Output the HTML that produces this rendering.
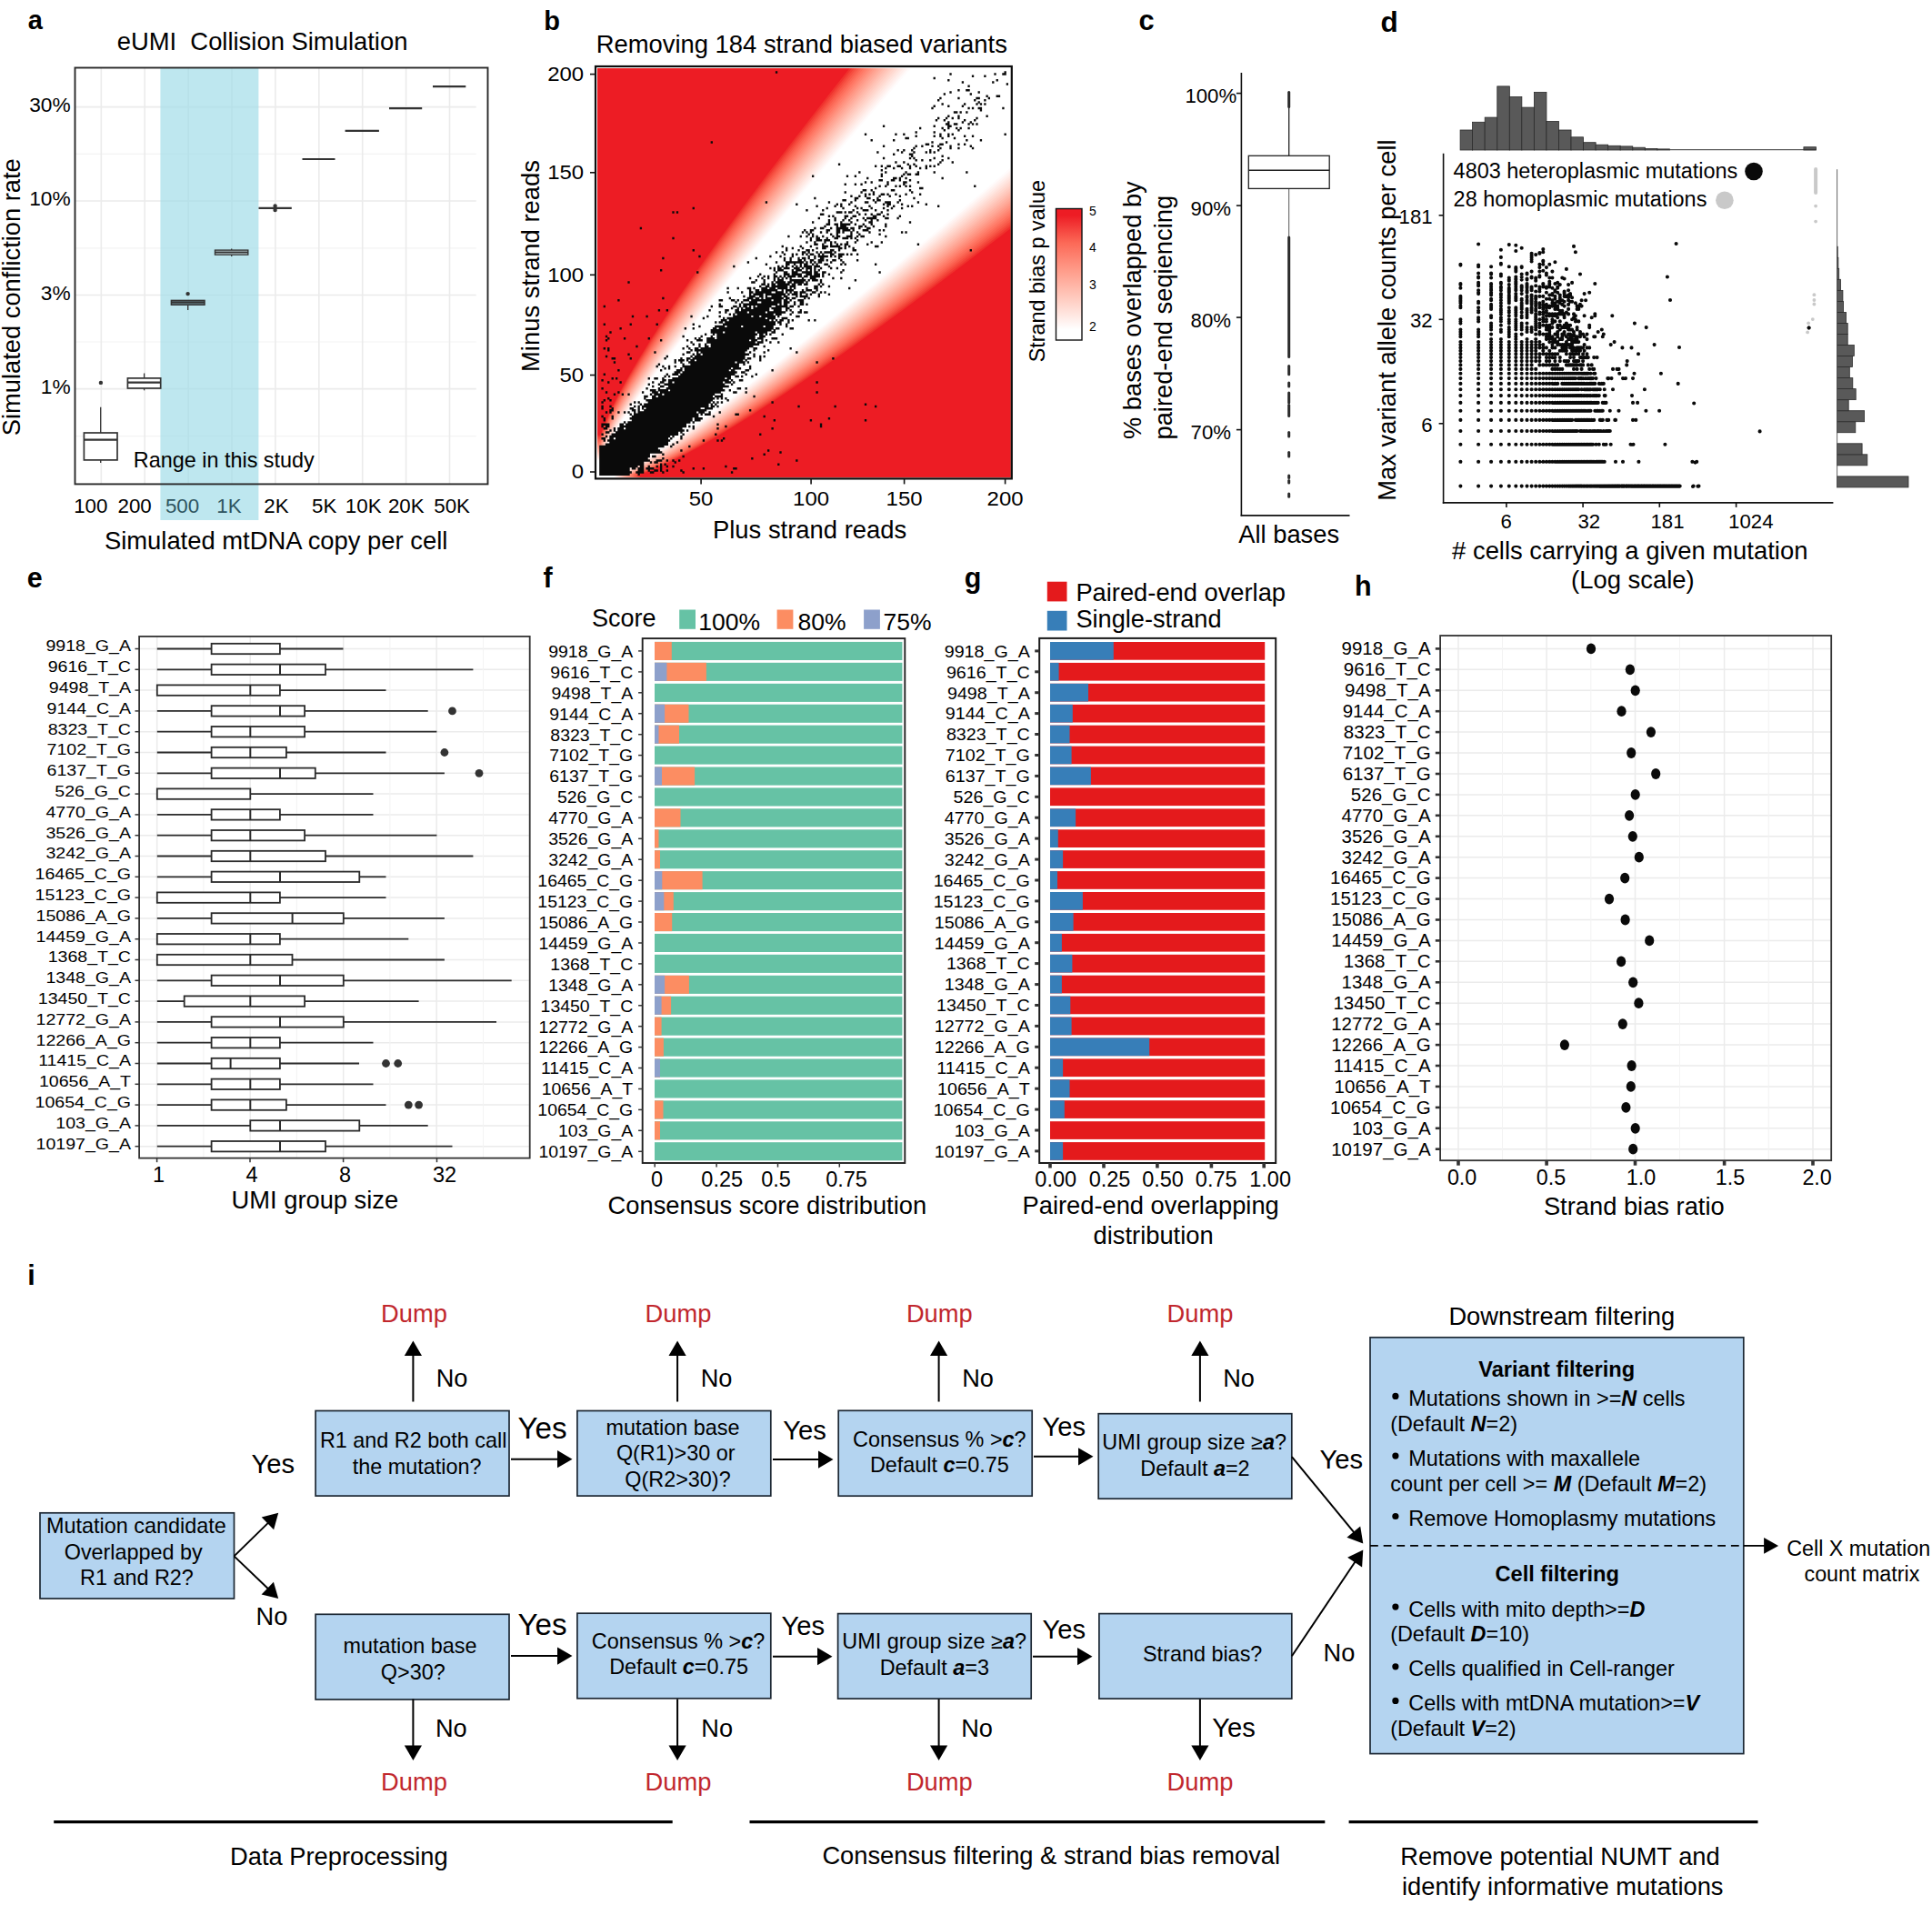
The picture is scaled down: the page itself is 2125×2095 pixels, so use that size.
<!DOCTYPE html>
<html><head><meta charset="utf-8"><title>Figure</title>
<style>html,body{margin:0;padding:0;background:#fff}svg{display:block}text{font-family:"Liberation Sans",sans-serif}</style></head><body>
<svg width="2125" height="2095" viewBox="0 0 2125 2095">
<rect width="2125" height="2095" fill="#fff"/>
<g id="pa">
<text x="30.8" y="32.3" font-size="29.00" font-weight="bold">a</text>
<text x="128.7" y="55.2" font-size="27.40">eUMI  Collision Simulation</text>
<line x1="82.5" y1="117.6" x2="523.8" y2="117.6" stroke="#ebebeb" stroke-width="1.6"/>
<line x1="82.5" y1="221.0" x2="523.8" y2="221.0" stroke="#ebebeb" stroke-width="1.6"/>
<line x1="82.5" y1="324.5" x2="523.8" y2="324.5" stroke="#ebebeb" stroke-width="1.6"/>
<line x1="82.5" y1="427.6" x2="523.8" y2="427.6" stroke="#ebebeb" stroke-width="1.6"/>
<line x1="82.5" y1="169.3" x2="523.8" y2="169.3" stroke="#f3f3f3" stroke-width="1.2"/>
<line x1="82.5" y1="272.8" x2="523.8" y2="272.8" stroke="#f3f3f3" stroke-width="1.2"/>
<line x1="82.5" y1="376.0" x2="523.8" y2="376.0" stroke="#f3f3f3" stroke-width="1.2"/>
<line x1="82.5" y1="479.6" x2="523.8" y2="479.6" stroke="#f3f3f3" stroke-width="1.2"/>
<line x1="111.3" y1="74.5" x2="111.3" y2="532.4" stroke="#ebebeb" stroke-width="1.6"/>
<line x1="159.2" y1="74.5" x2="159.2" y2="532.4" stroke="#ebebeb" stroke-width="1.6"/>
<line x1="207.1" y1="74.5" x2="207.1" y2="532.4" stroke="#ebebeb" stroke-width="1.6"/>
<line x1="255.0" y1="74.5" x2="255.0" y2="532.4" stroke="#ebebeb" stroke-width="1.6"/>
<line x1="302.9" y1="74.5" x2="302.9" y2="532.4" stroke="#ebebeb" stroke-width="1.6"/>
<line x1="350.8" y1="74.5" x2="350.8" y2="532.4" stroke="#ebebeb" stroke-width="1.6"/>
<line x1="398.7" y1="74.5" x2="398.7" y2="532.4" stroke="#ebebeb" stroke-width="1.6"/>
<line x1="446.6" y1="74.5" x2="446.6" y2="532.4" stroke="#ebebeb" stroke-width="1.6"/>
<line x1="494.5" y1="74.5" x2="494.5" y2="532.4" stroke="#ebebeb" stroke-width="1.6"/>
<rect x="176.4" y="74.5" width="108.0" height="497.5" fill="#9fdbe8" opacity="0.68"/>
<rect x="82.5" y="74.5" width="454.0" height="457.9" fill="none" stroke="#2a2a2a" stroke-width="1.9"/>
<text x="77.6" y="123.0" font-size="22.70" text-anchor="end">30%</text>
<text x="77.6" y="226.4" font-size="22.70" text-anchor="end">10%</text>
<text x="77.6" y="329.9" font-size="22.70" text-anchor="end">3%</text>
<text x="77.6" y="433.0" font-size="22.70" text-anchor="end">1%</text>
<text x="99.8" y="563.7" font-size="22.30" text-anchor="middle">100</text>
<text x="148.1" y="563.7" font-size="22.30" text-anchor="middle">200</text>
<text x="200.5" y="563.7" font-size="22.30" text-anchor="middle" fill="#2f5560">500</text>
<text x="251.9" y="563.7" font-size="22.30" text-anchor="middle" fill="#2f5560">1K</text>
<text x="304.0" y="563.7" font-size="22.30" text-anchor="middle">2K</text>
<text x="356.7" y="563.7" font-size="22.30" text-anchor="middle">5K</text>
<text x="399.7" y="563.7" font-size="22.30" text-anchor="middle">10K</text>
<text x="446.8" y="563.7" font-size="22.30" text-anchor="middle">20K</text>
<text x="497.1" y="563.7" font-size="22.30" text-anchor="middle">50K</text>
<text x="114.9" y="604.4" font-size="27.40">Simulated mtDNA copy per cell</text>
<text x="22.0" y="326.7" font-size="27.30" text-anchor="middle" transform="rotate(-90 22.0 326.7)">Simulated confliction rate</text>
<text x="146.8" y="514.4" font-size="23.40">Range in this study</text>
<line x1="110.7" y1="447.8" x2="110.7" y2="476.0" stroke="#333" stroke-width="1.3"/>
<line x1="110.7" y1="505.9" x2="110.7" y2="509.0" stroke="#333" stroke-width="1.3"/>
<rect x="92.4" y="476.0" width="36.6" height="29.9" fill="#fff" stroke="#333" stroke-width="1.7"/>
<line x1="92.4" y1="483.7" x2="129.0" y2="483.7" stroke="#333" stroke-width="2.21"/>
<circle cx="110.9" cy="420.9" r="2.2" fill="#333"/>
<line x1="158.6" y1="410.5" x2="158.6" y2="415.9" stroke="#333" stroke-width="1.3"/>
<line x1="158.6" y1="427.0" x2="158.6" y2="429.3" stroke="#333" stroke-width="1.3"/>
<rect x="140.4" y="415.9" width="36.3" height="11.1" fill="#fff" stroke="#333" stroke-width="1.7"/>
<line x1="140.4" y1="420.6" x2="176.7" y2="420.6" stroke="#333" stroke-width="2.21"/>
<line x1="206.7" y1="330.0" x2="206.7" y2="330.4" stroke="#333" stroke-width="1.3"/>
<line x1="206.7" y1="335.2" x2="206.7" y2="341.0" stroke="#333" stroke-width="1.3"/>
<rect x="188.4" y="330.4" width="36.6" height="4.8" fill="#6d8b93" stroke="#333" stroke-width="1.5"/>
<line x1="188.4" y1="332.5" x2="225.0" y2="332.5" stroke="#333" stroke-width="1.9500000000000002"/>
<circle cx="206.6" cy="323.1" r="2.2" fill="#333"/>
<line x1="254.7" y1="273.5" x2="254.7" y2="275.1" stroke="#333" stroke-width="1.3"/>
<line x1="254.7" y1="280.1" x2="254.7" y2="282.0" stroke="#333" stroke-width="1.3"/>
<rect x="236.5" y="275.1" width="36.3" height="5.0" fill="#d9f0f5" stroke="#333" stroke-width="1.4"/>
<line x1="236.5" y1="277.5" x2="272.8" y2="277.5" stroke="#333" stroke-width="1.8199999999999998"/>
<line x1="284.5" y1="228.8" x2="320.8" y2="228.8" stroke="#333" stroke-width="2.2"/>
<line x1="332.5" y1="175.0" x2="368.5" y2="175.0" stroke="#333" stroke-width="2.2"/>
<line x1="379.6" y1="143.8" x2="416.9" y2="143.8" stroke="#333" stroke-width="2.2"/>
<line x1="428.0" y1="119.2" x2="464.2" y2="119.2" stroke="#333" stroke-width="2.2"/>
<line x1="476.0" y1="95.1" x2="512.3" y2="95.1" stroke="#333" stroke-width="2.2"/>
<circle cx="302.6" cy="226.5" r="2.2" fill="#333"/>
<circle cx="302.6" cy="231.0" r="2.2" fill="#333"/>
</g>
<g id="pb">
<text x="598.3" y="32.8" font-size="29.00" font-weight="bold">b</text>
<text x="655.7" y="57.8" font-size="27.40">Removing 184 strand biased variants</text>
<clipPath id="cpb"><rect x="657.0" y="75.6" width="454.2" height="449.2"/></clipPath>
<g clip-path="url(#cpb)">
<polygon points="660.3,506.7 661.6,503.1 663.1,499.7 664.6,496.3 666.2,493.1 667.9,489.9 669.6,486.7 671.4,483.6 673.2,480.5 675.0,477.4 676.9,474.4 678.8,471.3 680.7,468.3 682.6,465.4 684.5,462.4 686.4,459.4 688.4,456.5 690.4,453.6 692.4,450.7 694.4,447.8 696.4,444.9 698.4,442.0 700.4,439.1 702.5,436.3 704.5,433.4 706.4,430.9 719.7,412.8 733.2,394.9 746.9,377.2 760.8,359.6 774.7,342.2 788.8,324.8 802.9,307.5 817.2,290.3 831.4,273.2 845.8,256.1 860.2,239.0 874.6,222.0 889.1,205.1 903.6,188.2 918.1,171.3 932.7,154.4 947.3,137.6 962.0,120.8 976.6,104.1 991.3,87.3 1006.0,70.6 1020.7,53.9 1035.5,37.2 1050.3,20.6 1065.1,3.9 1079.9,-12.7 1094.7,-29.3 1109.5,-45.9 1124.4,-62.5 1139.2,-79.1 1154.1,-95.6 1169.0,-112.1 1183.9,-128.7 1198.8,-145.2 1213.8,-161.7 1228.7,-178.2 1243.7,-194.7 1258.6,-211.1 1273.6,-227.6 1288.6,-244.0 1303.6,-260.5 1318.6,-276.9 1333.6,-293.3 1348.6,-309.8 1363.6,-326.2 1378.7,-342.6 1393.7,-359.0 1408.7,-375.3 1423.8,-391.7 1438.9,-408.1 1453.9,-424.5 1469.0,-440.8 1484.1,-457.2 1499.2,-473.5 1514.3,-489.9 1529.4,-506.2 1544.5,-522.5 1559.6,-538.8 1574.7,-555.1 638.0,-1459.1 638.0,506.7" fill="#fffbfb"/>
<polygon points="675.6,521.8 679.2,520.5 682.7,519.1 686.1,517.5 689.4,515.9 692.6,514.3 695.8,512.6 699.0,510.8 702.1,509.0 705.2,507.2 708.3,505.4 711.4,503.6 714.4,501.7 717.4,499.8 720.4,497.9 723.4,496.0 726.3,494.0 729.3,492.1 732.2,490.1 735.2,488.1 738.1,486.1 741.0,484.1 743.9,482.1 746.8,480.1 749.7,478.1 752.3,476.3 770.6,463.1 788.7,449.7 806.6,436.2 824.4,422.5 842.0,408.7 859.6,394.8 877.1,380.8 894.5,366.7 911.8,352.6 929.1,338.4 946.3,324.2 963.5,310.0 980.7,295.7 997.8,281.3 1014.9,266.9 1031.9,252.5 1048.9,238.1 1065.9,223.6 1082.9,209.1 1099.8,194.6 1116.7,180.0 1133.6,165.5 1150.5,150.9 1167.4,136.3 1184.2,121.7 1201.0,107.0 1217.8,92.4 1234.6,77.7 1251.4,63.0 1268.1,48.3 1284.9,33.6 1301.6,18.9 1318.3,4.2 1335.0,-10.6 1351.7,-25.3 1368.4,-40.1 1385.1,-54.9 1401.7,-69.7 1418.4,-84.5 1435.0,-99.3 1451.6,-114.1 1468.3,-128.9 1484.9,-143.8 1501.5,-158.6 1518.1,-173.5 1534.7,-188.3 1551.3,-203.2 1567.8,-218.1 1584.4,-233.0 1601.0,-247.9 1617.5,-262.7 1634.1,-277.7 1650.6,-292.6 1667.1,-307.5 1683.7,-322.4 1700.2,-337.3 1716.7,-352.3 1733.2,-367.2 1749.7,-382.2 2664.1,543.8 675.6,543.8" fill="#fffbfb"/>
<polygon points="660.3,505.8 661.6,502.3 663.0,498.9 664.6,495.5 666.2,492.3 667.8,489.1 669.5,485.9 671.2,482.8 673.0,479.7 674.8,476.7 676.6,473.6 678.5,470.6 680.4,467.6 682.2,464.6 684.1,461.7 686.1,458.8 688.0,455.8 689.9,452.9 691.9,450.0 693.9,447.1 695.9,444.2 697.9,441.4 699.9,438.5 701.9,435.7 703.9,432.8 705.7,430.2 719.0,412.1 732.5,394.1 746.1,376.4 759.9,358.8 773.8,341.2 787.8,323.8 801.9,306.5 816.1,289.3 830.3,272.1 844.6,254.9 859.0,237.9 873.4,220.8 887.8,203.8 902.3,186.9 916.8,170.0 931.3,153.1 945.9,136.2 960.5,119.4 975.2,102.6 989.8,85.8 1004.5,69.1 1019.2,52.4 1033.9,35.7 1048.7,19.0 1063.4,2.3 1078.2,-14.4 1093.0,-31.0 1107.8,-47.6 1122.6,-64.2 1137.5,-80.8 1152.3,-97.4 1167.2,-113.9 1182.1,-130.5 1197.0,-147.0 1211.9,-163.6 1226.8,-180.1 1241.7,-196.6 1256.7,-213.1 1271.6,-229.6 1286.6,-246.0 1301.5,-262.5 1316.5,-279.0 1331.5,-295.4 1346.5,-311.8 1361.5,-328.3 1376.5,-344.7 1391.5,-361.1 1406.6,-377.5 1421.6,-393.9 1436.6,-410.3 1451.7,-426.7 1466.7,-443.1 1481.8,-459.4 1496.9,-475.8 1512.0,-492.2 1527.0,-508.5 1542.1,-524.9 1557.2,-541.2 1572.3,-557.5 638.0,-1459.1 638.0,505.8" fill="#fff5f3"/>
<polygon points="676.4,521.8 680.0,520.5 683.5,519.1 686.9,517.6 690.2,516.0 693.4,514.4 696.6,512.7 699.8,511.0 702.9,509.2 706.0,507.5 709.0,505.7 712.1,503.8 715.1,502.0 718.1,500.1 721.1,498.2 724.1,496.3 727.0,494.4 730.0,492.5 732.9,490.6 735.8,488.6 738.8,486.6 741.7,484.7 744.5,482.7 747.4,480.7 750.3,478.7 752.9,476.9 771.3,463.8 789.4,450.5 807.4,437.0 825.2,423.3 842.9,409.6 860.6,395.7 878.1,381.8 895.5,367.8 912.9,353.7 930.2,339.6 947.5,325.4 964.8,311.2 981.9,296.9 999.1,282.6 1016.2,268.2 1033.3,253.9 1050.3,239.5 1067.3,225.0 1084.3,210.6 1101.3,196.1 1118.3,181.6 1135.2,167.0 1152.1,152.5 1169.0,137.9 1185.8,123.3 1202.7,108.7 1219.5,94.1 1236.3,79.4 1253.1,64.8 1269.9,50.1 1286.7,35.4 1303.4,20.7 1320.2,6.0 1336.9,-8.7 1353.6,-23.5 1370.3,-38.2 1387.0,-53.0 1403.7,-67.7 1420.4,-82.5 1437.0,-97.3 1453.7,-112.1 1470.3,-126.9 1487.0,-141.7 1503.6,-156.5 1520.2,-171.4 1536.8,-186.2 1553.4,-201.1 1570.0,-215.9 1586.6,-230.8 1603.2,-245.6 1619.8,-260.5 1636.3,-275.4 1652.9,-290.3 1669.5,-305.2 1686.0,-320.1 1702.5,-335.0 1719.1,-349.9 1735.6,-364.8 1752.1,-379.8 2664.1,543.8 676.4,543.8" fill="#fff5f3"/>
<polygon points="660.3,505.0 661.6,501.5 663.0,498.1 664.5,494.7 666.1,491.5 667.7,488.3 669.4,485.1 671.1,482.0 672.8,478.9 674.6,475.9 676.4,472.9 678.2,469.9 680.1,466.9 681.9,463.9 683.8,461.0 685.7,458.1 687.6,455.1 689.5,452.2 691.4,449.3 693.4,446.5 695.3,443.6 697.3,440.7 699.3,437.9 701.3,435.0 703.3,432.2 705.1,429.6 718.3,411.4 731.7,393.4 745.3,375.6 759.0,357.9 772.9,340.3 786.9,322.9 800.9,305.5 815.0,288.2 829.2,271.0 843.5,253.8 857.8,236.7 872.2,219.6 886.6,202.6 901.0,185.6 915.5,168.7 930.0,151.7 944.5,134.9 959.1,118.0 973.7,101.2 988.3,84.4 1003.0,67.6 1017.6,50.8 1032.3,34.1 1047.0,17.4 1061.8,0.7 1076.5,-16.0 1091.3,-32.7 1106.1,-49.3 1120.9,-65.9 1135.7,-82.6 1150.5,-99.2 1165.4,-115.7 1180.2,-132.3 1195.1,-148.9 1210.0,-165.4 1224.9,-182.0 1239.8,-198.5 1254.7,-215.0 1269.6,-231.5 1284.6,-248.0 1299.5,-264.5 1314.5,-281.0 1329.4,-297.5 1344.4,-313.9 1359.4,-330.4 1374.4,-346.8 1389.4,-363.2 1404.4,-379.7 1419.4,-396.1 1434.4,-412.5 1449.4,-428.9 1464.5,-445.3 1479.5,-461.7 1494.6,-478.1 1509.6,-494.5 1524.7,-510.8 1539.8,-527.2 1554.8,-543.5 1569.9,-559.9 638.0,-1459.1 638.0,505.0" fill="#ffefec"/>
<polygon points="677.3,521.8 680.9,520.5 684.3,519.1 687.7,517.6 691.0,516.1 694.2,514.5 697.4,512.8 700.5,511.1 703.6,509.4 706.7,507.7 709.8,505.9 712.8,504.1 715.8,502.3 718.8,500.4 721.8,498.6 724.8,496.7 727.7,494.8 730.7,492.9 733.6,491.0 736.5,489.1 739.4,487.2 742.3,485.2 745.2,483.3 748.1,481.3 750.9,479.3 753.6,477.5 772.0,464.5 790.2,451.2 808.2,437.8 826.1,424.2 843.9,410.5 861.5,396.7 879.1,382.8 896.6,368.8 914.0,354.8 931.4,340.7 948.7,326.6 966.0,312.4 983.2,298.1 1000.4,283.9 1017.5,269.6 1034.6,255.2 1051.7,240.8 1068.8,226.4 1085.8,212.0 1102.8,197.5 1119.8,183.1 1136.7,168.6 1153.7,154.0 1170.6,139.5 1187.5,124.9 1204.3,110.3 1221.2,95.7 1238.0,81.1 1254.9,66.5 1271.7,51.8 1288.5,37.2 1305.2,22.5 1322.0,7.8 1338.8,-6.9 1355.5,-21.6 1372.2,-36.3 1388.9,-51.0 1405.7,-65.8 1422.4,-80.5 1439.0,-95.3 1455.7,-110.1 1472.4,-124.9 1489.0,-139.7 1505.7,-154.5 1522.3,-169.3 1539.0,-184.1 1555.6,-198.9 1572.2,-213.8 1588.8,-228.6 1605.4,-243.4 1622.0,-258.3 1638.6,-273.2 1655.2,-288.0 1671.8,-302.9 1688.3,-317.8 1704.9,-332.7 1721.4,-347.6 1738.0,-362.5 1754.5,-377.4 2664.1,543.8 677.3,543.8" fill="#ffefec"/>
<polygon points="660.3,504.1 661.6,500.6 663.0,497.2 664.4,493.9 666.0,490.7 667.6,487.5 669.2,484.3 670.9,481.2 672.6,478.2 674.4,475.1 676.2,472.1 677.9,469.1 679.8,466.2 681.6,463.2 683.4,460.3 685.3,457.3 687.2,454.4 689.1,451.5 691.0,448.7 692.9,445.8 694.8,442.9 696.8,440.1 698.7,437.2 700.7,434.4 702.6,431.6 704.5,429.0 717.6,410.7 730.9,392.6 744.5,374.8 758.2,357.0 772.0,339.4 785.9,321.9 799.9,304.5 814.0,287.2 828.1,269.9 842.3,252.7 856.6,235.5 870.9,218.4 885.3,201.4 899.7,184.3 914.1,167.3 928.6,150.4 943.1,133.5 957.7,116.6 972.2,99.7 986.8,82.9 1001.4,66.1 1016.1,49.3 1030.8,32.5 1045.4,15.8 1060.1,-0.9 1074.9,-17.6 1089.6,-34.3 1104.4,-51.0 1119.1,-67.7 1133.9,-84.3 1148.7,-100.9 1163.6,-117.5 1178.4,-134.1 1193.2,-150.7 1208.1,-167.3 1223.0,-183.9 1237.8,-200.4 1252.7,-217.0 1267.6,-233.5 1282.5,-250.0 1297.5,-266.5 1312.4,-283.0 1327.3,-299.5 1342.3,-316.0 1357.3,-332.5 1372.2,-348.9 1387.2,-365.4 1402.2,-381.8 1417.2,-398.3 1432.2,-414.7 1447.2,-431.1 1462.2,-447.5 1477.2,-464.0 1492.3,-480.4 1507.3,-496.8 1522.3,-513.1 1537.4,-529.5 1552.4,-545.9 1567.5,-562.3 638.0,-1459.1 638.0,504.1" fill="#ffe9e4"/>
<polygon points="678.2,521.8 681.8,520.5 685.2,519.2 688.5,517.7 691.8,516.2 695.0,514.6 698.2,513.0 701.3,511.3 704.4,509.6 707.5,507.9 710.6,506.1 713.6,504.4 716.6,502.6 719.6,500.8 722.5,498.9 725.5,497.1 728.4,495.2 731.4,493.3 734.3,491.5 737.2,489.6 740.1,487.7 743.0,485.7 745.8,483.8 748.7,481.9 751.6,479.9 754.2,478.1 772.7,465.2 791.0,452.0 809.0,438.6 827.0,425.1 844.8,411.4 862.5,397.7 880.1,383.8 897.7,369.9 915.1,355.9 932.5,341.8 949.9,327.7 967.2,313.6 984.5,299.4 1001.7,285.1 1018.9,270.9 1036.0,256.6 1053.1,242.2 1070.2,227.8 1087.3,213.4 1104.3,199.0 1121.3,184.6 1138.3,170.1 1155.2,155.6 1172.2,141.1 1189.1,126.5 1206.0,112.0 1222.9,97.4 1239.7,82.8 1256.6,68.2 1273.4,53.6 1290.3,39.0 1307.1,24.3 1323.8,9.7 1340.6,-5.0 1357.4,-19.7 1374.1,-34.4 1390.9,-49.1 1407.6,-63.8 1424.3,-78.6 1441.1,-93.3 1457.8,-108.1 1474.4,-122.8 1491.1,-137.6 1507.8,-152.4 1524.5,-167.2 1541.1,-182.0 1557.8,-196.8 1574.4,-211.6 1591.0,-226.4 1607.6,-241.2 1624.3,-256.1 1640.9,-270.9 1657.5,-285.8 1674.1,-300.6 1690.7,-315.5 1707.2,-330.4 1723.8,-345.2 1740.4,-360.1 1756.9,-375.0 2664.1,543.8 678.2,543.8" fill="#ffe9e4"/>
<polygon points="660.3,503.2 661.6,499.7 662.9,496.3 664.4,493.1 665.9,489.8 667.5,486.7 669.1,483.5 670.8,480.4 672.4,477.4 674.2,474.4 675.9,471.3 677.7,468.4 679.5,465.4 681.3,462.5 683.1,459.5 684.9,456.6 686.8,453.7 688.7,450.9 690.5,448.0 692.4,445.1 694.3,442.3 696.2,439.4 698.2,436.6 700.1,433.8 702.0,431.0 703.8,428.4 716.9,410.0 730.2,391.9 743.6,373.9 757.3,356.2 771.0,338.5 784.9,321.0 798.9,303.5 812.9,286.1 827.0,268.8 841.2,251.5 855.4,234.4 869.7,217.2 884.0,200.1 898.4,183.1 912.8,166.0 927.3,149.0 941.7,132.1 956.2,115.2 970.8,98.3 985.3,81.4 999.9,64.6 1014.5,47.8 1029.2,31.0 1043.8,14.2 1058.5,-2.6 1073.2,-19.3 1087.9,-36.0 1102.6,-52.7 1117.4,-69.4 1132.2,-86.1 1146.9,-102.7 1161.7,-119.3 1176.5,-136.0 1191.4,-152.6 1206.2,-169.2 1221.0,-185.8 1235.9,-202.3 1250.8,-218.9 1265.6,-235.5 1280.5,-252.0 1295.4,-268.5 1310.3,-285.1 1325.3,-301.6 1340.2,-318.1 1355.1,-334.6 1370.1,-351.0 1385.0,-367.5 1400.0,-384.0 1415.0,-400.4 1430.0,-416.9 1444.9,-433.3 1459.9,-449.8 1474.9,-466.2 1490.0,-482.6 1505.0,-499.1 1520.0,-515.5 1535.0,-531.9 1550.1,-548.3 1565.1,-564.7 638.0,-1459.1 638.0,503.2" fill="#ffe3dc"/>
<polygon points="679.1,521.8 682.6,520.6 686.1,519.2 689.4,517.8 692.6,516.3 695.9,514.7 699.0,513.1 702.1,511.5 705.2,509.8 708.3,508.1 711.3,506.4 714.3,504.6 717.3,502.9 720.3,501.1 723.3,499.3 726.2,497.5 729.2,495.6 732.1,493.8 735.0,491.9 737.9,490.0 740.7,488.2 743.6,486.3 746.5,484.4 749.3,482.5 752.2,480.6 754.8,478.8 773.4,465.9 791.7,452.7 809.9,439.4 827.9,425.9 845.7,412.3 863.5,398.6 881.1,384.8 898.7,370.9 916.2,357.0 933.7,343.0 951.1,328.9 968.4,314.8 985.7,300.6 1003.0,286.4 1020.2,272.2 1037.4,257.9 1054.5,243.6 1071.6,229.3 1088.7,214.9 1105.8,200.5 1122.8,186.1 1139.8,171.6 1156.8,157.2 1173.8,142.7 1190.7,128.2 1207.7,113.6 1224.6,99.1 1241.5,84.5 1258.3,69.9 1275.2,55.3 1292.0,40.7 1308.9,26.1 1325.7,11.5 1342.5,-3.2 1359.3,-17.8 1376.1,-32.5 1392.8,-47.2 1409.6,-61.9 1426.3,-76.6 1443.1,-91.3 1459.8,-106.1 1476.5,-120.8 1493.2,-135.6 1509.9,-150.3 1526.6,-165.1 1543.3,-179.9 1559.9,-194.6 1576.6,-209.4 1593.2,-224.2 1609.9,-239.0 1626.5,-253.9 1643.1,-268.7 1659.8,-283.5 1676.4,-298.4 1693.0,-313.2 1709.6,-328.1 1726.2,-342.9 1742.8,-357.8 1759.3,-372.6 2664.1,543.8 679.1,543.8" fill="#ffe3dc"/>
<polygon points="660.3,502.3 661.5,498.8 662.9,495.5 664.3,492.2 665.8,489.0 667.4,485.8 669.0,482.7 670.6,479.6 672.3,476.6 674.0,473.6 675.7,470.6 677.4,467.6 679.2,464.7 680.9,461.7 682.7,458.8 684.6,455.9 686.4,453.0 688.2,450.2 690.1,447.3 691.9,444.5 693.8,441.6 695.7,438.8 697.6,436.0 699.5,433.2 701.4,430.4 703.2,427.7 716.2,409.3 729.4,391.1 742.8,373.1 756.4,355.3 770.1,337.6 783.9,320.0 797.9,302.5 811.9,285.1 825.9,267.7 840.1,250.4 854.2,233.2 868.5,216.0 882.8,198.9 897.1,181.8 911.5,164.7 925.9,147.7 940.3,130.7 954.8,113.8 969.3,96.8 983.8,79.9 998.4,63.1 1013.0,46.2 1027.6,29.4 1042.2,12.6 1056.9,-4.2 1071.5,-20.9 1086.2,-37.7 1100.9,-54.4 1115.6,-71.1 1130.4,-87.8 1145.1,-104.5 1159.9,-121.1 1174.7,-137.8 1189.5,-154.4 1204.3,-171.1 1219.1,-187.7 1234.0,-204.3 1248.8,-220.8 1263.7,-237.4 1278.5,-254.0 1293.4,-270.5 1308.3,-287.1 1323.2,-303.6 1338.1,-320.1 1353.0,-336.7 1367.9,-353.2 1382.9,-369.7 1397.8,-386.1 1412.8,-402.6 1427.7,-419.1 1442.7,-435.6 1457.7,-452.0 1472.7,-468.5 1487.6,-484.9 1502.6,-501.4 1517.6,-517.8 1532.7,-534.2 1547.7,-550.6 1562.7,-567.0 638.0,-1459.1 638.0,502.3" fill="#ffdcd4"/>
<polygon points="680.1,521.8 683.6,520.6 687.0,519.2 690.3,517.8 693.5,516.3 696.7,514.8 699.9,513.2 703.0,511.6 706.0,510.0 709.1,508.3 712.1,506.6 715.1,504.9 718.1,503.1 721.1,501.4 724.0,499.6 727.0,497.8 729.9,496.0 732.8,494.2 735.7,492.4 738.5,490.5 741.4,488.7 744.3,486.8 747.1,484.9 750.0,483.1 752.8,481.2 755.4,479.4 774.1,466.6 792.5,453.5 810.7,440.2 828.7,426.8 846.6,413.2 864.4,399.6 882.2,385.8 899.8,372.0 917.3,358.1 934.8,344.1 952.3,330.1 969.6,316.0 987.0,301.9 1004.3,287.7 1021.5,273.5 1038.7,259.3 1055.9,245.0 1073.1,230.7 1090.2,216.3 1107.3,202.0 1124.3,187.6 1141.4,173.2 1158.4,158.7 1175.4,144.3 1192.4,129.8 1209.3,115.3 1226.3,100.8 1243.2,86.2 1260.1,71.7 1277.0,57.1 1293.8,42.5 1310.7,27.9 1327.5,13.3 1344.4,-1.3 1361.2,-16.0 1378.0,-30.6 1394.8,-45.3 1411.6,-60.0 1428.3,-74.6 1445.1,-89.3 1461.8,-104.0 1478.6,-118.8 1495.3,-133.5 1512.0,-148.2 1528.7,-163.0 1545.4,-177.7 1562.1,-192.5 1578.8,-207.3 1595.4,-222.1 1612.1,-236.8 1628.8,-251.6 1645.4,-266.4 1662.0,-281.3 1678.7,-296.1 1695.3,-310.9 1711.9,-325.7 1728.5,-340.6 1745.1,-355.4 1761.7,-370.3 2664.1,543.8 680.1,543.8" fill="#ffdcd4"/>
<polygon points="660.3,501.3 661.5,497.9 662.9,494.5 664.3,491.3 665.8,488.1 667.3,485.0 668.8,481.9 670.4,478.8 672.1,475.8 673.7,472.8 675.4,469.8 677.1,466.8 678.9,463.9 680.6,461.0 682.4,458.1 684.2,455.2 686.0,452.3 687.8,449.5 689.6,446.6 691.4,443.8 693.3,441.0 695.2,438.1 697.0,435.3 698.9,432.5 700.8,429.8 702.6,427.1 715.5,408.6 728.6,390.4 742.0,372.3 755.5,354.4 769.2,336.7 783.0,319.0 796.8,301.5 810.8,284.0 824.8,266.6 838.9,249.3 853.1,232.0 867.3,214.8 881.5,197.6 895.8,180.5 910.2,163.4 924.5,146.4 938.9,129.3 953.4,112.4 967.9,95.4 982.4,78.5 996.9,61.6 1011.4,44.7 1026.0,27.8 1040.6,11.0 1055.2,-5.8 1069.9,-22.6 1084.5,-39.4 1099.2,-56.1 1113.9,-72.8 1128.6,-89.6 1143.3,-106.3 1158.1,-123.0 1172.8,-139.6 1187.6,-156.3 1202.4,-172.9 1217.2,-189.6 1232.0,-206.2 1246.8,-222.8 1261.7,-239.4 1276.5,-256.0 1291.4,-272.6 1306.2,-289.1 1321.1,-305.7 1336.0,-322.2 1350.9,-338.8 1365.8,-355.3 1380.7,-371.8 1395.6,-388.3 1410.6,-404.8 1425.5,-421.3 1440.5,-437.8 1455.4,-454.3 1470.4,-470.7 1485.3,-487.2 1500.3,-503.7 1515.3,-520.1 1530.3,-536.5 1545.3,-553.0 1560.3,-569.4 638.0,-1459.1 638.0,501.3" fill="#ffd6cc"/>
<polygon points="681.0,521.8 684.5,520.6 687.9,519.3 691.2,517.9 694.4,516.4 697.6,514.9 700.7,513.4 703.8,511.8 706.9,510.2 709.9,508.5 712.9,506.8 715.9,505.1 718.9,503.4 721.8,501.7 724.8,500.0 727.7,498.2 730.6,496.4 733.5,494.6 736.4,492.8 739.2,491.0 742.1,489.2 744.9,487.3 747.8,485.5 750.6,483.6 753.4,481.8 756.1,480.0 774.8,467.3 793.3,454.2 811.5,441.0 829.6,427.7 847.6,414.2 865.4,400.5 883.2,386.8 900.8,373.0 918.4,359.2 936.0,345.2 953.4,331.2 970.9,317.2 988.2,303.1 1005.6,289.0 1022.8,274.8 1040.1,260.6 1057.3,246.4 1074.5,232.1 1091.6,217.8 1108.8,203.4 1125.9,189.1 1142.9,174.7 1160.0,160.3 1177.0,145.8 1194.0,131.4 1211.0,116.9 1228.0,102.4 1244.9,87.9 1261.8,73.4 1278.7,58.8 1295.6,44.3 1312.5,29.7 1329.4,15.1 1346.2,0.5 1363.1,-14.1 1379.9,-28.7 1396.7,-43.4 1413.5,-58.0 1430.3,-72.7 1447.1,-87.4 1463.9,-102.0 1480.6,-116.7 1497.4,-131.4 1514.1,-146.2 1530.8,-160.9 1547.5,-175.6 1564.3,-190.4 1581.0,-205.1 1597.6,-219.9 1614.3,-234.6 1631.0,-249.4 1647.7,-264.2 1664.3,-279.0 1681.0,-293.8 1697.6,-308.6 1714.3,-323.4 1730.9,-338.2 1747.5,-353.1 1764.2,-367.9 2664.1,543.8 681.0,543.8" fill="#ffd6cc"/>
<polygon points="660.3,500.3 661.5,496.9 662.8,493.6 664.2,490.4 665.7,487.2 667.2,484.1 668.7,481.0 670.3,477.9 671.9,474.9 673.5,471.9 675.2,469.0 676.9,466.0 678.6,463.1 680.3,460.2 682.1,457.3 683.8,454.4 685.6,451.6 687.4,448.7 689.2,445.9 691.0,443.1 692.8,440.3 694.6,437.5 696.5,434.7 698.3,431.9 700.2,429.1 701.9,426.5 714.8,407.9 727.9,389.6 741.2,371.5 754.7,353.6 768.3,335.8 782.0,318.1 795.8,300.5 809.7,283.0 823.7,265.5 837.8,248.2 851.9,230.8 866.0,213.6 880.3,196.4 894.5,179.2 908.8,162.1 923.2,145.0 937.5,128.0 952.0,110.9 966.4,94.0 980.9,77.0 995.4,60.1 1009.9,43.2 1024.4,26.3 1039.0,9.4 1053.6,-7.4 1068.2,-24.2 1082.8,-41.0 1097.5,-57.8 1112.2,-74.6 1126.8,-91.3 1141.5,-108.0 1156.3,-124.8 1171.0,-141.4 1185.7,-158.1 1200.5,-174.8 1215.3,-191.5 1230.1,-208.1 1244.9,-224.7 1259.7,-241.4 1274.5,-258.0 1289.3,-274.6 1304.2,-291.2 1319.0,-307.7 1333.9,-324.3 1348.8,-340.9 1363.7,-357.4 1378.5,-373.9 1393.4,-390.5 1408.4,-407.0 1423.3,-423.5 1438.2,-440.0 1453.1,-456.5 1468.1,-473.0 1483.0,-489.5 1498.0,-506.0 1513.0,-522.4 1527.9,-538.9 1542.9,-555.3 1557.9,-571.8 638.0,-1459.1 638.0,500.3" fill="#ffcfc4"/>
<polygon points="682.0,521.8 685.5,520.6 688.8,519.3 692.1,517.9 695.3,516.5 698.5,515.0 701.6,513.5 704.7,511.9 707.7,510.3 710.7,508.7 713.7,507.1 716.7,505.4 719.7,503.7 722.6,502.0 725.5,500.3 728.4,498.6 731.3,496.8 734.2,495.0 737.1,493.3 739.9,491.5 742.8,489.7 745.6,487.9 748.4,486.1 751.2,484.2 754.0,482.4 756.7,480.6 775.5,467.9 794.0,455.0 812.3,441.8 830.5,428.5 848.5,415.1 866.4,401.5 884.2,387.8 901.9,374.1 919.5,360.3 937.1,346.4 954.6,332.4 972.1,318.4 989.5,304.4 1006.9,290.3 1024.2,276.1 1041.5,261.9 1058.7,247.7 1075.9,233.5 1093.1,219.2 1110.3,204.9 1127.4,190.6 1144.5,176.2 1161.6,161.8 1178.6,147.4 1195.6,133.0 1212.7,118.6 1229.6,104.1 1246.6,89.6 1263.6,75.1 1280.5,60.6 1297.4,46.1 1314.3,31.5 1331.2,17.0 1348.1,2.4 1365.0,-12.2 1381.8,-26.8 1398.7,-41.4 1415.5,-56.1 1432.3,-70.7 1449.1,-85.4 1465.9,-100.0 1482.7,-114.7 1499.4,-129.4 1516.2,-144.1 1532.9,-158.8 1549.7,-173.5 1566.4,-188.2 1583.1,-203.0 1599.9,-217.7 1616.6,-232.4 1633.3,-247.2 1649.9,-262.0 1666.6,-276.7 1683.3,-291.5 1700.0,-306.3 1716.6,-321.1 1733.3,-335.9 1749.9,-350.7 1766.6,-365.5 2664.1,543.8 682.0,543.8" fill="#ffcfc4"/>
<polygon points="660.3,499.3 661.5,495.9 662.8,492.7 664.2,489.5 665.6,486.3 667.1,483.2 668.6,480.1 670.1,477.1 671.7,474.1 673.3,471.1 675.0,468.2 676.6,465.2 678.3,462.3 680.0,459.4 681.7,456.6 683.4,453.7 685.2,450.9 686.9,448.0 688.7,445.2 690.5,442.4 692.3,439.6 694.1,436.8 695.9,434.1 697.7,431.3 699.5,428.5 701.3,425.9 714.1,407.2 727.1,388.9 740.4,370.7 753.8,352.7 767.3,334.8 781.0,317.1 794.8,299.5 808.7,281.9 822.6,264.4 836.6,247.0 850.7,229.7 864.8,212.4 879.0,195.1 893.2,177.9 907.5,160.8 921.8,143.7 936.1,126.6 950.5,109.5 964.9,92.5 979.4,75.5 993.8,58.6 1008.3,41.6 1022.9,24.7 1037.4,7.8 1052.0,-9.0 1066.5,-25.9 1081.1,-42.7 1095.8,-59.5 1110.4,-76.3 1125.1,-93.1 1139.7,-109.8 1154.4,-126.6 1169.1,-143.3 1183.9,-160.0 1198.6,-176.7 1213.4,-193.4 1228.1,-210.0 1242.9,-226.7 1257.7,-243.3 1272.5,-260.0 1287.3,-276.6 1302.1,-293.2 1317.0,-309.8 1331.8,-326.4 1346.6,-343.0 1361.5,-359.5 1376.4,-376.1 1391.3,-392.6 1406.2,-409.2 1421.0,-425.7 1436.0,-442.2 1450.9,-458.8 1465.8,-475.3 1480.7,-491.8 1495.7,-508.3 1510.6,-524.7 1525.6,-541.2 1540.5,-557.7 1555.5,-574.2 638.0,-1459.1 638.0,499.3" fill="#ffc8bc"/>
<polygon points="683.0,521.8 686.5,520.6 689.8,519.3 693.0,518.0 696.2,516.6 699.4,515.1 702.5,513.6 705.5,512.1 708.6,510.5 711.6,508.9 714.6,507.3 717.5,505.7 720.5,504.0 723.4,502.3 726.3,500.6 729.2,498.9 732.1,497.2 734.9,495.5 737.8,493.7 740.6,492.0 743.4,490.2 746.3,488.4 749.1,486.6 751.9,484.8 754.7,483.0 757.3,481.3 776.2,468.6 794.8,455.7 813.1,442.7 831.4,429.4 849.4,416.0 867.4,402.5 885.2,388.8 903.0,375.1 920.6,361.4 938.3,347.5 955.8,333.6 973.3,319.6 990.8,305.6 1008.2,291.5 1025.5,277.4 1042.8,263.3 1060.1,249.1 1077.3,234.9 1094.6,220.7 1111.7,206.4 1128.9,192.1 1146.0,177.8 1163.1,163.4 1180.2,149.0 1197.3,134.6 1214.3,120.2 1231.3,105.8 1248.3,91.3 1265.3,76.8 1282.3,62.3 1299.2,47.8 1316.2,33.3 1333.1,18.8 1350.0,4.2 1366.9,-10.3 1383.7,-24.9 1400.6,-39.5 1417.5,-54.1 1434.3,-68.7 1451.1,-83.4 1467.9,-98.0 1484.7,-112.7 1501.5,-127.3 1518.3,-142.0 1535.1,-156.7 1551.8,-171.4 1568.6,-186.1 1585.3,-200.8 1602.1,-215.5 1618.8,-230.2 1635.5,-245.0 1652.2,-259.7 1668.9,-274.5 1685.6,-289.2 1702.3,-304.0 1719.0,-318.8 1735.6,-333.6 1752.3,-348.3 1769.0,-363.1 2664.1,543.8 683.0,543.8" fill="#ffc8bc"/>
<polygon points="660.3,498.3 661.5,495.0 662.8,491.7 664.1,488.5 665.5,485.4 667.0,482.3 668.5,479.2 670.0,476.2 671.5,473.2 673.1,470.3 674.7,467.3 676.4,464.4 678.0,461.5 679.7,458.7 681.4,455.8 683.1,453.0 684.8,450.1 686.5,447.3 688.2,444.5 690.0,441.7 691.8,438.9 693.5,436.2 695.3,433.4 697.1,430.7 698.9,427.9 700.7,425.3 713.4,406.5 726.4,388.1 739.5,369.9 752.9,351.8 766.4,333.9 780.1,316.1 793.8,298.5 807.6,280.9 821.5,263.3 835.5,245.9 849.5,228.5 863.6,211.2 877.7,193.9 891.9,176.7 906.2,159.5 920.4,142.3 934.7,125.2 949.1,108.1 963.5,91.1 977.9,74.0 992.3,57.1 1006.8,40.1 1021.3,23.2 1035.8,6.2 1050.3,-10.7 1064.9,-27.5 1079.5,-44.4 1094.1,-61.2 1108.7,-78.0 1123.3,-94.8 1138.0,-111.6 1152.6,-128.4 1167.3,-145.1 1182.0,-161.8 1196.7,-178.6 1211.4,-195.3 1226.2,-211.9 1240.9,-228.6 1255.7,-245.3 1270.5,-261.9 1285.3,-278.6 1300.1,-295.2 1314.9,-311.8 1329.7,-328.4 1344.5,-345.0 1359.4,-361.6 1374.2,-378.2 1389.1,-394.8 1403.9,-411.4 1418.8,-427.9 1433.7,-444.5 1448.6,-461.0 1463.5,-477.5 1478.4,-494.0 1493.3,-510.6 1508.3,-527.1 1523.2,-543.6 1538.1,-560.1 1553.1,-576.5 638.0,-1459.1 638.0,498.3" fill="#ffc1b4"/>
<polygon points="684.1,521.8 687.5,520.6 690.8,519.4 694.0,518.0 697.2,516.6 700.3,515.2 703.4,513.7 706.4,512.2 709.4,510.7 712.4,509.1 715.4,507.5 718.3,505.9 721.3,504.3 724.2,502.6 727.1,501.0 729.9,499.3 732.8,497.6 735.7,495.9 738.5,494.2 741.3,492.4 744.1,490.7 746.9,488.9 749.7,487.2 752.5,485.4 755.3,483.6 758.0,481.9 776.9,469.3 795.5,456.5 814.0,443.5 832.2,430.2 850.3,416.9 868.3,403.4 886.2,389.8 904.0,376.2 921.8,362.4 939.4,348.6 957.0,334.8 974.5,320.8 992.0,306.8 1009.4,292.8 1026.8,278.8 1044.2,264.6 1061.5,250.5 1078.8,236.3 1096.0,222.1 1113.2,207.9 1130.4,193.6 1147.6,179.3 1164.7,165.0 1181.8,150.6 1198.9,136.2 1216.0,121.9 1233.0,107.4 1250.1,93.0 1267.1,78.6 1284.1,64.1 1301.0,49.6 1318.0,35.1 1334.9,20.6 1351.9,6.1 1368.8,-8.5 1385.7,-23.0 1402.5,-37.6 1419.4,-52.2 1436.3,-66.8 1453.1,-81.4 1470.0,-96.0 1486.8,-110.6 1503.6,-125.3 1520.4,-139.9 1537.2,-154.6 1554.0,-169.3 1570.7,-183.9 1587.5,-198.6 1604.3,-213.3 1621.0,-228.0 1637.8,-242.8 1654.5,-257.5 1671.2,-272.2 1687.9,-286.9 1704.6,-301.7 1721.3,-316.4 1738.0,-331.2 1754.7,-346.0 1771.4,-360.8 2664.1,543.8 684.1,543.8" fill="#ffc1b4"/>
<polygon points="660.3,497.2 661.5,493.9 662.7,490.7 664.1,487.5 665.4,484.4 666.9,481.3 668.3,478.3 669.8,475.3 671.4,472.4 672.9,469.4 674.5,466.5 676.1,463.6 677.7,460.7 679.4,457.9 681.0,455.0 682.7,452.2 684.4,449.4 686.1,446.6 687.8,443.8 689.5,441.0 691.3,438.3 693.0,435.5 694.8,432.8 696.5,430.0 698.3,427.3 700.0,424.6 712.7,405.9 725.6,387.4 738.7,369.1 752.0,351.0 765.5,333.0 779.1,315.2 792.8,297.5 806.5,279.8 820.4,262.2 834.3,244.8 848.3,227.3 862.4,210.0 876.5,192.6 890.6,175.4 904.8,158.1 919.1,141.0 933.4,123.8 947.7,106.7 962.0,89.6 976.4,72.6 990.8,55.6 1005.2,38.6 1019.7,21.6 1034.2,4.7 1048.7,-12.3 1063.2,-29.2 1077.8,-46.0 1092.3,-62.9 1106.9,-79.7 1121.5,-96.6 1136.2,-113.4 1150.8,-130.2 1165.5,-146.9 1180.1,-163.7 1194.8,-180.4 1209.5,-197.2 1224.2,-213.9 1239.0,-230.6 1253.7,-247.3 1268.5,-263.9 1283.2,-280.6 1298.0,-297.3 1312.8,-313.9 1327.6,-330.5 1342.4,-347.1 1357.2,-363.8 1372.1,-380.4 1386.9,-397.0 1401.7,-413.5 1416.6,-430.1 1431.5,-446.7 1446.3,-463.2 1461.2,-479.8 1476.1,-496.3 1491.0,-512.9 1505.9,-529.4 1520.8,-545.9 1535.7,-562.4 1550.7,-578.9 638.0,-1459.1 638.0,497.2" fill="#ffbaab"/>
<polygon points="685.1,521.8 688.5,520.6 691.8,519.4 695.0,518.1 698.1,516.7 701.2,515.3 704.3,513.9 707.3,512.4 710.3,510.9 713.3,509.3 716.2,507.8 719.2,506.2 722.1,504.6 725.0,502.9 727.9,501.3 730.7,499.7 733.6,498.0 736.4,496.3 739.2,494.6 742.0,492.9 744.8,491.2 747.6,489.5 750.4,487.7 753.1,486.0 755.9,484.2 758.6,482.5 777.6,470.0 796.3,457.3 814.8,444.3 833.1,431.1 851.3,417.8 869.3,404.4 887.2,390.9 905.1,377.2 922.9,363.5 940.6,349.8 958.2,335.9 975.8,322.0 993.3,308.1 1010.7,294.1 1028.2,280.1 1045.6,266.0 1062.9,251.9 1080.2,237.7 1097.5,223.5 1114.7,209.3 1131.9,195.1 1149.1,180.8 1166.3,166.5 1183.4,152.2 1200.6,137.9 1217.7,123.5 1234.7,109.1 1251.8,94.7 1268.8,80.3 1285.8,65.9 1302.8,51.4 1319.8,36.9 1336.8,22.4 1353.7,7.9 1370.7,-6.6 1387.6,-21.1 1404.5,-35.7 1421.4,-50.2 1438.3,-64.8 1455.1,-79.4 1472.0,-94.0 1488.8,-108.6 1505.7,-123.2 1522.5,-137.8 1539.3,-152.5 1556.1,-167.1 1572.9,-181.8 1589.7,-196.5 1606.5,-211.1 1623.2,-225.8 1640.0,-240.5 1656.7,-255.2 1673.5,-269.9 1690.2,-284.7 1706.9,-299.4 1723.7,-314.1 1740.4,-328.9 1757.1,-343.6 1773.8,-358.4 2664.1,543.8 685.1,543.8" fill="#ffbaab"/>
<polygon points="660.3,496.2 661.5,492.9 662.7,489.7 664.0,486.5 665.4,483.5 666.8,480.4 668.2,477.4 669.7,474.4 671.2,471.5 672.7,468.5 674.3,465.6 675.8,462.8 677.4,459.9 679.1,457.1 680.7,454.2 682.3,451.4 684.0,448.6 685.7,445.9 687.3,443.1 689.0,440.3 690.7,437.6 692.5,434.8 694.2,432.1 695.9,429.4 697.7,426.7 699.4,424.0 712.0,405.2 724.8,386.6 737.9,368.3 751.2,350.1 764.6,332.1 778.1,314.2 791.7,296.4 805.5,278.8 819.3,261.2 833.2,243.6 847.1,226.2 861.2,208.8 875.2,191.4 889.3,174.1 903.5,156.8 917.7,139.6 932.0,122.4 946.2,105.3 960.6,88.2 974.9,71.1 989.3,54.1 1003.7,37.0 1018.1,20.0 1032.6,3.1 1047.0,-13.9 1061.5,-30.8 1076.1,-47.7 1090.6,-64.6 1105.2,-81.5 1119.8,-98.3 1134.4,-115.1 1149.0,-132.0 1163.6,-148.8 1178.3,-165.5 1192.9,-182.3 1207.6,-199.0 1222.3,-215.8 1237.0,-232.5 1251.7,-249.2 1266.4,-265.9 1281.2,-282.6 1295.9,-299.3 1310.7,-315.9 1325.5,-332.6 1340.3,-349.2 1355.1,-365.9 1369.9,-382.5 1384.7,-399.1 1399.5,-415.7 1414.4,-432.3 1429.2,-448.9 1444.1,-465.5 1458.9,-482.0 1473.8,-498.6 1488.7,-515.2 1503.6,-531.7 1518.5,-548.2 1533.4,-564.8 1548.3,-581.3 638.0,-1459.1 638.0,496.2" fill="#ffb2a3"/>
<polygon points="686.2,521.8 689.5,520.6 692.8,519.4 696.0,518.1 699.1,516.8 702.2,515.4 705.2,514.0 708.2,512.5 711.2,511.0 714.2,509.5 717.1,508.0 720.0,506.4 722.9,504.9 725.8,503.3 728.6,501.6 731.5,500.0 734.3,498.4 737.1,496.7 739.9,495.1 742.7,493.4 745.5,491.7 748.3,490.0 751.0,488.3 753.8,486.6 756.5,484.9 759.2,483.1 778.3,470.7 797.1,458.0 815.6,445.1 834.0,432.0 852.2,418.7 870.3,405.3 888.3,391.9 906.2,378.3 924.0,364.6 941.7,350.9 959.4,337.1 977.0,323.2 994.5,309.3 1012.0,295.4 1029.5,281.4 1046.9,267.3 1064.3,253.3 1081.6,239.1 1098.9,225.0 1116.2,210.8 1133.5,196.6 1150.7,182.4 1167.9,168.1 1185.0,153.8 1202.2,139.5 1219.3,125.1 1236.4,110.8 1253.5,96.4 1270.6,82.0 1287.6,67.6 1304.6,53.2 1321.6,38.7 1338.6,24.3 1355.6,9.8 1372.6,-4.7 1389.5,-19.2 1406.4,-33.8 1423.4,-48.3 1440.3,-62.8 1457.1,-77.4 1474.0,-92.0 1490.9,-106.6 1507.8,-121.2 1524.6,-135.8 1541.4,-150.4 1558.3,-165.0 1575.1,-179.7 1591.9,-194.3 1608.7,-209.0 1625.5,-223.6 1642.2,-238.3 1659.0,-253.0 1675.8,-267.7 1692.5,-282.4 1709.3,-297.1 1726.0,-311.8 1742.7,-326.5 1759.5,-341.3 1776.2,-356.0 2664.1,543.8 686.2,543.8" fill="#ffb2a3"/>
<polygon points="660.3,495.1 661.5,491.8 662.7,488.7 664.0,485.5 665.3,482.5 666.7,479.4 668.1,476.4 669.5,473.5 671.0,470.6 672.5,467.7 674.0,464.8 675.6,461.9 677.2,459.1 678.7,456.3 680.3,453.4 682.0,450.7 683.6,447.9 685.2,445.1 686.9,442.4 688.6,439.6 690.2,436.9 691.9,434.2 693.6,431.5 695.3,428.8 697.1,426.1 698.8,423.4 711.3,404.5 724.1,385.9 737.1,367.5 750.3,349.3 763.6,331.2 777.1,313.3 790.7,295.4 804.4,277.7 818.2,260.1 832.0,242.5 846.0,225.0 859.9,207.5 874.0,190.2 888.0,172.8 902.2,155.5 916.3,138.3 930.6,121.1 944.8,103.9 959.1,86.7 973.4,69.6 987.8,52.5 1002.1,35.5 1016.5,18.5 1031.0,1.5 1045.4,-15.5 1059.9,-32.5 1074.4,-49.4 1088.9,-66.3 1103.4,-83.2 1118.0,-100.1 1132.6,-116.9 1147.2,-133.8 1161.8,-150.6 1176.4,-167.4 1191.0,-184.2 1205.7,-200.9 1220.4,-217.7 1235.0,-234.5 1249.7,-251.2 1264.4,-267.9 1279.2,-284.6 1293.9,-301.3 1308.6,-318.0 1323.4,-334.7 1338.2,-351.3 1352.9,-368.0 1367.7,-384.6 1382.5,-401.3 1397.3,-417.9 1412.1,-434.5 1427.0,-451.1 1441.8,-467.7 1456.6,-484.3 1471.5,-500.9 1486.4,-517.5 1501.2,-534.0 1516.1,-550.6 1531.0,-567.1 1545.9,-583.7 638.0,-1459.1 638.0,495.1" fill="#ffab9a"/>
<polygon points="687.3,521.8 690.6,520.7 693.8,519.4 697.0,518.2 700.1,516.9 703.2,515.5 706.2,514.1 709.2,512.7 712.1,511.2 715.1,509.7 718.0,508.2 720.9,506.7 723.7,505.1 726.6,503.6 729.4,502.0 732.3,500.4 735.1,498.8 737.9,497.1 740.7,495.5 743.4,493.9 746.2,492.2 748.9,490.5 751.7,488.9 754.4,487.2 757.1,485.5 759.9,483.8 779.0,471.4 797.8,458.8 816.4,445.9 834.8,432.8 853.1,419.6 871.3,406.3 889.3,392.9 907.2,379.3 925.1,365.7 942.8,352.0 960.6,338.3 978.2,324.5 995.8,310.6 1013.3,296.7 1030.8,282.7 1048.3,268.7 1065.7,254.6 1083.1,240.6 1100.4,226.4 1117.7,212.3 1135.0,198.1 1152.2,183.9 1169.5,169.6 1186.7,155.4 1203.8,141.1 1221.0,126.8 1238.1,112.5 1255.2,98.1 1272.3,83.7 1289.4,69.4 1306.4,54.9 1323.5,40.5 1340.5,26.1 1357.5,11.6 1374.5,-2.8 1391.4,-17.3 1408.4,-31.8 1425.3,-46.4 1442.2,-60.9 1459.2,-75.4 1476.1,-90.0 1493.0,-104.5 1509.8,-119.1 1526.7,-133.7 1543.6,-148.3 1560.4,-162.9 1577.2,-177.5 1594.1,-192.1 1610.9,-206.8 1627.7,-221.4 1644.5,-236.1 1661.3,-250.7 1678.1,-265.4 1694.8,-280.1 1711.6,-294.8 1728.4,-309.5 1745.1,-324.2 1761.8,-338.9 1778.6,-353.6 2664.1,543.8 687.3,543.8" fill="#ffab9a"/>
<polygon points="660.3,494.0 661.4,490.8 662.6,487.6 663.9,484.5 665.2,481.5 666.6,478.5 668.0,475.5 669.4,472.6 670.8,469.6 672.3,466.8 673.8,463.9 675.3,461.1 676.9,458.2 678.4,455.4 680.0,452.7 681.6,449.9 683.2,447.1 684.8,444.4 686.4,441.6 688.1,438.9 689.7,436.2 691.4,433.5 693.1,430.8 694.7,428.1 696.4,425.5 698.2,422.8 710.6,403.8 723.3,385.1 736.3,366.7 749.4,348.4 762.7,330.3 776.2,312.3 789.7,294.4 803.4,276.7 817.1,259.0 830.9,241.4 844.8,223.8 858.7,206.3 872.7,188.9 886.8,171.5 900.8,154.2 915.0,136.9 929.2,119.7 943.4,102.5 957.6,85.3 971.9,68.2 986.2,51.0 1000.6,34.0 1014.9,16.9 1029.3,-0.1 1043.8,-17.1 1058.2,-34.1 1072.7,-51.1 1087.2,-68.0 1101.7,-84.9 1116.2,-101.8 1130.8,-118.7 1145.3,-135.6 1159.9,-152.4 1174.5,-169.2 1189.1,-186.0 1203.8,-202.8 1218.4,-219.6 1233.1,-236.4 1247.7,-253.2 1262.4,-269.9 1277.1,-286.6 1291.8,-303.4 1306.6,-320.1 1321.3,-336.8 1336.0,-353.4 1350.8,-370.1 1365.6,-386.8 1380.3,-403.4 1395.1,-420.1 1409.9,-436.7 1424.7,-453.3 1439.5,-470.0 1454.4,-486.6 1469.2,-503.2 1484.0,-519.8 1498.9,-536.3 1513.7,-552.9 1528.6,-569.5 1543.5,-586.1 638.0,-1459.1 638.0,494.0" fill="#ffa392"/>
<polygon points="688.5,521.8 691.7,520.7 694.9,519.5 698.0,518.2 701.1,516.9 704.1,515.6 707.1,514.2 710.1,512.8 713.1,511.4 716.0,509.9 718.9,508.4 721.7,506.9 724.6,505.4 727.4,503.9 730.3,502.3 733.1,500.7 735.8,499.2 738.6,497.6 741.4,496.0 744.1,494.3 746.9,492.7 749.6,491.1 752.3,489.4 755.1,487.8 757.8,486.1 760.5,484.4 779.7,472.1 798.6,459.5 817.2,446.7 835.7,433.7 854.0,420.5 872.2,407.3 890.3,393.9 908.3,380.4 926.2,366.8 944.0,353.2 961.7,339.4 979.4,325.7 997.0,311.8 1014.6,297.9 1032.2,284.0 1049.6,270.0 1067.1,256.0 1084.5,242.0 1101.9,227.9 1119.2,213.8 1136.5,199.6 1153.8,185.4 1171.0,171.2 1188.3,157.0 1205.5,142.7 1222.6,128.4 1239.8,114.1 1256.9,99.8 1274.0,85.5 1291.1,71.1 1308.2,56.7 1325.3,42.3 1342.3,27.9 1359.3,13.5 1376.3,-1.0 1393.3,-15.4 1410.3,-29.9 1427.3,-44.4 1444.2,-58.9 1461.2,-73.4 1478.1,-88.0 1495.0,-102.5 1511.9,-117.1 1528.8,-131.6 1545.7,-146.2 1562.6,-160.8 1579.4,-175.4 1596.3,-190.0 1613.1,-204.6 1629.9,-219.2 1646.7,-233.9 1663.6,-248.5 1680.4,-263.2 1697.1,-277.8 1713.9,-292.5 1730.7,-307.2 1747.5,-321.9 1764.2,-336.5 1781.0,-351.2 2664.1,543.8 688.5,543.8" fill="#ffa392"/>
<polygon points="660.3,492.8 661.4,489.6 662.6,486.5 663.9,483.5 665.1,480.4 666.5,477.5 667.8,474.5 669.2,471.6 670.7,468.7 672.1,465.9 673.6,463.0 675.1,460.2 676.6,457.4 678.1,454.6 679.7,451.8 681.2,449.1 682.8,446.4 684.4,443.6 686.0,440.9 687.6,438.2 689.2,435.5 690.9,432.8 692.5,430.2 694.2,427.5 695.8,424.8 697.5,422.1 709.9,403.1 722.5,384.3 735.4,365.8 748.5,347.5 761.8,329.4 775.2,311.3 788.7,293.4 802.3,275.6 816.0,257.9 829.7,240.2 843.6,222.6 857.5,205.1 871.4,187.7 885.5,170.3 899.5,152.9 913.6,135.6 927.8,118.3 942.0,101.1 956.2,83.8 970.4,66.7 984.7,49.5 999.0,32.4 1013.4,15.3 1027.7,-1.7 1042.1,-18.7 1056.6,-35.7 1071.0,-52.7 1085.5,-69.7 1099.9,-86.6 1114.4,-103.6 1129.0,-120.5 1143.5,-137.4 1158.1,-154.2 1172.6,-171.1 1187.2,-187.9 1201.8,-204.7 1216.5,-221.5 1231.1,-238.3 1245.7,-255.1 1260.4,-271.9 1275.1,-288.6 1289.8,-305.4 1304.5,-322.1 1319.2,-338.8 1333.9,-355.5 1348.6,-372.2 1363.4,-388.9 1378.1,-405.6 1392.9,-422.3 1407.7,-438.9 1422.5,-455.6 1437.3,-472.2 1452.1,-488.8 1466.9,-505.5 1481.7,-522.1 1496.5,-538.7 1511.4,-555.3 1526.2,-571.8 1541.1,-588.4 638.0,-1459.1 638.0,492.8" fill="#ff9b89"/>
<polygon points="689.6,521.8 692.8,520.7 696.0,519.5 699.1,518.3 702.1,517.0 705.2,515.7 708.1,514.3 711.1,513.0 714.0,511.6 716.9,510.1 719.8,508.7 722.6,507.2 725.5,505.7 728.3,504.2 731.1,502.7 733.9,501.1 736.6,499.6 739.4,498.0 742.1,496.4 744.9,494.8 747.6,493.2 750.3,491.6 753.0,490.0 755.7,488.3 758.4,486.7 761.1,485.0 780.4,472.8 799.3,460.3 818.1,447.5 836.6,434.6 855.0,421.5 873.2,408.2 891.3,394.9 909.3,381.4 927.3,367.9 945.1,354.3 962.9,340.6 980.6,326.9 998.3,313.1 1015.9,299.2 1033.5,285.3 1051.0,271.4 1068.5,257.4 1085.9,243.4 1103.3,229.3 1120.7,215.2 1138.0,201.1 1155.3,187.0 1172.6,172.8 1189.9,158.6 1207.1,144.3 1224.3,130.1 1241.5,115.8 1258.7,101.5 1275.8,87.2 1292.9,72.9 1310.0,58.5 1327.1,44.1 1344.2,29.7 1361.2,15.3 1378.2,0.9 1395.3,-13.5 1412.3,-28.0 1429.2,-42.5 1446.2,-56.9 1463.2,-71.4 1480.1,-85.9 1497.1,-100.5 1514.0,-115.0 1530.9,-129.5 1547.8,-144.1 1564.7,-158.7 1581.6,-173.2 1598.4,-187.8 1615.3,-202.4 1632.1,-217.0 1649.0,-231.6 1665.8,-246.3 1682.6,-260.9 1699.5,-275.5 1716.3,-290.2 1733.1,-304.8 1749.8,-319.5 1766.6,-334.2 1783.4,-348.9 2664.1,543.8 689.6,543.8" fill="#ff9b89"/>
<polygon points="660.3,491.7 661.4,488.5 662.6,485.4 663.8,482.4 665.1,479.4 666.4,476.4 667.7,473.5 669.1,470.6 670.5,467.8 671.9,464.9 673.4,462.1 674.8,459.3 676.3,456.5 677.8,453.8 679.3,451.0 680.9,448.3 682.4,445.6 684.0,442.9 685.5,440.2 687.1,437.5 688.7,434.8 690.3,432.2 691.9,429.5 693.6,426.9 695.2,424.2 696.9,421.5 709.2,402.4 721.8,383.6 734.6,365.0 747.7,346.7 760.9,328.5 774.2,310.4 787.7,292.4 801.2,274.6 814.9,256.8 828.6,239.1 842.4,221.5 856.3,203.9 870.2,186.4 884.2,169.0 898.2,151.6 912.3,134.2 926.4,116.9 940.5,99.6 954.7,82.4 968.9,65.2 983.2,48.0 997.5,30.9 1011.8,13.8 1026.1,-3.3 1040.5,-20.4 1054.9,-37.4 1069.3,-54.4 1083.7,-71.4 1098.2,-88.4 1112.7,-105.3 1127.2,-122.2 1141.7,-139.2 1156.2,-156.1 1170.8,-172.9 1185.3,-189.8 1199.9,-206.6 1214.5,-223.5 1229.1,-240.3 1243.8,-257.1 1258.4,-273.9 1273.1,-290.7 1287.7,-307.4 1302.4,-324.2 1317.1,-340.9 1331.8,-357.6 1346.5,-374.4 1361.2,-391.1 1376.0,-407.8 1390.7,-424.4 1405.5,-441.1 1420.2,-457.8 1435.0,-474.4 1449.8,-491.1 1464.6,-507.7 1479.4,-524.4 1494.2,-541.0 1509.0,-557.6 1523.8,-574.2 1538.7,-590.8 638.0,-1459.1 638.0,491.7" fill="#ff9380"/>
<polygon points="690.8,521.8 694.0,520.7 697.1,519.5 700.2,518.3 703.2,517.1 706.2,515.8 709.1,514.5 712.1,513.1 715.0,511.7 717.8,510.3 720.7,508.9 723.5,507.4 726.3,506.0 729.1,504.5 731.9,503.0 734.7,501.5 737.4,499.9 740.1,498.4 742.9,496.8 745.6,495.3 748.3,493.7 751.0,492.1 753.7,490.5 756.3,488.9 759.0,487.3 761.8,485.6 781.1,473.5 800.1,461.0 818.9,448.3 837.5,435.4 855.9,422.4 874.2,409.2 892.3,395.9 910.4,382.5 928.4,369.0 946.3,355.4 964.1,341.8 981.9,328.1 999.6,314.3 1017.2,300.5 1034.8,286.6 1052.4,272.7 1069.9,258.8 1087.3,244.8 1104.8,230.8 1122.2,216.7 1139.6,202.6 1156.9,188.5 1174.2,174.3 1191.5,160.2 1208.7,146.0 1226.0,131.7 1243.2,117.5 1260.4,103.2 1277.5,88.9 1294.7,74.6 1311.8,60.3 1328.9,45.9 1346.0,31.6 1363.1,17.2 1380.1,2.8 1397.2,-11.6 1414.2,-26.1 1431.2,-40.5 1448.2,-55.0 1465.2,-69.5 1482.2,-83.9 1499.1,-98.4 1516.1,-112.9 1533.0,-127.5 1549.9,-142.0 1566.8,-156.5 1583.7,-171.1 1600.6,-185.7 1617.5,-200.2 1634.4,-214.8 1651.2,-229.4 1668.1,-244.0 1684.9,-258.6 1701.8,-273.3 1718.6,-287.9 1735.4,-302.5 1752.2,-317.2 1769.0,-331.8 1785.8,-346.5 2664.1,543.8 690.8,543.8" fill="#ff9380"/>
<polygon points="660.3,490.5 661.4,487.4 662.5,484.3 663.8,481.3 665.0,478.3 666.3,475.4 667.6,472.5 668.9,469.7 670.3,466.8 671.7,464.0 673.1,461.2 674.6,458.4 676.0,455.7 677.5,452.9 679.0,450.2 680.5,447.5 682.0,444.8 683.6,442.1 685.1,439.4 686.6,436.8 688.2,434.1 689.8,431.5 691.4,428.9 693.0,426.2 694.6,423.6 696.3,420.9 708.5,401.7 721.0,382.8 733.8,364.2 746.8,345.8 760.0,327.5 773.2,309.4 786.7,291.4 800.2,273.5 813.8,255.7 827.5,238.0 841.2,220.3 855.0,202.7 868.9,185.2 882.9,167.7 896.9,150.3 910.9,132.9 925.0,115.5 939.1,98.2 953.3,81.0 967.4,63.7 981.7,46.5 995.9,29.4 1010.2,12.2 1024.5,-4.9 1038.9,-22.0 1053.2,-39.0 1067.6,-56.1 1082.0,-73.1 1096.5,-90.1 1110.9,-107.1 1125.4,-124.0 1139.9,-141.0 1154.4,-157.9 1168.9,-174.8 1183.4,-191.7 1198.0,-208.5 1212.6,-225.4 1227.2,-242.2 1241.8,-259.1 1256.4,-275.9 1271.0,-292.7 1285.7,-309.5 1300.3,-326.2 1315.0,-343.0 1329.7,-359.7 1344.4,-376.5 1359.1,-393.2 1373.8,-409.9 1388.5,-426.6 1403.2,-443.3 1418.0,-460.0 1432.7,-476.7 1447.5,-493.4 1462.3,-510.0 1477.0,-526.7 1491.8,-543.3 1506.6,-559.9 1521.4,-576.6 1536.2,-593.2 638.0,-1459.1 638.0,490.5" fill="#ff8a77"/>
<polygon points="692.0,521.8 695.1,520.7 698.2,519.6 701.3,518.4 704.3,517.2 707.2,515.9 710.2,514.6 713.1,513.2 715.9,511.9 718.8,510.5 721.6,509.1 724.4,507.7 727.2,506.2 730.0,504.8 732.7,503.3 735.5,501.8 738.2,500.3 740.9,498.8 743.6,497.3 746.3,495.8 749.0,494.2 751.7,492.6 754.3,491.1 757.0,489.5 759.6,487.9 762.4,486.3 781.8,474.2 800.9,461.8 819.7,449.1 838.3,436.3 856.8,423.3 875.1,410.2 893.4,396.9 911.5,383.5 929.5,370.1 947.4,356.6 965.3,343.0 983.1,329.3 1000.8,315.6 1018.5,301.8 1036.1,288.0 1053.7,274.1 1071.3,260.2 1088.8,246.2 1106.2,232.2 1123.7,218.2 1141.1,204.1 1158.4,190.0 1175.8,175.9 1193.1,161.7 1210.4,147.6 1227.6,133.4 1244.9,119.2 1262.1,104.9 1279.3,90.6 1296.5,76.4 1313.6,62.0 1330.7,47.7 1347.9,33.4 1365.0,19.0 1382.0,4.6 1399.1,-9.7 1416.1,-24.2 1433.2,-38.6 1450.2,-53.0 1467.2,-67.5 1484.2,-81.9 1501.2,-96.4 1518.1,-110.9 1535.1,-125.4 1552.0,-139.9 1569.0,-154.4 1585.9,-169.0 1602.8,-183.5 1619.7,-198.1 1636.6,-212.6 1653.5,-227.2 1670.4,-241.8 1687.2,-256.4 1704.1,-271.0 1720.9,-285.6 1737.7,-300.2 1754.6,-314.8 1771.4,-329.5 1788.2,-344.1 2664.1,543.8 692.0,543.8" fill="#ff8a77"/>
<polygon points="660.3,489.3 661.4,486.2 662.5,483.2 663.7,480.2 664.9,477.3 666.2,474.4 667.5,471.5 668.8,468.7 670.2,465.8 671.5,463.0 672.9,460.3 674.3,457.5 675.8,454.8 677.2,452.1 678.7,449.4 680.1,446.7 681.6,444.0 683.1,441.3 684.6,438.7 686.2,436.1 687.7,433.4 689.3,430.8 690.8,428.2 692.4,425.6 693.9,423.0 695.6,420.3 707.8,401.0 720.3,382.1 733.0,363.4 745.9,344.9 759.0,326.6 772.3,308.5 785.6,290.4 799.1,272.5 812.7,254.6 826.3,236.8 840.0,219.1 853.8,201.5 867.7,183.9 881.6,166.4 895.5,148.9 909.5,131.5 923.6,114.2 937.7,96.8 951.8,79.5 966.0,62.3 980.1,45.0 994.4,27.8 1008.6,10.7 1022.9,-6.5 1037.2,-23.6 1051.6,-40.7 1065.9,-57.8 1080.3,-74.8 1094.7,-91.8 1109.1,-108.8 1123.6,-125.8 1138.0,-142.8 1152.5,-159.7 1167.0,-176.6 1181.6,-193.5 1196.1,-210.4 1210.6,-227.3 1225.2,-244.2 1239.8,-261.0 1254.4,-277.9 1269.0,-294.7 1283.6,-311.5 1298.2,-328.3 1312.9,-345.1 1327.5,-361.8 1342.2,-378.6 1356.9,-395.3 1371.6,-412.1 1386.3,-428.8 1401.0,-445.5 1415.7,-462.2 1430.5,-478.9 1445.2,-495.6 1460.0,-512.3 1474.7,-529.0 1489.5,-545.6 1504.3,-562.3 1519.1,-578.9 1533.8,-595.6 638.0,-1459.1 638.0,489.3" fill="#ff816e"/>
<polygon points="693.2,521.8 696.3,520.7 699.4,519.6 702.4,518.4 705.4,517.2 708.3,516.0 711.2,514.7 714.1,513.4 716.9,512.1 719.7,510.7 722.5,509.3 725.3,507.9 728.1,506.5 730.8,505.1 733.6,503.6 736.3,502.2 739.0,500.7 741.7,499.2 744.4,497.7 747.0,496.2 749.7,494.7 752.3,493.2 755.0,491.6 757.6,490.1 760.2,488.5 763.0,486.9 782.5,474.9 801.6,462.5 820.5,449.9 839.2,437.2 857.7,424.2 876.1,411.1 894.4,397.9 912.5,384.6 930.6,371.2 948.6,357.7 966.5,344.1 984.3,330.5 1002.1,316.8 1019.8,303.1 1037.5,289.3 1055.1,275.4 1072.7,261.5 1090.2,247.6 1107.7,233.6 1125.2,219.6 1142.6,205.6 1160.0,191.6 1177.4,177.5 1194.7,163.3 1212.0,149.2 1229.3,135.0 1246.6,120.8 1263.8,106.6 1281.0,92.4 1298.2,78.1 1315.4,63.8 1332.6,49.5 1349.7,35.2 1366.8,20.9 1383.9,6.5 1401.0,-7.8 1418.1,-22.2 1435.1,-36.6 1452.2,-51.0 1469.2,-65.5 1486.2,-79.9 1503.2,-94.4 1520.2,-108.8 1537.2,-123.3 1554.2,-137.8 1571.1,-152.3 1588.1,-166.8 1605.0,-181.3 1621.9,-195.9 1638.8,-210.4 1655.7,-225.0 1672.6,-239.5 1689.5,-254.1 1706.4,-268.7 1723.2,-283.3 1740.1,-297.9 1756.9,-312.5 1773.8,-327.1 1790.6,-341.7 2664.1,543.8 693.2,543.8" fill="#ff816e"/>
<polygon points="660.3,488.0 661.4,485.0 662.5,482.0 663.6,479.1 664.9,476.2 666.1,473.3 667.4,470.4 668.7,467.6 670.0,464.8 671.3,462.1 672.7,459.3 674.1,456.6 675.5,453.9 676.9,451.2 678.3,448.5 679.8,445.9 681.2,443.2 682.7,440.6 684.2,437.9 685.7,435.3 687.2,432.7 688.7,430.1 690.2,427.5 691.8,425.0 693.3,422.4 695.0,419.6 707.1,400.3 719.5,381.3 732.2,362.6 745.1,344.1 758.1,325.7 771.3,307.5 784.6,289.4 798.0,271.4 811.6,253.5 825.2,235.7 838.9,218.0 852.6,200.3 866.4,182.7 880.3,165.1 894.2,147.6 908.2,130.2 922.2,112.8 936.2,95.4 950.3,78.1 964.5,60.8 978.6,43.5 992.8,26.3 1007.0,9.1 1021.3,-8.1 1035.6,-25.2 1049.9,-42.3 1064.2,-59.4 1078.6,-76.5 1093.0,-93.5 1107.4,-110.6 1121.8,-127.6 1136.2,-144.6 1150.7,-161.5 1165.2,-178.5 1179.7,-195.4 1194.2,-212.3 1208.7,-229.2 1223.2,-246.1 1237.8,-263.0 1252.4,-279.8 1266.9,-296.7 1281.5,-313.5 1296.2,-330.3 1310.8,-347.1 1325.4,-363.9 1340.1,-380.7 1354.7,-397.5 1369.4,-414.2 1384.1,-431.0 1398.8,-447.7 1413.5,-464.5 1428.2,-481.2 1442.9,-497.9 1457.6,-514.6 1472.4,-531.3 1487.1,-547.9 1501.9,-564.6 1516.7,-581.3 1531.4,-597.9 638.0,-1459.1 638.0,488.0" fill="#ff7865"/>
<polygon points="694.4,521.8 697.5,520.7 700.5,519.6 703.5,518.5 706.5,517.3 709.4,516.1 712.2,514.8 715.1,513.5 717.9,512.2 720.7,510.9 723.5,509.6 726.2,508.2 729.0,506.8 731.7,505.4 734.4,504.0 737.1,502.5 739.8,501.1 742.5,499.6 745.1,498.2 747.8,496.7 750.4,495.2 753.0,493.7 755.7,492.2 758.3,490.7 760.9,489.2 763.6,487.5 783.2,475.6 802.4,463.3 821.3,450.8 840.1,438.0 858.7,425.1 877.1,412.1 895.4,398.9 913.6,385.6 931.7,372.3 949.7,358.8 967.7,345.3 985.5,331.7 1003.3,318.0 1021.1,304.3 1038.8,290.6 1056.5,276.8 1074.1,262.9 1091.6,249.0 1109.2,235.1 1126.7,221.1 1144.1,207.1 1161.5,193.1 1178.9,179.0 1196.3,164.9 1213.7,150.8 1231.0,136.7 1248.3,122.5 1265.5,108.3 1282.8,94.1 1300.0,79.9 1317.2,65.6 1334.4,51.3 1351.5,37.0 1368.7,22.7 1385.8,8.4 1402.9,-6.0 1420.0,-20.3 1437.1,-34.7 1454.2,-49.1 1471.2,-63.5 1488.3,-77.9 1505.3,-92.3 1522.3,-106.8 1539.3,-121.2 1556.3,-135.7 1573.3,-150.2 1590.2,-164.7 1607.2,-179.2 1624.1,-193.7 1641.1,-208.2 1658.0,-222.8 1674.9,-237.3 1691.8,-251.9 1708.7,-266.4 1725.6,-281.0 1742.4,-295.6 1759.3,-310.2 1776.2,-324.8 1793.0,-339.4 2664.1,543.8 694.4,543.8" fill="#ff7865"/>
<polygon points="660.3,486.8 661.4,483.8 662.5,480.8 663.6,477.9 664.8,475.0 666.0,472.2 667.2,469.4 668.5,466.6 669.8,463.8 671.1,461.1 672.5,458.4 673.8,455.7 675.2,453.0 676.6,450.3 678.0,447.7 679.4,445.0 680.9,442.4 682.3,439.8 683.8,437.2 685.2,434.6 686.7,432.0 688.2,429.4 689.7,426.9 691.2,424.3 692.7,421.8 694.4,419.0 706.4,399.6 718.7,380.6 731.3,361.8 744.2,343.2 757.2,324.8 770.3,306.5 783.6,288.4 797.0,270.4 810.5,252.4 824.0,234.6 837.7,216.8 851.4,199.1 865.2,181.4 879.0,163.9 892.9,146.3 906.8,128.8 920.8,111.4 934.8,94.0 948.9,76.6 963.0,59.3 977.1,42.0 991.3,24.8 1005.5,7.5 1019.7,-9.7 1034.0,-26.8 1048.2,-44.0 1062.5,-61.1 1076.9,-78.2 1091.2,-95.3 1105.6,-112.3 1120.0,-129.3 1134.4,-146.4 1148.8,-163.4 1163.3,-180.3 1177.8,-197.3 1192.2,-214.2 1206.8,-231.2 1221.3,-248.1 1235.8,-265.0 1250.4,-281.8 1264.9,-298.7 1279.5,-315.6 1294.1,-332.4 1308.7,-349.2 1323.3,-366.0 1337.9,-382.8 1352.6,-399.6 1367.2,-416.4 1381.9,-433.2 1396.5,-449.9 1411.2,-466.7 1425.9,-483.4 1440.6,-500.1 1455.3,-516.9 1470.1,-533.6 1484.8,-550.3 1499.5,-567.0 1514.3,-583.6 1529.0,-600.3 638.0,-1459.1 638.0,486.8" fill="#fd6f5c"/>
<polygon points="695.7,521.8 698.8,520.8 701.7,519.7 704.7,518.5 707.6,517.4 710.5,516.2 713.3,514.9 716.1,513.7 718.9,512.4 721.7,511.1 724.5,509.8 727.2,508.4 729.9,507.1 732.6,505.7 735.3,504.3 738.0,502.9 740.6,501.5 743.3,500.1 745.9,498.6 748.5,497.2 751.1,495.7 753.7,494.2 756.3,492.8 758.9,491.3 761.5,489.8 764.3,488.1 783.9,476.2 803.2,464.0 822.2,451.6 841.0,438.9 859.6,426.0 878.1,413.0 896.4,399.9 914.7,386.7 932.8,373.4 950.9,360.0 968.8,346.5 986.8,332.9 1004.6,319.3 1022.4,305.6 1040.1,291.9 1057.8,278.1 1075.5,264.3 1093.1,250.4 1110.6,236.5 1128.2,222.6 1145.6,208.6 1163.1,194.6 1180.5,180.6 1197.9,166.5 1215.3,152.4 1232.6,138.3 1249.9,124.2 1267.2,110.0 1284.5,95.8 1301.8,81.6 1319.0,67.4 1336.2,53.1 1353.4,38.9 1370.6,24.6 1387.7,10.3 1404.9,-4.1 1422.0,-18.4 1439.1,-32.7 1456.2,-47.1 1473.2,-61.5 1490.3,-75.9 1507.4,-90.3 1524.4,-104.7 1541.4,-119.2 1558.4,-133.6 1575.4,-148.1 1592.4,-162.5 1609.4,-177.0 1626.3,-191.5 1643.3,-206.0 1660.2,-220.5 1677.2,-235.1 1694.1,-249.6 1711.0,-264.1 1727.9,-278.7 1744.8,-293.2 1761.7,-307.8 1778.5,-322.4 1795.4,-337.0 2664.1,543.8 695.7,543.8" fill="#fd6f5c"/>
<polygon points="660.3,485.5 661.3,482.6 662.4,479.6 663.5,476.8 664.7,473.9 665.9,471.1 667.1,468.3 668.4,465.6 669.6,462.8 670.9,460.1 672.2,457.4 673.6,454.7 674.9,452.1 676.3,449.4 677.7,446.8 679.1,444.2 680.5,441.6 681.9,439.0 683.3,436.4 684.7,433.9 686.2,431.3 687.7,428.8 689.1,426.2 690.6,423.7 692.1,421.2 693.7,418.4 705.7,398.9 718.0,379.8 730.5,361.0 743.3,342.3 756.3,323.9 769.4,305.6 782.6,287.4 795.9,269.3 809.4,251.3 822.9,233.4 836.5,215.6 850.2,197.9 863.9,180.2 877.7,162.6 891.5,145.0 905.4,127.5 919.4,110.0 933.4,92.6 947.4,75.2 961.5,57.8 975.6,40.5 989.7,23.2 1003.9,6.0 1018.1,-11.3 1032.3,-28.5 1046.6,-45.6 1060.8,-62.8 1075.1,-79.9 1089.5,-97.0 1103.8,-114.1 1118.2,-131.1 1132.6,-148.2 1147.0,-165.2 1161.4,-182.2 1175.9,-199.2 1190.3,-216.1 1204.8,-233.1 1219.3,-250.0 1233.8,-266.9 1248.3,-283.8 1262.9,-300.7 1277.4,-317.6 1292.0,-334.4 1306.6,-351.3 1321.2,-368.1 1335.8,-385.0 1350.4,-401.8 1365.0,-418.6 1379.7,-435.4 1394.3,-452.1 1409.0,-468.9 1423.7,-485.7 1438.3,-502.4 1453.0,-519.1 1467.7,-535.9 1482.4,-552.6 1497.2,-569.3 1511.9,-586.0 1526.6,-602.7 638.0,-1459.1 638.0,485.5" fill="#fb6553"/>
<polygon points="697.0,521.8 700.0,520.8 703.0,519.7 705.9,518.6 708.7,517.4 711.6,516.3 714.4,515.1 717.2,513.8 720.0,512.6 722.7,511.3 725.4,510.0 728.1,508.7 730.8,507.3 733.5,506.0 736.2,504.6 738.8,503.3 741.4,501.9 744.1,500.5 746.7,499.1 749.3,497.6 751.8,496.2 754.4,494.8 757.0,493.3 759.6,491.8 762.1,490.4 764.9,488.8 784.6,476.9 803.9,464.8 823.0,452.4 841.8,439.7 860.5,426.9 879.0,414.0 897.4,400.9 915.7,387.7 933.9,374.5 952.0,361.1 970.0,347.6 988.0,334.1 1005.9,320.5 1023.7,306.9 1041.5,293.2 1059.2,279.5 1076.9,265.7 1094.5,251.8 1112.1,238.0 1129.6,224.1 1147.2,210.1 1164.6,196.2 1182.1,182.1 1199.5,168.1 1216.9,154.0 1234.3,140.0 1251.6,125.8 1269.0,111.7 1286.3,97.5 1303.5,83.4 1320.8,69.2 1338.0,54.9 1355.2,40.7 1372.4,26.4 1389.6,12.1 1406.8,-2.2 1423.9,-16.5 1441.0,-30.8 1458.2,-45.1 1475.3,-59.5 1492.3,-73.9 1509.4,-88.3 1526.5,-102.7 1543.5,-117.1 1560.5,-131.5 1577.6,-145.9 1594.6,-160.4 1611.6,-174.9 1628.5,-189.3 1645.5,-203.8 1662.5,-218.3 1679.4,-232.8 1696.4,-247.3 1713.3,-261.9 1730.2,-276.4 1747.1,-290.9 1764.0,-305.5 1780.9,-320.0 1797.8,-334.6 2664.1,543.8 697.0,543.8" fill="#fb6553"/>
<polygon points="660.3,484.2 661.3,481.3 662.4,478.4 663.5,475.6 664.6,472.8 665.8,470.0 667.0,467.2 668.2,464.5 669.5,461.8 670.7,459.1 672.0,456.4 673.3,453.8 674.6,451.2 676.0,448.5 677.3,445.9 678.7,443.4 680.1,440.8 681.5,438.2 682.9,435.7 684.3,433.1 685.7,430.6 687.1,428.1 688.6,425.5 690.0,423.0 691.5,420.5 693.1,417.8 705.0,398.2 717.2,379.1 729.7,360.2 742.4,341.5 755.3,323.0 768.4,304.6 781.6,286.4 794.9,268.3 808.3,250.2 821.7,232.3 835.3,214.5 848.9,196.7 862.6,179.0 876.4,161.3 890.2,143.7 904.1,126.1 918.0,108.6 932.0,91.2 946.0,73.7 960.0,56.4 974.1,39.0 988.2,21.7 1002.3,4.4 1016.5,-12.8 1030.7,-30.1 1044.9,-47.3 1059.2,-64.4 1073.4,-81.6 1087.7,-98.7 1102.1,-115.8 1116.4,-132.9 1130.8,-150.0 1145.1,-167.0 1159.5,-184.0 1174.0,-201.0 1188.4,-218.0 1202.9,-235.0 1217.3,-251.9 1231.8,-268.9 1246.3,-285.8 1260.8,-302.7 1275.4,-319.6 1289.9,-336.5 1304.5,-353.4 1319.1,-370.2 1333.6,-387.1 1348.2,-403.9 1362.8,-420.7 1377.5,-437.5 1392.1,-454.3 1406.7,-471.1 1421.4,-487.9 1436.1,-504.7 1450.7,-521.4 1465.4,-538.2 1480.1,-554.9 1494.8,-571.6 1509.5,-588.4 1524.2,-605.1 638.0,-1459.1 638.0,484.2" fill="#f95a4a"/>
<polygon points="698.3,521.8 701.3,520.8 704.2,519.7 707.1,518.6 709.9,517.5 712.7,516.4 715.5,515.2 718.3,514.0 721.0,512.7 723.7,511.5 726.4,510.2 729.1,508.9 731.8,507.6 734.4,506.3 737.0,505.0 739.7,503.6 742.3,502.3 744.9,500.9 747.4,499.5 750.0,498.1 752.6,496.7 755.1,495.3 757.7,493.9 760.2,492.4 762.7,491.0 765.5,489.4 785.3,477.6 804.7,465.5 823.8,453.2 842.7,440.6 861.4,427.9 880.0,415.0 898.4,401.9 916.8,388.8 935.0,375.5 953.1,362.2 971.2,348.8 989.2,335.3 1007.1,321.8 1025.0,308.2 1042.8,294.5 1060.5,280.8 1078.3,267.1 1095.9,253.3 1113.5,239.4 1131.1,225.5 1148.7,211.6 1166.2,197.7 1183.7,183.7 1201.1,169.7 1218.6,155.7 1236.0,141.6 1253.3,127.5 1270.7,113.4 1288.0,99.3 1305.3,85.1 1322.6,70.9 1339.8,56.7 1357.1,42.5 1374.3,28.3 1391.5,14.0 1408.7,-0.3 1425.9,-14.6 1443.0,-28.9 1460.1,-43.2 1477.3,-57.5 1494.4,-71.9 1511.5,-86.2 1528.5,-100.6 1545.6,-115.0 1562.7,-129.4 1579.7,-143.8 1596.7,-158.3 1613.7,-172.7 1630.7,-187.2 1647.7,-201.6 1664.7,-216.1 1681.7,-230.6 1698.7,-245.1 1715.6,-259.6 1732.5,-274.1 1749.5,-288.6 1766.4,-303.1 1783.3,-317.7 1800.2,-332.2 2664.1,543.8 698.3,543.8" fill="#f95a4a"/>
<polygon points="660.3,482.9 661.3,480.0 662.4,477.2 663.4,474.4 664.6,471.6 665.7,468.8 666.9,466.1 668.1,463.4 669.3,460.7 670.5,458.1 671.8,455.5 673.1,452.8 674.4,450.2 675.7,447.6 677.0,445.1 678.3,442.5 679.7,440.0 681.0,437.4 682.4,434.9 683.8,432.4 685.2,429.9 686.6,427.4 688.0,424.9 689.4,422.4 690.8,419.9 692.5,417.1 704.3,397.6 716.4,378.3 728.9,359.4 741.6,340.6 754.4,322.1 767.4,303.6 780.5,285.4 793.8,267.2 807.1,249.1 820.6,231.2 834.1,213.3 847.7,195.5 861.4,177.7 875.1,160.0 888.9,142.4 902.7,124.8 916.6,107.3 930.5,89.8 944.5,72.3 958.5,54.9 972.5,37.5 986.6,20.2 1000.7,2.8 1014.9,-14.4 1029.0,-31.7 1043.2,-48.9 1057.5,-66.1 1071.7,-83.3 1086.0,-100.4 1100.3,-117.6 1114.6,-134.7 1128.9,-151.8 1143.3,-168.8 1157.7,-185.9 1172.1,-202.9 1186.5,-219.9 1200.9,-236.9 1215.4,-253.9 1229.8,-270.9 1244.3,-287.8 1258.8,-304.7 1273.3,-321.7 1287.8,-338.6 1302.4,-355.4 1316.9,-372.3 1331.5,-389.2 1346.1,-406.0 1360.7,-422.9 1375.3,-439.7 1389.9,-456.5 1404.5,-473.3 1419.1,-490.1 1433.8,-506.9 1448.4,-523.7 1463.1,-540.5 1477.8,-557.2 1492.4,-574.0 1507.1,-590.7 1521.8,-607.4 638.0,-1459.1 638.0,482.9" fill="#f64e40"/>
<polygon points="699.7,521.8 702.6,520.8 705.5,519.8 708.3,518.7 711.1,517.6 713.9,516.5 716.6,515.3 719.4,514.1 722.1,512.9 724.8,511.7 727.4,510.4 730.1,509.2 732.7,507.9 735.3,506.6 737.9,505.3 740.5,504.0 743.1,502.6 745.7,501.3 748.2,499.9 750.8,498.6 753.3,497.2 755.8,495.8 758.3,494.4 760.8,493.0 763.3,491.6 766.2,490.0 786.0,478.3 805.4,466.3 824.6,454.0 843.6,441.5 862.4,428.8 881.0,415.9 899.5,402.9 917.8,389.8 936.1,376.6 954.3,363.3 972.4,350.0 990.4,336.5 1008.4,323.0 1026.3,309.5 1044.1,295.8 1061.9,282.2 1079.7,268.4 1097.3,254.7 1115.0,240.9 1132.6,227.0 1150.2,213.1 1167.8,199.2 1185.3,185.3 1202.7,171.3 1220.2,157.3 1237.6,143.2 1255.0,129.2 1272.4,115.1 1289.7,101.0 1307.1,86.9 1324.4,72.7 1341.7,58.5 1358.9,44.3 1376.2,30.1 1393.4,15.9 1410.6,1.6 1427.8,-12.6 1445.0,-26.9 1462.1,-41.2 1479.3,-55.5 1496.4,-69.9 1513.5,-84.2 1530.6,-98.6 1547.7,-112.9 1564.8,-127.3 1581.8,-141.7 1598.9,-156.1 1615.9,-170.5 1633.0,-185.0 1650.0,-199.4 1667.0,-213.9 1684.0,-228.3 1700.9,-242.8 1717.9,-257.3 1734.9,-271.8 1751.8,-286.3 1768.8,-300.8 1785.7,-315.3 1802.6,-329.9 2664.1,543.8 699.7,543.8" fill="#f64e40"/>
<polygon points="660.3,481.6 661.3,478.7 662.3,475.9 663.4,473.1 664.5,470.4 665.6,467.7 666.8,465.0 667.9,462.3 669.1,459.7 670.3,457.1 671.6,454.4 672.8,451.9 674.1,449.3 675.4,446.7 676.7,444.2 678.0,441.6 679.3,439.1 680.6,436.6 682.0,434.1 683.3,431.6 684.7,429.1 686.1,426.7 687.4,424.2 688.8,421.8 690.2,419.3 691.8,416.5 703.6,396.9 715.7,377.6 728.1,358.5 740.7,339.8 753.5,321.1 766.4,302.7 779.5,284.4 792.7,266.2 806.0,248.1 819.4,230.0 832.9,212.1 846.5,194.3 860.1,176.5 873.8,158.7 887.6,141.1 901.4,123.4 915.2,105.9 929.1,88.3 943.0,70.9 957.0,53.4 971.0,36.0 985.1,18.6 999.1,1.3 1013.3,-16.0 1027.4,-33.3 1041.6,-50.6 1055.8,-67.8 1070.0,-85.0 1084.2,-102.2 1098.5,-119.3 1112.8,-136.5 1127.1,-153.6 1141.5,-170.7 1155.8,-187.7 1170.2,-204.8 1184.6,-221.8 1199.0,-238.8 1213.4,-255.8 1227.8,-272.8 1242.3,-289.8 1256.8,-306.7 1271.3,-323.7 1285.8,-340.6 1300.3,-357.5 1314.8,-374.4 1329.4,-391.3 1343.9,-408.2 1358.5,-425.0 1373.1,-441.9 1387.6,-458.7 1402.2,-475.6 1416.9,-492.4 1431.5,-509.2 1446.1,-526.0 1460.8,-542.8 1475.4,-559.5 1490.1,-576.3 1504.7,-593.1 1519.4,-609.8 638.0,-1459.1 638.0,481.6" fill="#f34137"/>
<polygon points="701.0,521.8 703.9,520.8 706.7,519.8 709.5,518.8 712.3,517.7 715.1,516.6 717.8,515.4 720.5,514.3 723.1,513.1 725.8,511.9 728.4,510.7 731.1,509.4 733.7,508.2 736.2,506.9 738.8,505.6 741.4,504.3 743.9,503.0 746.5,501.7 749.0,500.4 751.5,499.0 754.0,497.7 756.5,496.3 759.0,495.0 761.5,493.6 764.0,492.2 766.8,490.6 786.7,479.0 806.2,467.1 825.4,454.8 844.5,442.3 863.3,429.7 882.0,416.9 900.5,403.9 918.9,390.9 937.2,377.7 955.4,364.5 973.6,351.1 991.6,337.7 1009.6,324.3 1027.6,310.7 1045.4,297.1 1063.3,283.5 1081.0,269.8 1098.8,256.1 1116.5,242.3 1134.1,228.5 1151.7,214.6 1169.3,200.8 1186.8,186.8 1204.4,172.9 1221.8,158.9 1239.3,144.9 1256.7,130.9 1274.1,116.8 1291.5,102.7 1308.8,88.6 1326.2,74.5 1343.5,60.3 1360.8,46.2 1378.0,32.0 1395.3,17.8 1412.5,3.5 1429.7,-10.7 1446.9,-25.0 1464.1,-39.2 1481.3,-53.5 1498.4,-67.8 1515.6,-82.2 1532.7,-96.5 1549.8,-110.9 1566.9,-125.2 1584.0,-139.6 1601.1,-154.0 1618.1,-168.4 1635.2,-182.8 1652.2,-197.2 1669.2,-211.6 1686.2,-226.1 1703.2,-240.5 1720.2,-255.0 1737.2,-269.5 1754.2,-284.0 1771.1,-298.5 1788.1,-313.0 1805.0,-327.5 2664.1,543.8 701.0,543.8" fill="#f34137"/>
<polygon points="660.3,480.2 661.3,477.4 662.3,474.6 663.3,471.9 664.4,469.2 665.5,466.5 666.6,463.8 667.8,461.2 669.0,458.6 670.1,456.0 671.4,453.4 672.6,450.9 673.8,448.3 675.1,445.8 676.3,443.3 677.6,440.8 678.9,438.3 680.2,435.8 681.5,433.3 682.8,430.9 684.2,428.4 685.5,426.0 686.9,423.5 688.2,421.1 689.6,418.7 691.2,415.9 702.9,396.2 714.9,376.8 727.2,357.7 739.8,338.9 752.6,320.2 765.5,301.7 778.5,283.4 791.7,265.1 804.9,247.0 818.3,228.9 831.7,210.9 845.3,193.0 858.9,175.2 872.5,157.5 886.2,139.7 900.0,122.1 913.8,104.5 927.7,86.9 941.6,69.4 955.5,51.9 969.5,34.5 983.5,17.1 997.6,-0.3 1011.7,-17.6 1025.8,-34.9 1039.9,-52.2 1054.1,-69.5 1068.3,-86.7 1082.5,-103.9 1096.7,-121.1 1111.0,-138.2 1125.3,-155.4 1139.6,-172.5 1153.9,-189.6 1168.3,-206.7 1182.7,-223.7 1197.0,-240.8 1211.4,-257.8 1225.9,-274.8 1240.3,-291.8 1254.7,-308.8 1269.2,-325.7 1283.7,-342.7 1298.2,-359.6 1312.7,-376.5 1327.2,-393.4 1341.7,-410.3 1356.3,-427.2 1370.8,-444.1 1385.4,-460.9 1400.0,-477.8 1414.6,-494.6 1429.2,-511.4 1443.8,-528.3 1458.4,-545.1 1473.1,-561.9 1487.7,-578.7 1502.4,-595.4 1517.0,-612.2 638.0,-1459.1 638.0,480.2" fill="#f0312d"/>
<polygon points="702.4,521.8 705.2,520.8 708.0,519.8 710.8,518.8 713.5,517.7 716.2,516.7 718.9,515.5 721.6,514.4 724.2,513.2 726.9,512.1 729.5,510.9 732.1,509.7 734.6,508.4 737.2,507.2 739.7,505.9 742.3,504.7 744.8,503.4 747.3,502.1 749.8,500.8 752.3,499.5 754.8,498.2 757.2,496.9 759.7,495.5 762.1,494.2 764.6,492.8 767.4,491.2 787.4,479.7 807.0,467.8 826.3,455.6 845.3,443.2 864.2,430.6 882.9,417.8 901.5,404.9 920.0,391.9 938.3,378.8 956.6,365.6 974.8,352.3 992.9,339.0 1010.9,325.5 1028.9,312.0 1046.8,298.5 1064.6,284.9 1082.4,271.2 1100.2,257.5 1117.9,243.8 1135.6,230.0 1153.2,216.1 1170.9,202.3 1188.4,188.4 1206.0,174.5 1223.5,160.5 1241.0,146.5 1258.4,132.5 1275.8,118.5 1293.2,104.4 1310.6,90.4 1328.0,76.3 1345.3,62.1 1362.6,48.0 1379.9,33.8 1397.2,19.6 1414.5,5.4 1431.7,-8.8 1448.9,-23.0 1466.1,-37.3 1483.3,-51.5 1500.5,-65.8 1517.6,-80.1 1534.8,-94.4 1551.9,-108.8 1569.0,-123.1 1586.1,-137.5 1603.2,-151.8 1620.3,-166.2 1637.4,-180.6 1654.4,-195.0 1671.5,-209.4 1688.5,-223.8 1705.5,-238.3 1722.5,-252.7 1739.5,-267.2 1756.5,-281.6 1773.5,-296.1 1790.5,-310.6 1807.4,-325.1 2664.1,543.8 702.4,543.8" fill="#f0312d"/>
<polygon points="660.3,478.8 661.3,476.0 662.3,473.3 663.3,470.6 664.3,467.9 665.4,465.3 666.5,462.7 667.6,460.1 668.8,457.5 670.0,454.9 671.1,452.4 672.3,449.9 673.5,447.4 674.8,444.9 676.0,442.4 677.3,439.9 678.5,437.4 679.8,435.0 681.1,432.5 682.4,430.1 683.7,427.7 685.0,425.3 686.3,422.9 687.6,420.5 689.0,418.1 690.6,415.3 702.2,395.5 714.2,376.1 726.4,356.9 738.9,338.0 751.6,319.3 764.5,300.8 777.5,282.4 790.6,264.1 803.8,245.9 817.2,227.8 830.6,209.8 844.0,191.8 857.6,174.0 871.2,156.2 884.9,138.4 898.6,120.7 912.4,103.1 926.2,85.5 940.1,68.0 954.0,50.5 968.0,33.0 982.0,15.6 996.0,-1.8 1010.0,-19.2 1024.1,-36.5 1038.2,-53.8 1052.4,-71.1 1066.6,-88.4 1080.8,-105.6 1095.0,-122.8 1109.2,-140.0 1123.5,-157.2 1137.8,-174.3 1152.1,-191.4 1166.4,-208.5 1180.7,-225.6 1195.1,-242.7 1209.5,-259.7 1223.9,-276.8 1238.3,-293.8 1252.7,-310.8 1267.2,-327.8 1281.6,-344.7 1296.1,-361.7 1310.6,-378.6 1325.1,-395.5 1339.6,-412.5 1354.1,-429.4 1368.6,-446.3 1383.2,-463.1 1397.7,-480.0 1412.3,-496.9 1426.9,-513.7 1441.5,-530.5 1456.1,-547.4 1470.7,-564.2 1485.3,-581.0 1500.0,-597.8 1514.6,-614.6 638.0,-1459.1 638.0,478.8" fill="#ed1c24"/>
<polygon points="703.8,521.8 706.6,520.9 709.4,519.9 712.1,518.9 714.8,517.8 717.5,516.7 720.1,515.7 722.7,514.5 725.3,513.4 727.9,512.3 730.5,511.1 733.1,509.9 735.6,508.7 738.1,507.5 740.6,506.3 743.1,505.0 745.6,503.8 748.1,502.5 750.6,501.3 753.0,500.0 755.5,498.7 757.9,497.4 760.4,496.1 762.8,494.8 765.2,493.4 768.1,491.9 788.1,480.4 807.7,468.6 827.1,456.4 846.2,444.1 865.1,431.5 883.9,418.8 902.5,406.0 921.0,393.0 939.4,379.9 957.7,366.7 975.9,353.5 994.1,340.2 1012.2,326.8 1030.2,313.3 1048.1,299.8 1066.0,286.2 1083.8,272.6 1101.6,258.9 1119.4,245.2 1137.1,231.4 1154.8,217.6 1172.4,203.8 1190.0,190.0 1207.6,176.1 1225.1,162.1 1242.6,148.2 1260.1,134.2 1277.6,120.2 1295.0,106.2 1312.4,92.1 1329.8,78.0 1347.1,63.9 1364.5,49.8 1381.8,35.7 1399.1,21.5 1416.4,7.3 1433.6,-6.9 1450.9,-21.1 1468.1,-35.3 1485.3,-49.6 1502.5,-63.8 1519.7,-78.1 1536.9,-92.4 1554.0,-106.7 1571.2,-121.0 1588.3,-135.4 1605.4,-149.7 1622.5,-164.1 1639.6,-178.4 1656.7,-192.8 1673.7,-207.2 1690.8,-221.6 1707.8,-236.0 1724.8,-250.4 1741.9,-264.9 1758.9,-279.3 1775.9,-293.8 1792.9,-308.2 1809.8,-322.7 2664.1,543.8 703.8,543.8" fill="#ed1c24"/>
<path d="M659.19 520.55h33.50v2.50h-33.50zM701.49 520.55h2.33v2.50h-2.33zM659.19 518.35h35.72v2.50h-35.72zM699.26 518.35h9.01v2.50h-9.01zM714.85 518.35h4.55v2.50h-4.55zM728.21 518.35h2.33v2.50h-2.33zM750.47 518.35h2.33v2.50h-2.33zM803.91 518.35h2.33v2.50h-2.33zM659.19 516.15h33.50v2.50h-33.50zM701.49 516.15h6.78v2.50h-6.78zM712.62 516.15h2.33v2.50h-2.33zM719.30 516.15h4.55v2.50h-4.55zM725.98 516.15h2.33v2.50h-2.33zM732.66 516.15h2.33v2.50h-2.33zM748.25 516.15h2.33v2.50h-2.33zM659.19 513.95h33.50v2.50h-33.50zM694.81 513.95h4.55v2.50h-4.55zM701.49 513.95h6.78v2.50h-6.78zM710.40 513.95h9.01v2.50h-9.01zM725.98 513.95h2.33v2.50h-2.33zM761.61 513.95h2.33v2.50h-2.33zM772.74 513.95h2.33v2.50h-2.33zM806.14 513.95h4.55v2.50h-4.55zM659.19 511.75h42.40v2.50h-42.40zM703.72 511.75h4.55v2.50h-4.55zM712.62 511.75h2.33v2.50h-2.33zM721.53 511.75h2.33v2.50h-2.33zM725.98 511.75h2.33v2.50h-2.33zM732.66 511.75h2.33v2.50h-2.33zM739.34 511.75h2.33v2.50h-2.33zM797.23 511.75h2.33v2.50h-2.33zM659.19 509.54h49.08v2.50h-49.08zM725.98 509.54h2.33v2.50h-2.33zM730.43 509.54h2.33v2.50h-2.33zM855.12 509.54h2.33v2.50h-2.33zM659.19 507.34h49.08v2.50h-49.08zM714.85 507.34h2.33v2.50h-2.33zM719.30 507.34h4.55v2.50h-4.55zM741.57 507.34h2.33v2.50h-2.33zM659.19 505.14h55.76v2.50h-55.76zM721.53 505.14h6.78v2.50h-6.78zM732.66 505.14h2.33v2.50h-2.33zM739.34 505.14h2.33v2.50h-2.33zM746.02 505.14h2.33v2.50h-2.33zM875.16 505.14h2.33v2.50h-2.33zM659.19 502.94h53.54v2.50h-53.54zM728.21 502.94h2.33v2.50h-2.33zM826.17 502.94h2.33v2.50h-2.33zM659.19 500.74h55.76v2.50h-55.76zM717.08 500.74h4.55v2.50h-4.55zM750.47 500.74h2.33v2.50h-2.33zM659.19 498.54h55.76v2.50h-55.76zM728.21 498.54h2.33v2.50h-2.33zM839.53 498.54h2.33v2.50h-2.33zM659.19 496.34h69.12v2.50h-69.12zM857.35 496.34h2.33v2.50h-2.33zM659.19 494.14h66.89v2.50h-66.89zM748.25 494.14h2.33v2.50h-2.33zM843.99 494.14h2.33v2.50h-2.33zM659.19 491.94h64.67v2.50h-64.67zM659.19 489.74h71.35v2.50h-71.35zM737.11 489.74h2.33v2.50h-2.33zM757.15 489.74h2.33v2.50h-2.33zM665.87 487.53h69.12v2.50h-69.12zM739.34 487.53h2.33v2.50h-2.33zM670.32 485.33h64.67v2.50h-64.67zM743.79 485.33h2.33v2.50h-2.33zM663.64 483.13h2.33v2.50h-2.33zM668.09 483.13h69.12v2.50h-69.12zM772.74 483.13h2.33v2.50h-2.33zM788.32 483.13h2.33v2.50h-2.33zM792.78 483.13h2.33v2.50h-2.33zM661.41 480.93h4.55v2.50h-4.55zM670.32 480.93h4.55v2.50h-4.55zM677.00 480.93h57.99v2.50h-57.99zM737.11 480.93h2.33v2.50h-2.33zM748.25 480.93h2.33v2.50h-2.33zM795.00 480.93h2.33v2.50h-2.33zM665.87 478.73h2.33v2.50h-2.33zM670.32 478.73h66.89v2.50h-66.89zM739.34 478.73h2.33v2.50h-2.33zM748.25 478.73h2.33v2.50h-2.33zM661.41 476.53h2.33v2.50h-2.33zM672.55 476.53h73.57v2.50h-73.57zM750.47 476.53h2.33v2.50h-2.33zM786.10 476.53h2.33v2.50h-2.33zM835.08 476.53h2.33v2.50h-2.33zM665.87 474.33h4.55v2.50h-4.55zM677.00 474.33h69.12v2.50h-69.12zM748.25 474.33h2.33v2.50h-2.33zM670.32 472.13h2.33v2.50h-2.33zM674.77 472.13h2.33v2.50h-2.33zM679.23 472.13h73.57v2.50h-73.57zM754.93 472.13h2.33v2.50h-2.33zM663.64 469.93h4.55v2.50h-4.55zM674.77 469.93h2.33v2.50h-2.33zM679.23 469.93h6.78v2.50h-6.78zM688.13 469.93h62.44v2.50h-62.44zM761.61 469.93h2.33v2.50h-2.33zM788.32 469.93h2.33v2.50h-2.33zM848.44 469.93h2.33v2.50h-2.33zM661.41 467.73h2.33v2.50h-2.33zM665.87 467.73h4.55v2.50h-4.55zM681.45 467.73h73.57v2.50h-73.57zM757.15 467.73h2.33v2.50h-2.33zM761.61 467.73h2.33v2.50h-2.33zM797.23 467.73h2.33v2.50h-2.33zM901.88 467.73h2.33v2.50h-2.33zM661.41 465.52h9.01v2.50h-9.01zM681.45 465.52h4.55v2.50h-4.55zM688.13 465.52h66.89v2.50h-66.89zM788.32 465.52h2.33v2.50h-2.33zM901.88 465.52h2.33v2.50h-2.33zM685.90 463.32h2.33v2.50h-2.33zM690.36 463.32h69.12v2.50h-69.12zM761.61 463.32h2.33v2.50h-2.33zM663.64 461.12h2.33v2.50h-2.33zM694.81 461.12h66.89v2.50h-66.89zM763.83 461.12h6.78v2.50h-6.78zM850.67 461.12h2.33v2.50h-2.33zM890.74 461.12h2.33v2.50h-2.33zM950.86 461.12h2.33v2.50h-2.33zM663.64 458.92h2.33v2.50h-2.33zM672.55 458.92h2.33v2.50h-2.33zM692.58 458.92h69.12v2.50h-69.12zM763.83 458.92h9.01v2.50h-9.01zM910.78 458.92h2.33v2.50h-2.33zM661.41 456.72h2.33v2.50h-2.33zM672.55 456.72h2.33v2.50h-2.33zM694.81 456.72h73.57v2.50h-73.57zM783.87 456.72h2.33v2.50h-2.33zM839.53 456.72h2.33v2.50h-2.33zM692.58 454.52h2.33v2.50h-2.33zM697.04 454.52h71.35v2.50h-71.35zM770.51 454.52h2.33v2.50h-2.33zM774.96 454.52h6.78v2.50h-6.78zM808.36 454.52h4.55v2.50h-4.55zM665.87 452.32h2.33v2.50h-2.33zM670.32 452.32h2.33v2.50h-2.33zM679.23 452.32h2.33v2.50h-2.33zM685.90 452.32h2.33v2.50h-2.33zM690.36 452.32h2.33v2.50h-2.33zM697.04 452.32h2.33v2.50h-2.33zM701.49 452.32h64.67v2.50h-64.67zM768.29 452.32h6.78v2.50h-6.78zM779.42 452.32h2.33v2.50h-2.33zM790.55 452.32h2.33v2.50h-2.33zM670.32 450.12h4.55v2.50h-4.55zM694.81 450.12h4.55v2.50h-4.55zM701.49 450.12h2.33v2.50h-2.33zM708.17 450.12h69.12v2.50h-69.12zM823.95 450.12h2.33v2.50h-2.33zM661.41 447.92h2.33v2.50h-2.33zM672.55 447.92h2.33v2.50h-2.33zM692.58 447.92h4.55v2.50h-4.55zM701.49 447.92h2.33v2.50h-2.33zM705.94 447.92h2.33v2.50h-2.33zM710.40 447.92h60.22v2.50h-60.22zM774.96 447.92h9.01v2.50h-9.01zM661.41 445.72h2.33v2.50h-2.33zM670.32 445.72h2.33v2.50h-2.33zM697.04 445.72h2.33v2.50h-2.33zM701.49 445.72h2.33v2.50h-2.33zM705.94 445.72h73.57v2.50h-73.57zM781.64 445.72h4.55v2.50h-4.55zM788.32 445.72h2.33v2.50h-2.33zM877.38 445.72h2.33v2.50h-2.33zM917.46 445.72h2.33v2.50h-2.33zM961.99 445.72h2.33v2.50h-2.33zM692.58 443.51h2.33v2.50h-2.33zM703.72 443.51h2.33v2.50h-2.33zM708.17 443.51h71.35v2.50h-71.35zM781.64 443.51h2.33v2.50h-2.33zM786.10 443.51h2.33v2.50h-2.33zM950.86 443.51h2.33v2.50h-2.33zM661.41 441.31h2.33v2.50h-2.33zM697.04 441.31h2.33v2.50h-2.33zM701.49 441.31h2.33v2.50h-2.33zM712.62 441.31h69.12v2.50h-69.12zM783.87 441.31h2.33v2.50h-2.33zM788.32 441.31h2.33v2.50h-2.33zM792.78 441.31h2.33v2.50h-2.33zM848.44 441.31h2.33v2.50h-2.33zM663.64 439.11h2.33v2.50h-2.33zM670.32 439.11h2.33v2.50h-2.33zM710.40 439.11h73.57v2.50h-73.57zM799.46 439.11h2.33v2.50h-2.33zM668.09 436.91h2.33v2.50h-2.33zM708.17 436.91h2.33v2.50h-2.33zM717.08 436.91h69.12v2.50h-69.12zM788.32 436.91h2.33v2.50h-2.33zM792.78 436.91h2.33v2.50h-2.33zM797.23 436.91h2.33v2.50h-2.33zM708.17 434.71h4.55v2.50h-4.55zM717.08 434.71h4.55v2.50h-4.55zM723.76 434.71h60.22v2.50h-60.22zM786.10 434.71h9.01v2.50h-9.01zM828.40 434.71h2.33v2.50h-2.33zM674.77 432.51h2.33v2.50h-2.33zM683.68 432.51h2.33v2.50h-2.33zM690.36 432.51h2.33v2.50h-2.33zM714.85 432.51h2.33v2.50h-2.33zM719.30 432.51h9.01v2.50h-9.01zM730.43 432.51h55.76v2.50h-55.76zM792.78 432.51h2.33v2.50h-2.33zM665.87 430.31h2.33v2.50h-2.33zM679.23 430.31h2.33v2.50h-2.33zM705.94 430.31h2.33v2.50h-2.33zM717.08 430.31h6.78v2.50h-6.78zM725.98 430.31h66.89v2.50h-66.89zM806.14 430.31h4.55v2.50h-4.55zM819.49 430.31h2.33v2.50h-2.33zM897.42 430.31h2.33v2.50h-2.33zM714.85 428.11h6.78v2.50h-6.78zM723.76 428.11h11.23v2.50h-11.23zM737.11 428.11h60.22v2.50h-60.22zM801.68 428.11h2.33v2.50h-2.33zM661.41 425.91h2.33v2.50h-2.33zM710.40 425.91h2.33v2.50h-2.33zM723.76 425.91h2.33v2.50h-2.33zM732.66 425.91h62.44v2.50h-62.44zM810.59 425.91h4.55v2.50h-4.55zM819.49 425.91h2.33v2.50h-2.33zM717.08 423.71h2.33v2.50h-2.33zM725.98 423.71h4.55v2.50h-4.55zM734.89 423.71h66.89v2.50h-66.89zM712.62 421.50h2.33v2.50h-2.33zM723.76 421.50h2.33v2.50h-2.33zM730.43 421.50h66.89v2.50h-66.89zM803.91 421.50h2.33v2.50h-2.33zM668.09 419.30h2.33v2.50h-2.33zM681.45 419.30h2.33v2.50h-2.33zM717.08 419.30h2.33v2.50h-2.33zM725.98 419.30h4.55v2.50h-4.55zM734.89 419.30h4.55v2.50h-4.55zM741.57 419.30h53.54v2.50h-53.54zM797.23 419.30h6.78v2.50h-6.78zM806.14 419.30h2.33v2.50h-2.33zM897.42 419.30h2.33v2.50h-2.33zM661.41 417.10h2.33v2.50h-2.33zM728.21 417.10h4.55v2.50h-4.55zM734.89 417.10h66.89v2.50h-66.89zM803.91 417.10h2.33v2.50h-2.33zM812.82 417.10h4.55v2.50h-4.55zM672.55 414.90h2.33v2.50h-2.33zM677.00 414.90h2.33v2.50h-2.33zM712.62 414.90h2.33v2.50h-2.33zM719.30 414.90h4.55v2.50h-4.55zM728.21 414.90h2.33v2.50h-2.33zM739.34 414.90h57.99v2.50h-57.99zM799.46 414.90h4.55v2.50h-4.55zM730.43 412.70h2.33v2.50h-2.33zM734.89 412.70h2.33v2.50h-2.33zM746.02 412.70h57.99v2.50h-57.99zM808.36 412.70h4.55v2.50h-4.55zM815.04 412.70h2.33v2.50h-2.33zM826.17 412.70h2.33v2.50h-2.33zM663.64 410.50h2.33v2.50h-2.33zM732.66 410.50h2.33v2.50h-2.33zM739.34 410.50h6.78v2.50h-6.78zM748.25 410.50h60.22v2.50h-60.22zM819.49 410.50h2.33v2.50h-2.33zM830.63 410.50h2.33v2.50h-2.33zM741.57 408.30h6.78v2.50h-6.78zM750.47 408.30h60.22v2.50h-60.22zM815.04 408.30h4.55v2.50h-4.55zM679.23 406.10h2.33v2.50h-2.33zM725.98 406.10h2.33v2.50h-2.33zM743.79 406.10h6.78v2.50h-6.78zM752.70 406.10h49.08v2.50h-49.08zM803.91 406.10h4.55v2.50h-4.55zM819.49 406.10h4.55v2.50h-4.55zM848.44 406.10h2.33v2.50h-2.33zM730.43 403.90h2.33v2.50h-2.33zM734.89 403.90h2.33v2.50h-2.33zM748.25 403.90h2.33v2.50h-2.33zM752.70 403.90h51.31v2.50h-51.31zM806.14 403.90h9.01v2.50h-9.01zM823.95 403.90h2.33v2.50h-2.33zM721.53 401.70h2.33v2.50h-2.33zM728.21 401.70h2.33v2.50h-2.33zM734.89 401.70h2.33v2.50h-2.33zM741.57 401.70h2.33v2.50h-2.33zM750.47 401.70h62.44v2.50h-62.44zM823.95 401.70h2.33v2.50h-2.33zM723.76 399.49h2.33v2.50h-2.33zM750.47 399.49h2.33v2.50h-2.33zM759.38 399.49h53.54v2.50h-53.54zM817.27 399.49h2.33v2.50h-2.33zM674.77 397.29h2.33v2.50h-2.33zM741.57 397.29h2.33v2.50h-2.33zM748.25 397.29h2.33v2.50h-2.33zM757.15 397.29h51.31v2.50h-51.31zM810.59 397.29h9.01v2.50h-9.01zM821.72 397.29h2.33v2.50h-2.33zM897.42 397.29h2.33v2.50h-2.33zM741.57 395.09h2.33v2.50h-2.33zM746.02 395.09h6.78v2.50h-6.78zM754.93 395.09h2.33v2.50h-2.33zM759.38 395.09h4.55v2.50h-4.55zM766.06 395.09h51.31v2.50h-51.31zM819.49 395.09h2.33v2.50h-2.33zM835.08 395.09h2.33v2.50h-2.33zM672.55 392.89h4.55v2.50h-4.55zM692.58 392.89h2.33v2.50h-2.33zM730.43 392.89h2.33v2.50h-2.33zM748.25 392.89h2.33v2.50h-2.33zM754.93 392.89h4.55v2.50h-4.55zM761.61 392.89h57.99v2.50h-57.99zM821.72 392.89h4.55v2.50h-4.55zM835.08 392.89h2.33v2.50h-2.33zM915.23 392.89h2.33v2.50h-2.33zM665.87 390.69h2.33v2.50h-2.33zM732.66 390.69h2.33v2.50h-2.33zM759.38 390.69h2.33v2.50h-2.33zM763.83 390.69h55.76v2.50h-55.76zM828.40 390.69h2.33v2.50h-2.33zM835.08 390.69h2.33v2.50h-2.33zM839.53 390.69h2.33v2.50h-2.33zM690.36 388.49h2.33v2.50h-2.33zM750.47 388.49h2.33v2.50h-2.33zM761.61 388.49h2.33v2.50h-2.33zM766.06 388.49h4.55v2.50h-4.55zM772.74 388.49h51.31v2.50h-51.31zM828.40 388.49h2.33v2.50h-2.33zM719.30 386.29h2.33v2.50h-2.33zM754.93 386.29h4.55v2.50h-4.55zM766.06 386.29h2.33v2.50h-2.33zM770.51 386.29h49.08v2.50h-49.08zM823.95 386.29h2.33v2.50h-2.33zM839.53 386.29h2.33v2.50h-2.33zM875.16 386.29h2.33v2.50h-2.33zM668.09 384.09h2.33v2.50h-2.33zM759.38 384.09h2.33v2.50h-2.33zM763.83 384.09h57.99v2.50h-57.99zM828.40 384.09h2.33v2.50h-2.33zM843.99 384.09h2.33v2.50h-2.33zM663.64 381.89h2.33v2.50h-2.33zM668.09 381.89h2.33v2.50h-2.33zM750.47 381.89h2.33v2.50h-2.33zM757.15 381.89h2.33v2.50h-2.33zM763.83 381.89h4.55v2.50h-4.55zM770.51 381.89h53.54v2.50h-53.54zM828.40 381.89h4.55v2.50h-4.55zM868.48 381.89h2.33v2.50h-2.33zM699.26 379.69h2.33v2.50h-2.33zM754.93 379.69h2.33v2.50h-2.33zM768.29 379.69h2.33v2.50h-2.33zM774.96 379.69h4.55v2.50h-4.55zM781.64 379.69h46.86v2.50h-46.86zM839.53 379.69h2.33v2.50h-2.33zM761.61 377.48h2.33v2.50h-2.33zM768.29 377.48h2.33v2.50h-2.33zM774.96 377.48h2.33v2.50h-2.33zM781.64 377.48h53.54v2.50h-53.54zM759.38 375.28h2.33v2.50h-2.33zM777.19 375.28h53.54v2.50h-53.54zM832.85 375.28h6.78v2.50h-6.78zM846.21 375.28h2.33v2.50h-2.33zM855.12 375.28h2.33v2.50h-2.33zM665.87 373.08h2.33v2.50h-2.33zM725.98 373.08h2.33v2.50h-2.33zM754.93 373.08h2.33v2.50h-2.33zM766.06 373.08h6.78v2.50h-6.78zM777.19 373.08h46.86v2.50h-46.86zM826.17 373.08h6.78v2.50h-6.78zM837.31 373.08h2.33v2.50h-2.33zM841.76 373.08h2.33v2.50h-2.33zM668.09 370.88h2.33v2.50h-2.33zM685.90 370.88h2.33v2.50h-2.33zM712.62 370.88h2.33v2.50h-2.33zM763.83 370.88h2.33v2.50h-2.33zM768.29 370.88h2.33v2.50h-2.33zM777.19 370.88h9.01v2.50h-9.01zM788.32 370.88h42.40v2.50h-42.40zM832.85 370.88h6.78v2.50h-6.78zM848.44 370.88h6.78v2.50h-6.78zM665.87 368.68h2.33v2.50h-2.33zM750.47 368.68h2.33v2.50h-2.33zM770.51 368.68h2.33v2.50h-2.33zM781.64 368.68h2.33v2.50h-2.33zM788.32 368.68h42.40v2.50h-42.40zM835.08 368.68h6.78v2.50h-6.78zM774.96 366.48h2.33v2.50h-2.33zM783.87 366.48h2.33v2.50h-2.33zM788.32 366.48h44.63v2.50h-44.63zM835.08 366.48h4.55v2.50h-4.55zM841.76 366.48h2.33v2.50h-2.33zM846.21 366.48h2.33v2.50h-2.33zM859.57 366.48h2.33v2.50h-2.33zM670.32 364.28h2.33v2.50h-2.33zM781.64 364.28h13.46v2.50h-13.46zM797.23 364.28h33.50v2.50h-33.50zM832.85 364.28h11.23v2.50h-11.23zM848.44 364.28h4.55v2.50h-4.55zM781.64 362.08h66.89v2.50h-66.89zM850.67 362.08h2.33v2.50h-2.33zM681.45 359.88h2.33v2.50h-2.33zM752.70 359.88h2.33v2.50h-2.33zM761.61 359.88h2.33v2.50h-2.33zM783.87 359.88h4.55v2.50h-4.55zM790.55 359.88h60.22v2.50h-60.22zM852.89 359.88h4.55v2.50h-4.55zM868.48 359.88h4.55v2.50h-4.55zM768.29 357.68h2.33v2.50h-2.33zM786.10 357.68h11.23v2.50h-11.23zM799.46 357.68h15.69v2.50h-15.69zM817.27 357.68h22.36v2.50h-22.36zM841.76 357.68h9.01v2.50h-9.01zM864.02 357.68h2.33v2.50h-2.33zM663.64 355.47h2.33v2.50h-2.33zM692.58 355.47h2.33v2.50h-2.33zM721.53 355.47h2.33v2.50h-2.33zM761.61 355.47h2.33v2.50h-2.33zM795.00 355.47h57.99v2.50h-57.99zM857.35 355.47h2.33v2.50h-2.33zM864.02 355.47h2.33v2.50h-2.33zM786.10 353.27h2.33v2.50h-2.33zM790.55 353.27h4.55v2.50h-4.55zM797.23 353.27h55.76v2.50h-55.76zM855.12 353.27h4.55v2.50h-4.55zM866.25 353.27h2.33v2.50h-2.33zM792.78 351.07h6.78v2.50h-6.78zM801.68 351.07h44.63v2.50h-44.63zM848.44 351.07h2.33v2.50h-2.33zM852.89 351.07h2.33v2.50h-2.33zM857.35 351.07h4.55v2.50h-4.55zM866.25 351.07h2.33v2.50h-2.33zM870.70 351.07h2.33v2.50h-2.33zM888.52 351.07h2.33v2.50h-2.33zM895.20 351.07h2.33v2.50h-2.33zM772.74 348.87h2.33v2.50h-2.33zM795.00 348.87h2.33v2.50h-2.33zM799.46 348.87h42.40v2.50h-42.40zM843.99 348.87h9.01v2.50h-9.01zM859.57 348.87h6.78v2.50h-6.78zM694.81 346.67h2.33v2.50h-2.33zM710.40 346.67h2.33v2.50h-2.33zM759.38 346.67h2.33v2.50h-2.33zM777.19 346.67h2.33v2.50h-2.33zM790.55 346.67h2.33v2.50h-2.33zM806.14 346.67h20.14v2.50h-20.14zM828.40 346.67h6.78v2.50h-6.78zM837.31 346.67h15.69v2.50h-15.69zM855.12 346.67h2.33v2.50h-2.33zM875.16 346.67h4.55v2.50h-4.55zM801.68 344.47h2.33v2.50h-2.33zM806.14 344.47h2.33v2.50h-2.33zM810.59 344.47h40.18v2.50h-40.18zM852.89 344.47h6.78v2.50h-6.78zM868.48 344.47h2.33v2.50h-2.33zM790.55 342.27h2.33v2.50h-2.33zM797.23 342.27h2.33v2.50h-2.33zM808.36 342.27h13.46v2.50h-13.46zM823.95 342.27h17.91v2.50h-17.91zM843.99 342.27h20.14v2.50h-20.14zM870.70 342.27h2.33v2.50h-2.33zM877.38 342.27h4.55v2.50h-4.55zM884.06 342.27h4.55v2.50h-4.55zM723.76 340.07h2.33v2.50h-2.33zM732.66 340.07h2.33v2.50h-2.33zM779.42 340.07h2.33v2.50h-2.33zM797.23 340.07h4.55v2.50h-4.55zM808.36 340.07h4.55v2.50h-4.55zM815.04 340.07h31.27v2.50h-31.27zM850.67 340.07h9.01v2.50h-9.01zM864.02 340.07h2.33v2.50h-2.33zM868.48 340.07h2.33v2.50h-2.33zM879.61 340.07h2.33v2.50h-2.33zM803.91 337.87h2.33v2.50h-2.33zM810.59 337.87h2.33v2.50h-2.33zM815.04 337.87h2.33v2.50h-2.33zM819.49 337.87h6.78v2.50h-6.78zM828.40 337.87h17.91v2.50h-17.91zM848.44 337.87h11.23v2.50h-11.23zM864.02 337.87h4.55v2.50h-4.55zM663.64 335.67h2.33v2.50h-2.33zM781.64 335.67h2.33v2.50h-2.33zM790.55 335.67h4.55v2.50h-4.55zM806.14 335.67h4.55v2.50h-4.55zM812.82 335.67h2.33v2.50h-2.33zM817.27 335.67h4.55v2.50h-4.55zM823.95 335.67h2.33v2.50h-2.33zM828.40 335.67h2.33v2.50h-2.33zM832.85 335.67h15.69v2.50h-15.69zM852.89 335.67h13.46v2.50h-13.46zM868.48 335.67h4.55v2.50h-4.55zM877.38 335.67h2.33v2.50h-2.33zM790.55 333.46h2.33v2.50h-2.33zM812.82 333.46h2.33v2.50h-2.33zM817.27 333.46h37.95v2.50h-37.95zM857.35 333.46h2.33v2.50h-2.33zM861.80 333.46h4.55v2.50h-4.55zM872.93 333.46h2.33v2.50h-2.33zM879.61 333.46h4.55v2.50h-4.55zM886.29 333.46h2.33v2.50h-2.33zM808.36 331.26h2.33v2.50h-2.33zM815.04 331.26h2.33v2.50h-2.33zM823.95 331.26h9.01v2.50h-9.01zM837.31 331.26h22.36v2.50h-22.36zM861.80 331.26h6.78v2.50h-6.78zM872.93 331.26h2.33v2.50h-2.33zM879.61 331.26h4.55v2.50h-4.55zM679.23 329.06h2.33v2.50h-2.33zM790.55 329.06h4.55v2.50h-4.55zM803.91 329.06h4.55v2.50h-4.55zM810.59 329.06h2.33v2.50h-2.33zM817.27 329.06h6.78v2.50h-6.78zM826.17 329.06h22.36v2.50h-22.36zM850.67 329.06h9.01v2.50h-9.01zM861.80 329.06h4.55v2.50h-4.55zM868.48 329.06h2.33v2.50h-2.33zM877.38 329.06h6.78v2.50h-6.78zM728.21 326.86h2.33v2.50h-2.33zM801.68 326.86h2.33v2.50h-2.33zM821.72 326.86h6.78v2.50h-6.78zM830.63 326.86h4.55v2.50h-4.55zM837.31 326.86h2.33v2.50h-2.33zM841.76 326.86h20.14v2.50h-20.14zM864.02 326.86h4.55v2.50h-4.55zM870.70 326.86h4.55v2.50h-4.55zM884.06 326.86h2.33v2.50h-2.33zM888.52 326.86h2.33v2.50h-2.33zM817.27 324.66h2.33v2.50h-2.33zM823.95 324.66h6.78v2.50h-6.78zM835.08 324.66h4.55v2.50h-4.55zM841.76 324.66h2.33v2.50h-2.33zM848.44 324.66h11.23v2.50h-11.23zM861.80 324.66h4.55v2.50h-4.55zM875.16 324.66h2.33v2.50h-2.33zM879.61 324.66h9.01v2.50h-9.01zM899.65 324.66h2.33v2.50h-2.33zM823.95 322.46h2.33v2.50h-2.33zM828.40 322.46h11.23v2.50h-11.23zM841.76 322.46h22.36v2.50h-22.36zM866.25 322.46h2.33v2.50h-2.33zM870.70 322.46h6.78v2.50h-6.78zM879.61 322.46h2.33v2.50h-2.33zM886.29 322.46h2.33v2.50h-2.33zM890.74 322.46h2.33v2.50h-2.33zM899.65 322.46h2.33v2.50h-2.33zM910.78 322.46h2.33v2.50h-2.33zM799.46 320.26h2.33v2.50h-2.33zM815.04 320.26h2.33v2.50h-2.33zM823.95 320.26h4.55v2.50h-4.55zM830.63 320.26h17.91v2.50h-17.91zM852.89 320.26h9.01v2.50h-9.01zM864.02 320.26h2.33v2.50h-2.33zM868.48 320.26h2.33v2.50h-2.33zM872.93 320.26h4.55v2.50h-4.55zM879.61 320.26h6.78v2.50h-6.78zM892.97 320.26h4.55v2.50h-4.55zM901.88 320.26h2.33v2.50h-2.33zM906.33 320.26h2.33v2.50h-2.33zM823.95 318.06h2.33v2.50h-2.33zM830.63 318.06h4.55v2.50h-4.55zM837.31 318.06h17.91v2.50h-17.91zM859.57 318.06h2.33v2.50h-2.33zM864.02 318.06h9.01v2.50h-9.01zM881.84 318.06h2.33v2.50h-2.33zM886.29 318.06h6.78v2.50h-6.78zM897.42 318.06h2.33v2.50h-2.33zM799.46 315.86h2.33v2.50h-2.33zM810.59 315.86h2.33v2.50h-2.33zM821.72 315.86h4.55v2.50h-4.55zM828.40 315.86h2.33v2.50h-2.33zM837.31 315.86h6.78v2.50h-6.78zM846.21 315.86h6.78v2.50h-6.78zM855.12 315.86h11.23v2.50h-11.23zM868.48 315.86h2.33v2.50h-2.33zM872.93 315.86h2.33v2.50h-2.33zM886.29 315.86h2.33v2.50h-2.33zM895.20 315.86h4.55v2.50h-4.55zM933.05 315.86h2.33v2.50h-2.33zM835.08 313.66h2.33v2.50h-2.33zM841.76 313.66h4.55v2.50h-4.55zM848.44 313.66h17.91v2.50h-17.91zM868.48 313.66h6.78v2.50h-6.78zM895.20 313.66h4.55v2.50h-4.55zM901.88 313.66h2.33v2.50h-2.33zM910.78 313.66h2.33v2.50h-2.33zM837.31 311.45h4.55v2.50h-4.55zM843.99 311.45h2.33v2.50h-2.33zM848.44 311.45h4.55v2.50h-4.55zM855.12 311.45h13.46v2.50h-13.46zM870.70 311.45h4.55v2.50h-4.55zM877.38 311.45h4.55v2.50h-4.55zM884.06 311.45h4.55v2.50h-4.55zM899.65 311.45h2.33v2.50h-2.33zM904.10 311.45h2.33v2.50h-2.33zM690.36 309.25h2.33v2.50h-2.33zM826.17 309.25h4.55v2.50h-4.55zM839.53 309.25h2.33v2.50h-2.33zM848.44 309.25h2.33v2.50h-2.33zM852.89 309.25h11.23v2.50h-11.23zM866.25 309.25h4.55v2.50h-4.55zM872.93 309.25h11.23v2.50h-11.23zM886.29 309.25h2.33v2.50h-2.33zM901.88 309.25h2.33v2.50h-2.33zM830.63 307.05h2.33v2.50h-2.33zM839.53 307.05h2.33v2.50h-2.33zM850.67 307.05h2.33v2.50h-2.33zM855.12 307.05h6.78v2.50h-6.78zM868.48 307.05h17.91v2.50h-17.91zM888.52 307.05h2.33v2.50h-2.33zM892.97 307.05h6.78v2.50h-6.78zM901.88 307.05h2.33v2.50h-2.33zM939.73 307.05h2.33v2.50h-2.33zM823.95 304.85h2.33v2.50h-2.33zM837.31 304.85h2.33v2.50h-2.33zM843.99 304.85h2.33v2.50h-2.33zM850.67 304.85h2.33v2.50h-2.33zM855.12 304.85h2.33v2.50h-2.33zM859.57 304.85h2.33v2.50h-2.33zM864.02 304.85h2.33v2.50h-2.33zM868.48 304.85h2.33v2.50h-2.33zM881.84 304.85h2.33v2.50h-2.33zM890.74 304.85h6.78v2.50h-6.78zM915.23 304.85h2.33v2.50h-2.33zM924.14 304.85h2.33v2.50h-2.33zM832.85 302.65h2.33v2.50h-2.33zM839.53 302.65h2.33v2.50h-2.33zM843.99 302.65h2.33v2.50h-2.33zM850.67 302.65h4.55v2.50h-4.55zM857.35 302.65h2.33v2.50h-2.33zM861.80 302.65h2.33v2.50h-2.33zM866.25 302.65h9.01v2.50h-9.01zM877.38 302.65h4.55v2.50h-4.55zM884.06 302.65h4.55v2.50h-4.55zM890.74 302.65h11.23v2.50h-11.23zM904.10 302.65h2.33v2.50h-2.33zM835.08 300.45h2.33v2.50h-2.33zM850.67 300.45h2.33v2.50h-2.33zM861.80 300.45h6.78v2.50h-6.78zM870.70 300.45h11.23v2.50h-11.23zM886.29 300.45h6.78v2.50h-6.78zM895.20 300.45h6.78v2.50h-6.78zM904.10 300.45h2.33v2.50h-2.33zM910.78 300.45h2.33v2.50h-2.33zM766.06 298.25h2.33v2.50h-2.33zM852.89 298.25h2.33v2.50h-2.33zM861.80 298.25h4.55v2.50h-4.55zM870.70 298.25h6.78v2.50h-6.78zM881.84 298.25h11.23v2.50h-11.23zM895.20 298.25h4.55v2.50h-4.55zM904.10 298.25h4.55v2.50h-4.55zM924.14 298.25h2.33v2.50h-2.33zM966.44 298.25h2.33v2.50h-2.33zM725.98 296.05h2.33v2.50h-2.33zM850.67 296.05h2.33v2.50h-2.33zM855.12 296.05h6.78v2.50h-6.78zM870.70 296.05h2.33v2.50h-2.33zM875.16 296.05h6.78v2.50h-6.78zM886.29 296.05h2.33v2.50h-2.33zM890.74 296.05h2.33v2.50h-2.33zM895.20 296.05h2.33v2.50h-2.33zM899.65 296.05h2.33v2.50h-2.33zM926.37 296.05h2.33v2.50h-2.33zM846.21 293.85h2.33v2.50h-2.33zM850.67 293.85h2.33v2.50h-2.33zM855.12 293.85h4.55v2.50h-4.55zM861.80 293.85h6.78v2.50h-6.78zM872.93 293.85h6.78v2.50h-6.78zM881.84 293.85h2.33v2.50h-2.33zM886.29 293.85h6.78v2.50h-6.78zM895.20 293.85h2.33v2.50h-2.33zM901.88 293.85h2.33v2.50h-2.33zM913.01 293.85h2.33v2.50h-2.33zM919.69 293.85h2.33v2.50h-2.33zM806.14 291.65h2.33v2.50h-2.33zM855.12 291.65h2.33v2.50h-2.33zM859.57 291.65h2.33v2.50h-2.33zM864.02 291.65h2.33v2.50h-2.33zM870.70 291.65h2.33v2.50h-2.33zM875.16 291.65h2.33v2.50h-2.33zM879.61 291.65h2.33v2.50h-2.33zM884.06 291.65h9.01v2.50h-9.01zM895.20 291.65h6.78v2.50h-6.78zM910.78 291.65h2.33v2.50h-2.33zM841.76 289.44h2.33v2.50h-2.33zM864.02 289.44h4.55v2.50h-4.55zM872.93 289.44h2.33v2.50h-2.33zM879.61 289.44h2.33v2.50h-2.33zM884.06 289.44h4.55v2.50h-4.55zM892.97 289.44h2.33v2.50h-2.33zM897.42 289.44h2.33v2.50h-2.33zM906.33 289.44h4.55v2.50h-4.55zM924.14 289.44h2.33v2.50h-2.33zM928.59 289.44h2.33v2.50h-2.33zM961.99 289.44h2.33v2.50h-2.33zM821.72 287.24h2.33v2.50h-2.33zM852.89 287.24h2.33v2.50h-2.33zM864.02 287.24h20.14v2.50h-20.14zM886.29 287.24h2.33v2.50h-2.33zM890.74 287.24h2.33v2.50h-2.33zM895.20 287.24h2.33v2.50h-2.33zM899.65 287.24h4.55v2.50h-4.55zM913.01 287.24h2.33v2.50h-2.33zM926.37 287.24h2.33v2.50h-2.33zM861.80 285.04h2.33v2.50h-2.33zM868.48 285.04h2.33v2.50h-2.33zM877.38 285.04h4.55v2.50h-4.55zM884.06 285.04h2.33v2.50h-2.33zM890.74 285.04h4.55v2.50h-4.55zM899.65 285.04h6.78v2.50h-6.78zM908.55 285.04h2.33v2.50h-2.33zM915.23 285.04h4.55v2.50h-4.55zM924.14 285.04h2.33v2.50h-2.33zM941.95 285.04h2.33v2.50h-2.33zM728.21 282.84h2.33v2.50h-2.33zM830.63 282.84h2.33v2.50h-2.33zM861.80 282.84h2.33v2.50h-2.33zM868.48 282.84h2.33v2.50h-2.33zM877.38 282.84h2.33v2.50h-2.33zM881.84 282.84h4.55v2.50h-4.55zM888.52 282.84h2.33v2.50h-2.33zM895.20 282.84h2.33v2.50h-2.33zM901.88 282.84h4.55v2.50h-4.55zM921.91 282.84h2.33v2.50h-2.33zM768.29 280.64h2.33v2.50h-2.33zM846.21 280.64h2.33v2.50h-2.33zM857.35 280.64h2.33v2.50h-2.33zM870.70 280.64h2.33v2.50h-2.33zM888.52 280.64h2.33v2.50h-2.33zM895.20 280.64h2.33v2.50h-2.33zM899.65 280.64h11.23v2.50h-11.23zM913.01 280.64h2.33v2.50h-2.33zM917.46 280.64h2.33v2.50h-2.33zM921.91 280.64h4.55v2.50h-4.55zM861.80 278.44h2.33v2.50h-2.33zM870.70 278.44h2.33v2.50h-2.33zM875.16 278.44h2.33v2.50h-2.33zM881.84 278.44h2.33v2.50h-2.33zM886.29 278.44h2.33v2.50h-2.33zM890.74 278.44h4.55v2.50h-4.55zM899.65 278.44h2.33v2.50h-2.33zM904.10 278.44h2.33v2.50h-2.33zM913.01 278.44h4.55v2.50h-4.55zM921.91 278.44h6.78v2.50h-6.78zM930.82 278.44h2.33v2.50h-2.33zM935.27 278.44h2.33v2.50h-2.33zM941.95 278.44h2.33v2.50h-2.33zM852.89 276.24h2.33v2.50h-2.33zM859.57 276.24h2.33v2.50h-2.33zM881.84 276.24h4.55v2.50h-4.55zM888.52 276.24h2.33v2.50h-2.33zM897.42 276.24h2.33v2.50h-2.33zM901.88 276.24h2.33v2.50h-2.33zM906.33 276.24h9.01v2.50h-9.01zM917.46 276.24h2.33v2.50h-2.33zM761.61 274.04h2.33v2.50h-2.33zM864.02 274.04h2.33v2.50h-2.33zM877.38 274.04h2.33v2.50h-2.33zM886.29 274.04h4.55v2.50h-4.55zM892.97 274.04h2.33v2.50h-2.33zM913.01 274.04h4.55v2.50h-4.55zM921.91 274.04h2.33v2.50h-2.33zM937.50 274.04h4.55v2.50h-4.55zM1066.64 274.04h2.33v2.50h-2.33zM864.02 271.84h2.33v2.50h-2.33zM870.70 271.84h2.33v2.50h-2.33zM881.84 271.84h2.33v2.50h-2.33zM897.42 271.84h2.33v2.50h-2.33zM904.10 271.84h4.55v2.50h-4.55zM921.91 271.84h4.55v2.50h-4.55zM928.59 271.84h2.33v2.50h-2.33zM937.50 271.84h2.33v2.50h-2.33zM859.57 269.64h2.33v2.50h-2.33zM879.61 269.64h2.33v2.50h-2.33zM890.74 269.64h2.33v2.50h-2.33zM904.10 269.64h6.78v2.50h-6.78zM913.01 269.64h11.23v2.50h-11.23zM928.59 269.64h2.33v2.50h-2.33zM933.05 269.64h2.33v2.50h-2.33zM961.99 269.64h4.55v2.50h-4.55zM895.20 267.43h4.55v2.50h-4.55zM904.10 267.43h2.33v2.50h-2.33zM913.01 267.43h2.33v2.50h-2.33zM919.69 267.43h2.33v2.50h-2.33zM924.14 267.43h2.33v2.50h-2.33zM928.59 267.43h4.55v2.50h-4.55zM953.08 267.43h2.33v2.50h-2.33zM1008.75 267.43h2.33v2.50h-2.33zM886.29 265.23h2.33v2.50h-2.33zM895.20 265.23h2.33v2.50h-2.33zM906.33 265.23h2.33v2.50h-2.33zM913.01 265.23h2.33v2.50h-2.33zM917.46 265.23h2.33v2.50h-2.33zM930.82 265.23h2.33v2.50h-2.33zM939.73 265.23h2.33v2.50h-2.33zM957.54 265.23h2.33v2.50h-2.33zM968.67 265.23h2.33v2.50h-2.33zM890.74 263.03h2.33v2.50h-2.33zM897.42 263.03h6.78v2.50h-6.78zM906.33 263.03h6.78v2.50h-6.78zM941.95 263.03h2.33v2.50h-2.33zM739.34 260.83h2.33v2.50h-2.33zM890.74 260.83h2.33v2.50h-2.33zM897.42 260.83h4.55v2.50h-4.55zM908.55 260.83h2.33v2.50h-2.33zM917.46 260.83h4.55v2.50h-4.55zM926.37 260.83h6.78v2.50h-6.78zM935.27 260.83h2.33v2.50h-2.33zM939.73 260.83h2.33v2.50h-2.33zM866.25 258.63h2.33v2.50h-2.33zM879.61 258.63h2.33v2.50h-2.33zM886.29 258.63h2.33v2.50h-2.33zM892.97 258.63h2.33v2.50h-2.33zM897.42 258.63h2.33v2.50h-2.33zM904.10 258.63h2.33v2.50h-2.33zM915.23 258.63h2.33v2.50h-2.33zM919.69 258.63h4.55v2.50h-4.55zM930.82 258.63h6.78v2.50h-6.78zM941.95 258.63h2.33v2.50h-2.33zM946.41 258.63h4.55v2.50h-4.55zM973.12 258.63h2.33v2.50h-2.33zM888.52 256.43h2.33v2.50h-2.33zM892.97 256.43h2.33v2.50h-2.33zM913.01 256.43h2.33v2.50h-2.33zM919.69 256.43h2.33v2.50h-2.33zM935.27 256.43h2.33v2.50h-2.33zM944.18 256.43h2.33v2.50h-2.33zM966.44 256.43h2.33v2.50h-2.33zM881.84 254.23h2.33v2.50h-2.33zM886.29 254.23h2.33v2.50h-2.33zM890.74 254.23h2.33v2.50h-2.33zM901.88 254.23h2.33v2.50h-2.33zM908.55 254.23h2.33v2.50h-2.33zM919.69 254.23h4.55v2.50h-4.55zM926.37 254.23h2.33v2.50h-2.33zM935.27 254.23h2.33v2.50h-2.33zM941.95 254.23h2.33v2.50h-2.33zM955.31 254.23h2.33v2.50h-2.33zM990.94 254.23h2.33v2.50h-2.33zM995.39 254.23h2.33v2.50h-2.33zM884.06 252.03h2.33v2.50h-2.33zM890.74 252.03h4.55v2.50h-4.55zM908.55 252.03h4.55v2.50h-4.55zM919.69 252.03h4.55v2.50h-4.55zM926.37 252.03h9.01v2.50h-9.01zM937.50 252.03h2.33v2.50h-2.33zM948.63 252.03h6.78v2.50h-6.78zM966.44 252.03h2.33v2.50h-2.33zM970.90 252.03h2.33v2.50h-2.33zM703.72 249.83h2.33v2.50h-2.33zM895.20 249.83h2.33v2.50h-2.33zM901.88 249.83h4.55v2.50h-4.55zM913.01 249.83h2.33v2.50h-2.33zM919.69 249.83h13.46v2.50h-13.46zM935.27 249.83h4.55v2.50h-4.55zM944.18 249.83h2.33v2.50h-2.33zM953.08 249.83h4.55v2.50h-4.55zM906.33 247.63h2.33v2.50h-2.33zM919.69 247.63h2.33v2.50h-2.33zM924.14 247.63h6.78v2.50h-6.78zM944.18 247.63h4.55v2.50h-4.55zM950.86 247.63h2.33v2.50h-2.33zM959.76 247.63h2.33v2.50h-2.33zM973.12 247.63h2.33v2.50h-2.33zM908.55 245.42h4.55v2.50h-4.55zM917.46 245.42h4.55v2.50h-4.55zM924.14 245.42h11.23v2.50h-11.23zM939.73 245.42h2.33v2.50h-2.33zM948.63 245.42h2.33v2.50h-2.33zM957.54 245.42h2.33v2.50h-2.33zM973.12 245.42h2.33v2.50h-2.33zM892.97 243.22h2.33v2.50h-2.33zM910.78 243.22h2.33v2.50h-2.33zM924.14 243.22h2.33v2.50h-2.33zM935.27 243.22h2.33v2.50h-2.33zM955.31 243.22h4.55v2.50h-4.55zM999.84 243.22h2.33v2.50h-2.33zM910.78 241.02h2.33v2.50h-2.33zM917.46 241.02h2.33v2.50h-2.33zM926.37 241.02h2.33v2.50h-2.33zM933.05 241.02h2.33v2.50h-2.33zM941.95 241.02h2.33v2.50h-2.33zM950.86 241.02h2.33v2.50h-2.33zM957.54 241.02h2.33v2.50h-2.33zM964.22 241.02h2.33v2.50h-2.33zM899.65 238.82h2.33v2.50h-2.33zM917.46 238.82h2.33v2.50h-2.33zM928.59 238.82h2.33v2.50h-2.33zM935.27 238.82h2.33v2.50h-2.33zM948.63 238.82h2.33v2.50h-2.33zM953.08 238.82h11.23v2.50h-11.23zM973.12 238.82h4.55v2.50h-4.55zM986.48 238.82h2.33v2.50h-2.33zM910.78 236.62h2.33v2.50h-2.33zM915.23 236.62h2.33v2.50h-2.33zM928.59 236.62h4.55v2.50h-4.55zM937.50 236.62h4.55v2.50h-4.55zM959.76 236.62h4.55v2.50h-4.55zM970.90 236.62h2.33v2.50h-2.33zM988.71 236.62h2.33v2.50h-2.33zM901.88 234.42h4.55v2.50h-4.55zM944.18 234.42h2.33v2.50h-2.33zM950.86 234.42h2.33v2.50h-2.33zM957.54 234.42h2.33v2.50h-2.33zM964.22 234.42h4.55v2.50h-4.55zM975.35 234.42h2.33v2.50h-2.33zM739.34 232.22h2.33v2.50h-2.33zM743.79 232.22h2.33v2.50h-2.33zM919.69 232.22h6.78v2.50h-6.78zM928.59 232.22h2.33v2.50h-2.33zM933.05 232.22h4.55v2.50h-4.55zM941.95 232.22h2.33v2.50h-2.33zM968.67 232.22h2.33v2.50h-2.33zM886.29 230.02h2.33v2.50h-2.33zM904.10 230.02h2.33v2.50h-2.33zM937.50 230.02h2.33v2.50h-2.33zM948.63 230.02h6.78v2.50h-6.78zM961.99 230.02h2.33v2.50h-2.33zM975.35 230.02h2.33v2.50h-2.33zM761.61 227.82h2.33v2.50h-2.33zM908.55 227.82h2.33v2.50h-2.33zM926.37 227.82h2.33v2.50h-2.33zM941.95 227.82h2.33v2.50h-2.33zM946.41 227.82h2.33v2.50h-2.33zM957.54 227.82h2.33v2.50h-2.33zM970.90 227.82h2.33v2.50h-2.33zM979.80 227.82h2.33v2.50h-2.33zM990.94 227.82h2.33v2.50h-2.33zM897.42 225.62h2.33v2.50h-2.33zM917.46 225.62h2.33v2.50h-2.33zM924.14 225.62h2.33v2.50h-2.33zM939.73 225.62h2.33v2.50h-2.33zM955.31 225.62h2.33v2.50h-2.33zM975.35 225.62h2.33v2.50h-2.33zM982.03 225.62h2.33v2.50h-2.33zM997.61 225.62h2.33v2.50h-2.33zM1002.07 225.62h2.33v2.50h-2.33zM1031.01 225.62h2.33v2.50h-2.33zM875.16 223.41h2.33v2.50h-2.33zM919.69 223.41h2.33v2.50h-2.33zM924.14 223.41h2.33v2.50h-2.33zM933.05 223.41h2.33v2.50h-2.33zM970.90 223.41h2.33v2.50h-2.33zM975.35 223.41h4.55v2.50h-4.55zM990.94 223.41h2.33v2.50h-2.33zM1017.65 223.41h2.33v2.50h-2.33zM841.76 221.21h2.33v2.50h-2.33zM910.78 221.21h2.33v2.50h-2.33zM935.27 221.21h2.33v2.50h-2.33zM950.86 221.21h4.55v2.50h-4.55zM961.99 221.21h2.33v2.50h-2.33zM973.12 221.21h6.78v2.50h-6.78zM986.48 221.21h2.33v2.50h-2.33zM1008.75 221.21h2.33v2.50h-2.33zM926.37 219.01h4.55v2.50h-4.55zM939.73 219.01h2.33v2.50h-2.33zM959.76 219.01h2.33v2.50h-2.33zM964.22 219.01h4.55v2.50h-4.55zM988.71 219.01h2.33v2.50h-2.33zM895.20 216.81h2.33v2.50h-2.33zM939.73 216.81h4.55v2.50h-4.55zM953.08 216.81h4.55v2.50h-4.55zM964.22 216.81h2.33v2.50h-2.33zM1004.29 216.81h2.33v2.50h-2.33zM935.27 214.61h2.33v2.50h-2.33zM944.18 214.61h2.33v2.50h-2.33zM950.86 214.61h2.33v2.50h-2.33zM966.44 214.61h2.33v2.50h-2.33zM977.58 214.61h2.33v2.50h-2.33zM988.71 214.61h2.33v2.50h-2.33zM950.86 212.41h2.33v2.50h-2.33zM955.31 212.41h2.33v2.50h-2.33zM959.76 212.41h2.33v2.50h-2.33zM968.67 212.41h4.55v2.50h-4.55zM975.35 212.41h2.33v2.50h-2.33zM984.26 212.41h2.33v2.50h-2.33zM995.39 212.41h2.33v2.50h-2.33zM1010.97 212.41h2.33v2.50h-2.33zM928.59 210.21h2.33v2.50h-2.33zM946.41 210.21h2.33v2.50h-2.33zM959.76 210.21h2.33v2.50h-2.33zM1002.07 210.21h2.33v2.50h-2.33zM948.63 208.01h4.55v2.50h-4.55zM957.54 208.01h2.33v2.50h-2.33zM979.80 208.01h4.55v2.50h-4.55zM999.84 208.01h2.33v2.50h-2.33zM961.99 205.81h2.33v2.50h-2.33zM1010.97 205.81h4.55v2.50h-4.55zM966.44 203.61h2.33v2.50h-2.33zM973.12 203.61h2.33v2.50h-2.33zM984.26 203.61h2.33v2.50h-2.33zM988.71 203.61h2.33v2.50h-2.33zM995.39 203.61h2.33v2.50h-2.33zM999.84 203.61h2.33v2.50h-2.33zM1071.09 203.61h2.33v2.50h-2.33zM928.59 201.40h2.33v2.50h-2.33zM939.73 201.40h2.33v2.50h-2.33zM946.41 201.40h2.33v2.50h-2.33zM975.35 201.40h2.33v2.50h-2.33zM993.16 201.40h2.33v2.50h-2.33zM950.86 199.20h2.33v2.50h-2.33zM957.54 199.20h2.33v2.50h-2.33zM975.35 199.20h2.33v2.50h-2.33zM993.16 199.20h4.55v2.50h-4.55zM1008.75 199.20h2.33v2.50h-2.33zM966.44 197.00h4.55v2.50h-4.55zM979.80 197.00h4.55v2.50h-4.55zM988.71 197.00h2.33v2.50h-2.33zM999.84 197.00h2.33v2.50h-2.33zM953.08 194.80h2.33v2.50h-2.33zM982.03 194.80h4.55v2.50h-4.55zM988.71 194.80h2.33v2.50h-2.33zM995.39 194.80h2.33v2.50h-2.33zM1035.47 194.80h2.33v2.50h-2.33zM892.97 192.60h2.33v2.50h-2.33zM930.82 192.60h2.33v2.50h-2.33zM939.73 192.60h2.33v2.50h-2.33zM968.67 192.60h2.33v2.50h-2.33zM990.94 192.60h2.33v2.50h-2.33zM968.67 190.40h2.33v2.50h-2.33zM993.16 190.40h2.33v2.50h-2.33zM997.61 190.40h4.55v2.50h-4.55zM1006.52 190.40h4.55v2.50h-4.55zM944.18 188.20h2.33v2.50h-2.33zM973.12 188.20h2.33v2.50h-2.33zM995.39 188.20h2.33v2.50h-2.33zM1008.75 188.20h2.33v2.50h-2.33zM1026.56 188.20h2.33v2.50h-2.33zM1062.18 188.20h2.33v2.50h-2.33zM968.67 186.00h2.33v2.50h-2.33zM973.12 183.80h2.33v2.50h-2.33zM982.03 183.80h2.33v2.50h-2.33zM990.94 183.80h2.33v2.50h-2.33zM999.84 183.80h2.33v2.50h-2.33zM1010.97 183.80h2.33v2.50h-2.33zM1017.65 183.80h2.33v2.50h-2.33zM961.99 181.60h2.33v2.50h-2.33zM968.67 181.60h2.33v2.50h-2.33zM975.35 181.60h4.55v2.50h-4.55zM986.48 181.60h4.55v2.50h-4.55zM999.84 181.60h2.33v2.50h-2.33zM1006.52 181.60h2.33v2.50h-2.33zM1017.65 181.60h2.33v2.50h-2.33zM1022.11 181.60h2.33v2.50h-2.33zM1026.56 181.60h2.33v2.50h-2.33zM921.91 179.39h2.33v2.50h-2.33zM997.61 179.39h2.33v2.50h-2.33zM1004.29 179.39h2.33v2.50h-2.33zM1031.01 179.39h2.33v2.50h-2.33zM984.26 177.19h2.33v2.50h-2.33zM993.16 177.19h2.33v2.50h-2.33zM1033.24 177.19h2.33v2.50h-2.33zM1046.60 177.19h2.33v2.50h-2.33zM1006.52 174.99h2.33v2.50h-2.33zM1013.20 174.99h2.33v2.50h-2.33zM1022.11 174.99h2.33v2.50h-2.33zM1035.47 174.99h2.33v2.50h-2.33zM970.90 172.79h2.33v2.50h-2.33zM999.84 172.79h2.33v2.50h-2.33zM1004.29 172.79h2.33v2.50h-2.33zM1026.56 172.79h2.33v2.50h-2.33zM1042.14 172.79h2.33v2.50h-2.33zM1002.07 170.59h2.33v2.50h-2.33zM1035.47 170.59h2.33v2.50h-2.33zM982.03 168.39h2.33v2.50h-2.33zM999.84 168.39h4.55v2.50h-4.55zM964.22 166.19h2.33v2.50h-2.33zM990.94 166.19h2.33v2.50h-2.33zM1004.29 166.19h2.33v2.50h-2.33zM1017.65 166.19h2.33v2.50h-2.33zM1022.11 166.19h2.33v2.50h-2.33zM1026.56 166.19h2.33v2.50h-2.33zM986.48 163.99h2.33v2.50h-2.33zM993.16 163.99h2.33v2.50h-2.33zM1002.07 163.99h2.33v2.50h-2.33zM1022.11 163.99h2.33v2.50h-2.33zM1031.01 163.99h2.33v2.50h-2.33zM1004.29 161.79h2.33v2.50h-2.33zM1033.24 161.79h2.33v2.50h-2.33zM1044.37 161.79h2.33v2.50h-2.33zM1053.28 161.79h2.33v2.50h-2.33zM1068.86 161.79h2.33v2.50h-2.33zM970.90 159.59h2.33v2.50h-2.33zM1006.52 159.59h2.33v2.50h-2.33zM1013.20 159.59h2.33v2.50h-2.33zM1024.33 159.59h2.33v2.50h-2.33zM1031.01 159.59h2.33v2.50h-2.33zM1044.37 159.59h2.33v2.50h-2.33zM1066.64 159.59h2.33v2.50h-2.33zM1017.65 157.38h4.55v2.50h-4.55zM1033.24 157.38h4.55v2.50h-4.55zM1053.28 157.38h2.33v2.50h-2.33zM1059.96 157.38h2.33v2.50h-2.33zM781.64 155.18h2.33v2.50h-2.33zM1024.33 155.18h2.33v2.50h-2.33zM1039.92 155.18h2.33v2.50h-2.33zM957.54 152.98h2.33v2.50h-2.33zM982.03 152.98h2.33v2.50h-2.33zM1062.18 152.98h2.33v2.50h-2.33zM1077.77 152.98h2.33v2.50h-2.33zM995.39 150.78h4.55v2.50h-4.55zM1035.47 150.78h2.33v2.50h-2.33zM1048.82 150.78h2.33v2.50h-2.33zM1006.52 148.58h2.33v2.50h-2.33zM1026.56 148.58h2.33v2.50h-2.33zM1033.24 148.58h2.33v2.50h-2.33zM1042.14 148.58h2.33v2.50h-2.33zM1059.96 148.58h2.33v2.50h-2.33zM1068.86 148.58h2.33v2.50h-2.33zM950.86 146.38h2.33v2.50h-2.33zM984.26 146.38h2.33v2.50h-2.33zM993.16 146.38h2.33v2.50h-2.33zM1033.24 146.38h2.33v2.50h-2.33zM1042.14 146.38h2.33v2.50h-2.33zM1046.60 146.38h2.33v2.50h-2.33zM1104.49 146.38h2.33v2.50h-2.33zM1006.52 144.18h2.33v2.50h-2.33zM1026.56 144.18h2.33v2.50h-2.33zM1037.69 141.98h2.33v2.50h-2.33zM1053.28 141.98h2.33v2.50h-2.33zM1010.97 139.78h2.33v2.50h-2.33zM1035.47 139.78h2.33v2.50h-2.33zM1042.14 139.78h2.33v2.50h-2.33zM1051.05 139.78h2.33v2.50h-2.33zM1055.50 139.78h2.33v2.50h-2.33zM1064.41 139.78h2.33v2.50h-2.33zM970.90 137.58h2.33v2.50h-2.33zM1026.56 137.58h2.33v2.50h-2.33zM1042.14 137.58h4.55v2.50h-4.55zM1039.92 135.37h4.55v2.50h-4.55zM1048.82 135.37h4.55v2.50h-4.55zM1064.41 135.37h2.33v2.50h-2.33zM1068.86 135.37h2.33v2.50h-2.33zM1073.32 135.37h2.33v2.50h-2.33zM1042.14 133.17h2.33v2.50h-2.33zM1057.73 133.17h2.33v2.50h-2.33zM1066.64 133.17h2.33v2.50h-2.33zM1028.79 130.97h2.33v2.50h-2.33zM1037.69 130.97h2.33v2.50h-2.33zM1059.96 130.97h2.33v2.50h-2.33zM1071.09 130.97h2.33v2.50h-2.33zM1031.01 128.77h2.33v2.50h-2.33zM1039.92 128.77h2.33v2.50h-2.33zM1046.60 128.77h2.33v2.50h-2.33zM1053.28 128.77h2.33v2.50h-2.33zM1073.32 128.77h2.33v2.50h-2.33zM1042.14 126.57h2.33v2.50h-2.33zM1053.28 126.57h2.33v2.50h-2.33zM1084.45 126.57h2.33v2.50h-2.33zM1048.82 122.17h4.55v2.50h-4.55zM1055.50 122.17h2.33v2.50h-2.33zM1062.18 122.17h2.33v2.50h-2.33zM1077.77 119.97h2.33v2.50h-2.33zM1024.33 117.77h2.33v2.50h-2.33zM1064.41 117.77h2.33v2.50h-2.33zM1068.86 117.77h2.33v2.50h-2.33zM1075.54 117.77h4.55v2.50h-4.55zM1102.26 117.77h2.33v2.50h-2.33zM1026.56 115.57h2.33v2.50h-2.33zM1042.14 115.57h2.33v2.50h-2.33zM1057.73 115.57h2.33v2.50h-2.33zM1035.47 113.36h2.33v2.50h-2.33zM1059.96 113.36h2.33v2.50h-2.33zM1073.32 113.36h2.33v2.50h-2.33zM1077.77 113.36h2.33v2.50h-2.33zM1082.22 113.36h2.33v2.50h-2.33zM1075.54 111.16h2.33v2.50h-2.33zM1031.01 108.96h2.33v2.50h-2.33zM1071.09 108.96h2.33v2.50h-2.33zM1082.22 108.96h2.33v2.50h-2.33zM1033.24 106.76h2.33v2.50h-2.33zM1053.28 106.76h2.33v2.50h-2.33zM1073.32 106.76h4.55v2.50h-4.55zM1086.67 106.76h2.33v2.50h-2.33zM1084.45 104.56h2.33v2.50h-2.33zM1095.58 104.56h4.55v2.50h-4.55zM1037.69 102.36h2.33v2.50h-2.33zM1066.64 102.36h2.33v2.50h-2.33zM1044.37 100.16h2.33v2.50h-2.33zM1075.54 100.16h2.33v2.50h-2.33zM1053.28 97.96h2.33v2.50h-2.33zM1062.18 97.96h4.55v2.50h-4.55zM1064.41 93.56h2.33v2.50h-2.33zM1106.71 91.35h2.33v2.50h-2.33zM1057.73 89.15h2.33v2.50h-2.33zM1091.13 89.15h2.33v2.50h-2.33zM1042.14 86.95h2.33v2.50h-2.33zM1095.58 86.95h2.33v2.50h-2.33zM1026.56 84.75h2.33v2.50h-2.33zM1068.86 82.55h2.33v2.50h-2.33zM1082.22 82.55h2.33v2.50h-2.33zM1044.37 80.35h2.33v2.50h-2.33zM1093.35 80.35h2.33v2.50h-2.33zM1102.26 80.35h4.55v2.50h-4.55zM852.89 78.15h2.33v2.50h-2.33zM1104.49 78.15h2.33v2.50h-2.33z" fill="#0a0a0a"/>
</g>
<rect x="655.0" y="73.0" width="457.8" height="453.4" fill="none" stroke="#0d0d0d" stroke-width="2.2"/>
<line x1="771.1" y1="526.4" x2="771.1" y2="532.4" stroke="#111" stroke-width="1.6"/>
<text transform="translate(771.1 556.2) scale(1.12 1)" font-size="21.40" text-anchor="middle">50</text>
<line x1="892.1" y1="526.4" x2="892.1" y2="532.4" stroke="#111" stroke-width="1.6"/>
<text transform="translate(892.1 556.2) scale(1.12 1)" font-size="21.40" text-anchor="middle">100</text>
<line x1="994.6" y1="526.4" x2="994.6" y2="532.4" stroke="#111" stroke-width="1.6"/>
<text transform="translate(994.6 556.2) scale(1.12 1)" font-size="21.40" text-anchor="middle">150</text>
<line x1="1105.6" y1="526.4" x2="1105.6" y2="532.4" stroke="#111" stroke-width="1.6"/>
<text transform="translate(1105.6 556.2) scale(1.12 1)" font-size="21.40" text-anchor="middle">200</text>
<line x1="649.0" y1="81.6" x2="655.0" y2="81.6" stroke="#111" stroke-width="1.6"/>
<text transform="translate(642.2 88.8) scale(1.12 1)" font-size="21.40" text-anchor="end">200</text>
<line x1="649.0" y1="189.8" x2="655.0" y2="189.8" stroke="#111" stroke-width="1.6"/>
<text transform="translate(642.2 197.0) scale(1.12 1)" font-size="21.40" text-anchor="end">150</text>
<line x1="649.0" y1="302.3" x2="655.0" y2="302.3" stroke="#111" stroke-width="1.6"/>
<text transform="translate(642.2 309.5) scale(1.12 1)" font-size="21.40" text-anchor="end">100</text>
<line x1="649.0" y1="412.5" x2="655.0" y2="412.5" stroke="#111" stroke-width="1.6"/>
<text transform="translate(642.2 419.7) scale(1.12 1)" font-size="21.40" text-anchor="end">50</text>
<line x1="649.0" y1="519.0" x2="655.0" y2="519.0" stroke="#111" stroke-width="1.6"/>
<text transform="translate(642.2 526.2) scale(1.12 1)" font-size="21.40" text-anchor="end">0</text>
<text x="784.0" y="592.3" font-size="27.40">Plus strand reads</text>
<text x="593.0" y="292.5" font-size="27.40" text-anchor="middle" transform="rotate(-90 593.0 292.5)">Minus strand reads</text>
<text x="1148.6" y="298.2" font-size="23.40" text-anchor="middle" transform="rotate(-90 1148.6 298.2)">Strand bias p value</text>
<linearGradient id="cbg" x1="0" y1="1" x2="0" y2="0"><stop offset="0" stop-color="#fff"/><stop offset="0.08" stop-color="#fff"/><stop offset="0.30" stop-color="#ffcfc4"/><stop offset="0.52" stop-color="#ff9e8c"/><stop offset="0.74" stop-color="#fc6957"/><stop offset="0.95" stop-color="#ed1c24"/><stop offset="1" stop-color="#ed1c24"/></linearGradient>
<rect x="1161.5" y="229.5" width="28.5" height="144.5" fill="url(#cbg)" stroke="#111" stroke-width="1.4"/>
<text x="1198.0" y="236.9" font-size="14.00">5</text>
<text x="1198.0" y="277.2" font-size="14.00">4</text>
<text x="1198.0" y="317.5" font-size="14.00">3</text>
<text x="1198.0" y="363.9" font-size="14.00">2</text>
</g>
<g id="pc">
<text x="1252.4" y="32.8" font-size="30.80" font-weight="bold">c</text>
<line x1="1365.4" y1="80.0" x2="1365.4" y2="567.6" stroke="#111" stroke-width="1.6"/>
<line x1="1364.6" y1="566.9" x2="1484.5" y2="566.9" stroke="#111" stroke-width="1.6"/>
<line x1="1359.9" y1="102.6" x2="1365.4" y2="102.6" stroke="#111" stroke-width="1.6"/>
<text x="1331.8" y="113.2" font-size="22.20" text-anchor="middle">100%</text>
<line x1="1359.9" y1="226.1" x2="1365.4" y2="226.1" stroke="#111" stroke-width="1.6"/>
<text x="1331.8" y="236.7" font-size="22.20" text-anchor="middle">90%</text>
<line x1="1359.9" y1="349.1" x2="1365.4" y2="349.1" stroke="#111" stroke-width="1.6"/>
<text x="1331.8" y="359.7" font-size="22.20" text-anchor="middle">80%</text>
<line x1="1359.9" y1="472.6" x2="1365.4" y2="472.6" stroke="#111" stroke-width="1.6"/>
<text x="1331.8" y="483.2" font-size="22.20" text-anchor="middle">70%</text>
<text x="1362.3" y="596.8" font-size="27.30">All bases</text>
<text x="1255.3" y="483.0" font-size="27.30" transform="rotate(-90 1255.3 483.0)">% bases overlapped by</text>
<text x="1289.1" y="483.5" font-size="27.30" transform="rotate(-90 1289.1 483.5)">paired-end seqiencing</text>
<line x1="1417.7" y1="100.4" x2="1417.7" y2="171.3" stroke="#222" stroke-width="1.3"/>
<line x1="1417.7" y1="207.4" x2="1417.7" y2="262.0" stroke="#444" stroke-width="0.9"/>
<rect x="1373.3" y="171.3" width="88.9" height="36.1" fill="#fff" stroke="#222" stroke-width="1.3"/>
<line x1="1373.3" y1="187.3" x2="1462.2" y2="187.3" stroke="#222" stroke-width="1.5"/>
<g stroke="#2a2a2a" stroke-width="3" stroke-linecap="round">
<line x1="1417.7" y1="101.5" x2="1417.7" y2="117.5"/>
<line x1="1417.7" y1="261" x2="1417.7" y2="392.5"/>
<line x1="1417.7" y1="402.5" x2="1417.7" y2="411.8"/>
<line x1="1417.7" y1="421" x2="1417.7" y2="425"/>
<line x1="1417.7" y1="432" x2="1417.7" y2="443"/>
<line x1="1417.7" y1="445.5" x2="1417.7" y2="457.4"/>
<line x1="1417.7" y1="475.5" x2="1417.7" y2="480"/>
<line x1="1417.7" y1="497.5" x2="1417.7" y2="502"/>
<line x1="1417.7" y1="523" x2="1417.7" y2="525.5"/>
<line x1="1417.7" y1="528.5" x2="1417.7" y2="531"/>
<line x1="1417.7" y1="543" x2="1417.7" y2="546.2"/>
</g>
</g>
<g id="pd">
<text x="1518.4" y="35.4" font-size="31.50" font-weight="bold">d</text>
<g fill="#595959" stroke="#2b2b2b" stroke-width="0.8">
<rect x="1606.1" y="143.0" width="13.55" height="22.0"/>
<rect x="1619.6" y="134.3" width="13.55" height="30.7"/>
<rect x="1633.2" y="129.1" width="13.55" height="35.9"/>
<rect x="1646.8" y="94.9" width="13.55" height="70.1"/>
<rect x="1660.3" y="106.4" width="13.55" height="58.6"/>
<rect x="1673.8" y="118.1" width="13.55" height="46.9"/>
<rect x="1687.4" y="101.5" width="13.55" height="63.5"/>
<rect x="1700.9" y="133.5" width="13.55" height="31.5"/>
<rect x="1714.5" y="143.0" width="13.55" height="22.0"/>
<rect x="1728.0" y="150.8" width="13.55" height="14.2"/>
<rect x="1741.6" y="156.7" width="13.55" height="8.3"/>
<rect x="1755.1" y="159.2" width="13.55" height="5.8"/>
<rect x="1768.7" y="160.3" width="13.55" height="4.7"/>
<rect x="1782.2" y="160.9" width="13.55" height="4.1"/>
<rect x="1795.8" y="162.2" width="13.55" height="2.8"/>
<rect x="1809.3" y="163.4" width="13.55" height="1.6"/>
<rect x="1822.9" y="163.9" width="13.55" height="1.1"/>
<rect x="1983.9" y="161.7" width="13.7" height="3.3"/>
</g>
<line x1="1836.4" y1="164.7" x2="1997.6" y2="164.7" stroke="#333" stroke-width="1.0"/>
<g fill="#595959" stroke="#2b2b2b" stroke-width="0.8">
<rect x="2020.6" y="523.9" width="78.4" height="12.03"/>
<rect x="2020.6" y="499.8" width="33.2" height="12.03"/>
<rect x="2020.6" y="487.8" width="27.5" height="12.03"/>
<rect x="2020.6" y="463.7" width="20.2" height="12.03"/>
<rect x="2020.6" y="451.7" width="30.0" height="12.03"/>
<rect x="2020.6" y="439.7" width="12.6" height="12.03"/>
<rect x="2020.6" y="427.6" width="20.6" height="12.03"/>
<rect x="2020.6" y="415.6" width="17.2" height="12.03"/>
<rect x="2020.6" y="403.6" width="13.7" height="12.03"/>
<rect x="2020.6" y="391.5" width="16.8" height="12.03"/>
<rect x="2020.6" y="379.5" width="18.7" height="12.03"/>
<rect x="2020.6" y="367.5" width="11.6" height="12.03"/>
<rect x="2020.6" y="355.4" width="11.6" height="12.03"/>
<rect x="2020.6" y="343.4" width="9.9" height="12.03"/>
<rect x="2020.6" y="331.4" width="7.0" height="12.03"/>
<rect x="2020.6" y="319.4" width="6.3" height="12.03"/>
<rect x="2020.6" y="307.3" width="3.8" height="12.03"/>
<rect x="2020.6" y="295.3" width="2.1" height="12.03"/>
<rect x="2020.6" y="283.3" width="1.3" height="12.03"/>
<rect x="2020.6" y="271.2" width="0.6" height="12.03"/>
</g>
<line x1="2020.6" y1="186.2" x2="2020.6" y2="535.9" stroke="#555" stroke-width="0.9"/>
<line x1="1587.6" y1="168.7" x2="1587.6" y2="553.7" stroke="#111" stroke-width="1.6"/>
<line x1="1586.8" y1="552.9" x2="2016.4" y2="552.9" stroke="#111" stroke-width="1.6"/>
<line x1="1582.6" y1="236.8" x2="1587.6" y2="236.8" stroke="#111" stroke-width="1.6"/>
<text x="1575.6" y="245.8" font-size="22.20" text-anchor="end">181</text>
<line x1="1582.6" y1="351.3" x2="1587.6" y2="351.3" stroke="#111" stroke-width="1.6"/>
<text x="1575.6" y="360.3" font-size="22.20" text-anchor="end">32</text>
<line x1="1582.6" y1="465.8" x2="1587.6" y2="465.8" stroke="#111" stroke-width="1.6"/>
<text x="1575.6" y="474.8" font-size="22.20" text-anchor="end">6</text>
<line x1="1656.9" y1="552.9" x2="1656.9" y2="557.9" stroke="#111" stroke-width="1.6"/>
<text x="1656.7" y="581.4" font-size="22.20" text-anchor="middle">6</text>
<line x1="1741.1" y1="552.9" x2="1741.1" y2="557.9" stroke="#111" stroke-width="1.6"/>
<text x="1747.8" y="581.4" font-size="22.20" text-anchor="middle">32</text>
<line x1="1825.3" y1="552.9" x2="1825.3" y2="557.9" stroke="#111" stroke-width="1.6"/>
<text x="1834.0" y="581.4" font-size="22.20" text-anchor="middle">181</text>
<line x1="1909.6" y1="552.9" x2="1909.6" y2="557.9" stroke="#111" stroke-width="1.6"/>
<text x="1925.8" y="581.4" font-size="22.20" text-anchor="middle">1024</text>
<text x="1535.3" y="352.1" font-size="27.40" text-anchor="middle" transform="rotate(-90 1535.3 352.1)">Max variant allele counts per cell</text>
<text x="1597.1" y="614.8" font-size="27.40"># cells carrying a given mutation</text>
<text x="1728.1" y="647.2" font-size="27.40">(Log scale)</text>
<text x="1598.6" y="196.2" font-size="23.45">4803 heteroplasmic mutations</text>
<text x="1598.6" y="227.2" font-size="23.45">28 homoplasmic mutations</text>
<circle cx="1929.0" cy="188.5" r="9.8" fill="#0a0a0a"/>
<circle cx="1896.9" cy="220.2" r="9.8" fill="#c9c9c9"/>
<path d="M1606.4 534.6h0M1606.4 507.8h0M1606.4 488.8h0M1606.4 474.0h0M1606.4 461.9h0M1606.4 451.8h0M1606.4 442.9h0M1606.4 435.1h0M1606.4 428.2h0M1606.4 421.9h0M1606.4 416.1h0M1606.4 410.8h0M1606.4 405.9h0M1606.4 401.4h0M1606.4 397.1h0M1606.4 393.1h0M1606.4 389.3h0M1606.4 385.8h0M1606.4 382.4h0M1606.4 379.1h0M1606.4 376.1h0M1606.4 370.3h0M1606.4 367.6h0M1606.4 365.0h0M1606.4 362.5h0M1606.4 355.6h0M1606.4 353.4h0M1606.4 351.3h0M1606.4 338.2h0M1606.4 336.6h0M1606.4 333.3h0M1606.4 331.8h0M1606.4 330.3h0M1606.4 328.8h0M1606.4 327.3h0M1606.4 325.9h0M1606.4 316.7h0M1606.4 313.1h0M1606.4 312.0h0M1606.4 291.6h0M1606.4 290.7h0M1626.1 534.6h0M1626.1 507.8h0M1626.1 488.8h0M1626.1 474.0h0M1626.1 461.9h0M1626.1 451.8h0M1626.1 442.9h0M1626.1 435.1h0M1626.1 428.2h0M1626.1 421.9h0M1626.1 416.1h0M1626.1 410.8h0M1626.1 405.9h0M1626.1 401.4h0M1626.1 397.1h0M1626.1 393.1h0M1626.1 389.3h0M1626.1 385.8h0M1626.1 382.4h0M1626.1 379.1h0M1626.1 376.1h0M1626.1 370.3h0M1626.1 367.6h0M1626.1 365.0h0M1626.1 362.5h0M1626.1 353.4h0M1626.1 351.3h0M1626.1 349.3h0M1626.1 343.5h0M1626.1 341.7h0M1626.1 338.2h0M1626.1 333.3h0M1626.1 331.8h0M1626.1 323.1h0M1626.1 321.8h0M1626.1 319.2h0M1626.1 314.3h0M1626.1 313.1h0M1626.1 310.9h0M1626.1 305.5h0M1626.1 304.5h0M1626.1 300.5h0M1626.1 293.3h0M1626.1 291.6h0M1626.1 268.5h0M1640.1 534.6h0M1640.1 507.8h0M1640.1 488.8h0M1640.1 474.0h0M1640.1 461.9h0M1640.1 451.8h0M1640.1 442.9h0M1640.1 435.1h0M1640.1 428.2h0M1640.1 421.9h0M1640.1 416.1h0M1640.1 410.8h0M1640.1 405.9h0M1640.1 401.4h0M1640.1 397.1h0M1640.1 393.1h0M1640.1 389.3h0M1640.1 385.8h0M1640.1 382.4h0M1640.1 379.1h0M1640.1 376.1h0M1640.1 373.1h0M1640.1 367.6h0M1640.1 362.5h0M1640.1 360.1h0M1640.1 357.8h0M1640.1 355.6h0M1640.1 349.3h0M1640.1 347.3h0M1640.1 339.9h0M1640.1 338.2h0M1640.1 336.6h0M1640.1 334.9h0M1640.1 330.3h0M1640.1 328.8h0M1640.1 324.5h0M1640.1 323.1h0M1640.1 321.8h0M1640.1 319.2h0M1640.1 317.9h0M1640.1 315.5h0M1640.1 313.1h0M1640.1 312.0h0M1640.1 305.5h0M1640.1 301.5h0M1640.1 300.5h0M1640.1 293.3h0M1650.9 534.6h0M1650.9 507.8h0M1650.9 488.8h0M1650.9 474.0h0M1650.9 461.9h0M1650.9 451.8h0M1650.9 442.9h0M1650.9 435.1h0M1650.9 428.2h0M1650.9 421.9h0M1650.9 416.1h0M1650.9 410.8h0M1650.9 405.9h0M1650.9 401.4h0M1650.9 397.1h0M1650.9 393.1h0M1650.9 389.3h0M1650.9 385.8h0M1650.9 382.4h0M1650.9 379.1h0M1650.9 376.1h0M1650.9 373.1h0M1650.9 365.0h0M1650.9 362.5h0M1650.9 357.8h0M1650.9 353.4h0M1650.9 351.3h0M1650.9 349.3h0M1650.9 345.4h0M1650.9 343.5h0M1650.9 341.7h0M1650.9 339.9h0M1650.9 336.6h0M1650.9 333.3h0M1650.9 330.3h0M1650.9 327.3h0M1650.9 324.5h0M1650.9 323.1h0M1650.9 319.2h0M1650.9 316.7h0M1650.9 315.5h0M1650.9 312.0h0M1650.9 310.9h0M1650.9 303.4h0M1650.9 301.5h0M1650.9 290.7h0M1650.9 289.9h0M1650.9 282.9h0M1650.9 274.7h0M1659.8 534.6h0M1659.8 507.8h0M1659.8 488.8h0M1659.8 474.0h0M1659.8 461.9h0M1659.8 451.8h0M1659.8 442.9h0M1659.8 435.1h0M1659.8 428.2h0M1659.8 421.9h0M1659.8 416.1h0M1659.8 410.8h0M1659.8 405.9h0M1659.8 401.4h0M1659.8 397.1h0M1659.8 393.1h0M1659.8 389.3h0M1659.8 385.8h0M1659.8 382.4h0M1659.8 379.1h0M1659.8 376.1h0M1659.8 370.3h0M1659.8 367.6h0M1659.8 365.0h0M1659.8 362.5h0M1659.8 360.1h0M1659.8 355.6h0M1659.8 353.4h0M1659.8 351.3h0M1659.8 347.3h0M1659.8 343.5h0M1659.8 341.7h0M1659.8 338.2h0M1659.8 333.3h0M1659.8 331.8h0M1659.8 330.3h0M1659.8 328.8h0M1659.8 327.3h0M1659.8 325.9h0M1659.8 324.5h0M1659.8 321.8h0M1659.8 320.5h0M1659.8 319.2h0M1659.8 317.9h0M1659.8 316.7h0M1659.8 313.1h0M1659.8 308.7h0M1659.8 307.6h0M1659.8 305.5h0M1659.8 293.3h0M1659.8 269.1h0M1667.3 534.6h0M1667.3 507.8h0M1667.3 488.8h0M1667.3 474.0h0M1667.3 461.9h0M1667.3 451.8h0M1667.3 442.9h0M1667.3 435.1h0M1667.3 428.2h0M1667.3 421.9h0M1667.3 416.1h0M1667.3 410.8h0M1667.3 405.9h0M1667.3 401.4h0M1667.3 397.1h0M1667.3 393.1h0M1667.3 389.3h0M1667.3 385.8h0M1667.3 382.4h0M1667.3 379.1h0M1667.3 376.1h0M1667.3 373.1h0M1667.3 370.3h0M1667.3 367.6h0M1667.3 362.5h0M1667.3 360.1h0M1667.3 357.8h0M1667.3 355.6h0M1667.3 353.4h0M1667.3 351.3h0M1667.3 347.3h0M1667.3 345.4h0M1667.3 343.5h0M1667.3 341.7h0M1667.3 339.9h0M1667.3 338.2h0M1667.3 330.3h0M1667.3 328.8h0M1667.3 327.3h0M1667.3 325.9h0M1667.3 323.1h0M1667.3 319.2h0M1667.3 317.9h0M1667.3 315.5h0M1667.3 313.1h0M1667.3 312.0h0M1667.3 310.9h0M1667.3 309.7h0M1667.3 307.6h0M1667.3 306.5h0M1667.3 304.5h0M1667.3 298.6h0M1667.3 297.7h0M1667.3 295.9h0M1667.3 295.0h0M1667.3 294.1h0M1667.3 276.0h0M1667.3 269.7h0M1673.7 534.6h0M1673.7 507.8h0M1673.7 488.8h0M1673.7 474.0h0M1673.7 461.9h0M1673.7 451.8h0M1673.7 442.9h0M1673.7 435.1h0M1673.7 428.2h0M1673.7 421.9h0M1673.7 416.1h0M1673.7 410.8h0M1673.7 405.9h0M1673.7 401.4h0M1673.7 397.1h0M1673.7 393.1h0M1673.7 389.3h0M1673.7 385.8h0M1673.7 382.4h0M1673.7 379.1h0M1673.7 376.1h0M1673.7 367.6h0M1673.7 362.5h0M1673.7 360.1h0M1673.7 357.8h0M1673.7 355.6h0M1673.7 349.3h0M1673.7 347.3h0M1673.7 343.5h0M1673.7 339.9h0M1673.7 338.2h0M1673.7 336.6h0M1673.7 334.9h0M1673.7 333.3h0M1673.7 330.3h0M1673.7 328.8h0M1673.7 323.1h0M1673.7 319.2h0M1673.7 316.7h0M1673.7 315.5h0M1673.7 314.3h0M1673.7 307.6h0M1673.7 304.5h0M1673.7 301.5h0M1673.7 294.1h0M1673.7 293.3h0M1673.7 272.8h0M1679.5 534.6h0M1679.5 507.8h0M1679.5 488.8h0M1679.5 474.0h0M1679.5 461.9h0M1679.5 451.8h0M1679.5 442.9h0M1679.5 435.1h0M1679.5 428.2h0M1679.5 421.9h0M1679.5 416.1h0M1679.5 410.8h0M1679.5 405.9h0M1679.5 401.4h0M1679.5 397.1h0M1679.5 393.1h0M1679.5 389.3h0M1679.5 385.8h0M1679.5 382.4h0M1679.5 379.1h0M1679.5 376.1h0M1679.5 373.1h0M1679.5 365.0h0M1679.5 362.5h0M1679.5 360.1h0M1679.5 355.6h0M1679.5 349.3h0M1679.5 347.3h0M1679.5 345.4h0M1679.5 343.5h0M1679.5 341.7h0M1679.5 339.9h0M1679.5 333.3h0M1679.5 331.8h0M1679.5 330.3h0M1679.5 327.3h0M1679.5 325.9h0M1679.5 321.8h0M1679.5 320.5h0M1679.5 319.2h0M1679.5 316.7h0M1679.5 315.5h0M1679.5 314.3h0M1679.5 313.1h0M1679.5 312.0h0M1679.5 307.6h0M1679.5 306.5h0M1679.5 301.5h0M1679.5 300.5h0M1684.6 534.6h0M1684.6 507.8h0M1684.6 488.8h0M1684.6 474.0h0M1684.6 461.9h0M1684.6 451.8h0M1684.6 442.9h0M1684.6 435.1h0M1684.6 428.2h0M1684.6 421.9h0M1684.6 416.1h0M1684.6 410.8h0M1684.6 405.9h0M1684.6 401.4h0M1684.6 397.1h0M1684.6 393.1h0M1684.6 389.3h0M1684.6 385.8h0M1684.6 382.4h0M1684.6 379.1h0M1684.6 376.1h0M1684.6 365.0h0M1684.6 362.5h0M1684.6 360.1h0M1684.6 343.5h0M1684.6 341.7h0M1684.6 339.9h0M1684.6 338.2h0M1684.6 334.9h0M1684.6 333.3h0M1684.6 331.8h0M1684.6 330.3h0M1684.6 328.8h0M1684.6 325.9h0M1684.6 324.5h0M1684.6 319.2h0M1684.6 317.9h0M1684.6 316.7h0M1684.6 315.5h0M1684.6 305.5h0M1684.6 304.5h0M1684.6 298.6h0M1684.6 287.5h0M1684.6 285.2h0M1684.6 282.9h0M1684.6 280.8h0M1684.6 278.7h0M1689.2 534.6h0M1689.2 507.8h0M1689.2 488.8h0M1689.2 474.0h0M1689.2 461.9h0M1689.2 451.8h0M1689.2 442.9h0M1689.2 435.1h0M1689.2 428.2h0M1689.2 421.9h0M1689.2 416.1h0M1689.2 410.8h0M1689.2 405.9h0M1689.2 397.1h0M1689.2 393.1h0M1689.2 389.3h0M1689.2 385.8h0M1689.2 382.4h0M1689.2 379.1h0M1689.2 376.1h0M1689.2 373.1h0M1689.2 367.6h0M1689.2 362.5h0M1689.2 360.1h0M1689.2 357.8h0M1689.2 355.6h0M1689.2 353.4h0M1689.2 351.3h0M1689.2 349.3h0M1689.2 347.3h0M1689.2 345.4h0M1689.2 341.7h0M1689.2 339.9h0M1689.2 336.6h0M1689.2 334.9h0M1689.2 333.3h0M1689.2 331.8h0M1689.2 328.8h0M1689.2 327.3h0M1689.2 325.9h0M1689.2 320.5h0M1689.2 314.3h0M1689.2 308.7h0M1689.2 306.5h0M1689.2 305.5h0M1689.2 280.1h0M1693.4 534.6h0M1693.4 507.8h0M1693.4 488.8h0M1693.4 474.0h0M1693.4 461.9h0M1693.4 451.8h0M1693.4 442.9h0M1693.4 435.1h0M1693.4 428.2h0M1693.4 421.9h0M1693.4 416.1h0M1693.4 410.8h0M1693.4 401.4h0M1693.4 397.1h0M1693.4 393.1h0M1693.4 389.3h0M1693.4 382.4h0M1693.4 379.1h0M1693.4 376.1h0M1693.4 367.6h0M1693.4 365.0h0M1693.4 360.1h0M1693.4 357.8h0M1693.4 355.6h0M1693.4 351.3h0M1693.4 345.4h0M1693.4 343.5h0M1693.4 338.2h0M1693.4 334.9h0M1693.4 333.3h0M1693.4 325.9h0M1693.4 320.5h0M1693.4 317.9h0M1693.4 315.5h0M1693.4 304.5h0M1693.4 303.4h0M1693.4 298.6h0M1693.4 294.1h0M1693.4 290.7h0M1693.4 278.7h0M1693.4 278.0h0M1697.3 534.6h0M1697.3 507.8h0M1697.3 488.8h0M1697.3 474.0h0M1697.3 461.9h0M1697.3 451.8h0M1697.3 442.9h0M1697.3 435.1h0M1697.3 428.2h0M1697.3 421.9h0M1697.3 416.1h0M1697.3 410.8h0M1697.3 401.4h0M1697.3 389.3h0M1697.3 385.8h0M1697.3 382.4h0M1697.3 379.1h0M1697.3 367.6h0M1697.3 357.8h0M1697.3 353.4h0M1697.3 351.3h0M1697.3 349.3h0M1697.3 345.4h0M1697.3 343.5h0M1697.3 339.9h0M1697.3 338.2h0M1697.3 336.6h0M1697.3 334.9h0M1697.3 331.8h0M1697.3 325.9h0M1697.3 315.5h0M1697.3 313.1h0M1697.3 312.0h0M1697.3 297.7h0M1697.3 290.7h0M1697.3 287.5h0M1697.3 286.7h0M1697.3 277.3h0M1697.3 274.0h0M1700.9 534.6h0M1700.9 507.8h0M1700.9 488.8h0M1700.9 474.0h0M1700.9 461.9h0M1700.9 451.8h0M1700.9 442.9h0M1700.9 435.1h0M1700.9 428.2h0M1700.9 421.9h0M1700.9 416.1h0M1700.9 410.8h0M1700.9 401.4h0M1700.9 397.1h0M1700.9 393.1h0M1700.9 389.3h0M1700.9 382.4h0M1700.9 373.1h0M1700.9 370.3h0M1700.9 367.6h0M1700.9 362.5h0M1700.9 360.1h0M1700.9 357.8h0M1700.9 353.4h0M1700.9 351.3h0M1700.9 347.3h0M1700.9 343.5h0M1700.9 341.7h0M1700.9 338.2h0M1700.9 336.6h0M1700.9 334.9h0M1700.9 328.8h0M1700.9 321.8h0M1700.9 316.7h0M1700.9 315.5h0M1700.9 302.5h0M1700.9 300.5h0M1700.9 294.1h0M1704.3 534.6h0M1704.3 507.8h0M1704.3 488.8h0M1704.3 474.0h0M1704.3 461.9h0M1704.3 451.8h0M1704.3 442.9h0M1704.3 435.1h0M1704.3 428.2h0M1704.3 421.9h0M1704.3 416.1h0M1704.3 410.8h0M1704.3 401.4h0M1704.3 397.1h0M1704.3 393.1h0M1704.3 389.3h0M1704.3 385.8h0M1704.3 376.1h0M1704.3 373.1h0M1704.3 370.3h0M1704.3 367.6h0M1704.3 365.0h0M1704.3 362.5h0M1704.3 360.1h0M1704.3 357.8h0M1704.3 347.3h0M1704.3 345.4h0M1704.3 338.2h0M1704.3 336.6h0M1704.3 328.8h0M1704.3 324.5h0M1704.3 315.5h0M1704.3 313.1h0M1704.3 312.0h0M1704.3 309.7h0M1704.3 305.5h0M1704.3 290.7h0M1707.4 534.6h0M1707.4 507.8h0M1707.4 488.8h0M1707.4 474.0h0M1707.4 461.9h0M1707.4 451.8h0M1707.4 442.9h0M1707.4 435.1h0M1707.4 428.2h0M1707.4 421.9h0M1707.4 416.1h0M1707.4 410.8h0M1707.4 405.9h0M1707.4 401.4h0M1707.4 393.1h0M1707.4 389.3h0M1707.4 382.4h0M1707.4 379.1h0M1707.4 376.1h0M1707.4 373.1h0M1707.4 370.3h0M1707.4 360.1h0M1707.4 355.6h0M1707.4 353.4h0M1707.4 351.3h0M1707.4 347.3h0M1707.4 345.4h0M1707.4 336.6h0M1707.4 333.3h0M1707.4 330.3h0M1707.4 324.5h0M1707.4 323.1h0M1707.4 316.7h0M1707.4 305.5h0M1707.4 298.6h0M1710.4 534.6h0M1710.4 507.8h0M1710.4 488.8h0M1710.4 474.0h0M1710.4 461.9h0M1710.4 451.8h0M1710.4 442.9h0M1710.4 435.1h0M1710.4 428.2h0M1710.4 421.9h0M1710.4 416.1h0M1710.4 410.8h0M1710.4 405.9h0M1710.4 401.4h0M1710.4 397.1h0M1710.4 393.1h0M1710.4 389.3h0M1710.4 382.4h0M1710.4 376.1h0M1710.4 373.1h0M1710.4 367.6h0M1710.4 353.4h0M1710.4 347.3h0M1710.4 345.4h0M1710.4 339.9h0M1710.4 336.6h0M1710.4 334.9h0M1710.4 333.3h0M1710.4 328.8h0M1710.4 325.9h0M1710.4 320.5h0M1710.4 319.2h0M1710.4 312.0h0M1710.4 288.3h0M1713.2 534.6h0M1713.2 507.8h0M1713.2 488.8h0M1713.2 474.0h0M1713.2 461.9h0M1713.2 451.8h0M1713.2 442.9h0M1713.2 435.1h0M1713.2 428.2h0M1713.2 421.9h0M1713.2 416.1h0M1713.2 410.8h0M1713.2 405.9h0M1713.2 401.4h0M1713.2 389.3h0M1713.2 379.1h0M1713.2 376.1h0M1713.2 370.3h0M1713.2 367.6h0M1713.2 365.0h0M1713.2 360.1h0M1713.2 357.8h0M1713.2 349.3h0M1713.2 345.4h0M1713.2 339.9h0M1713.2 338.2h0M1713.2 336.6h0M1713.2 331.8h0M1713.2 321.8h0M1713.2 316.7h0M1713.2 315.5h0M1713.2 310.9h0M1715.8 534.6h0M1715.8 507.8h0M1715.8 488.8h0M1715.8 474.0h0M1715.8 461.9h0M1715.8 451.8h0M1715.8 442.9h0M1715.8 435.1h0M1715.8 428.2h0M1715.8 416.1h0M1715.8 410.8h0M1715.8 405.9h0M1715.8 397.1h0M1715.8 393.1h0M1715.8 385.8h0M1715.8 379.1h0M1715.8 373.1h0M1715.8 362.5h0M1715.8 357.8h0M1715.8 353.4h0M1715.8 345.4h0M1715.8 343.5h0M1715.8 341.7h0M1715.8 333.3h0M1715.8 330.3h0M1715.8 328.8h0M1715.8 327.3h0M1715.8 324.5h0M1715.8 313.1h0M1718.3 534.6h0M1718.3 507.8h0M1718.3 488.8h0M1718.3 474.0h0M1718.3 461.9h0M1718.3 451.8h0M1718.3 442.9h0M1718.3 435.1h0M1718.3 428.2h0M1718.3 421.9h0M1718.3 416.1h0M1718.3 410.8h0M1718.3 405.9h0M1718.3 385.8h0M1718.3 382.4h0M1718.3 379.1h0M1718.3 373.1h0M1718.3 370.3h0M1718.3 367.6h0M1718.3 360.1h0M1718.3 345.4h0M1718.3 343.5h0M1718.3 341.7h0M1718.3 334.9h0M1718.3 330.3h0M1718.3 305.5h0M1720.6 534.6h0M1720.6 507.8h0M1720.6 488.8h0M1720.6 474.0h0M1720.6 461.9h0M1720.6 451.8h0M1720.6 442.9h0M1720.6 435.1h0M1720.6 428.2h0M1720.6 421.9h0M1720.6 416.1h0M1720.6 410.8h0M1720.6 397.1h0M1720.6 385.8h0M1720.6 382.4h0M1720.6 379.1h0M1720.6 367.6h0M1720.6 365.0h0M1720.6 360.1h0M1720.6 357.8h0M1720.6 349.3h0M1720.6 347.3h0M1720.6 345.4h0M1720.6 336.6h0M1720.6 331.8h0M1720.6 325.9h0M1720.6 323.1h0M1720.6 321.8h0M1720.6 320.5h0M1720.6 306.5h0M1722.9 534.6h0M1722.9 507.8h0M1722.9 488.8h0M1722.9 474.0h0M1722.9 461.9h0M1722.9 451.8h0M1722.9 442.9h0M1722.9 435.1h0M1722.9 428.2h0M1722.9 421.9h0M1722.9 416.1h0M1722.9 410.8h0M1722.9 401.4h0M1722.9 397.1h0M1722.9 389.3h0M1722.9 385.8h0M1722.9 382.4h0M1722.9 379.1h0M1722.9 376.1h0M1722.9 370.3h0M1722.9 360.1h0M1722.9 357.8h0M1722.9 355.6h0M1722.9 343.5h0M1722.9 325.9h0M1722.9 295.9h0M1725.1 534.6h0M1725.1 507.8h0M1725.1 488.8h0M1725.1 474.0h0M1725.1 461.9h0M1725.1 451.8h0M1725.1 442.9h0M1725.1 435.1h0M1725.1 428.2h0M1725.1 421.9h0M1725.1 416.1h0M1725.1 410.8h0M1725.1 401.4h0M1725.1 397.1h0M1725.1 379.1h0M1725.1 373.1h0M1725.1 367.6h0M1725.1 362.5h0M1725.1 360.1h0M1725.1 357.8h0M1725.1 345.4h0M1725.1 339.9h0M1725.1 334.9h0M1725.1 330.3h0M1725.1 327.3h0M1725.1 324.5h0M1725.1 319.2h0M1725.1 313.1h0M1727.1 534.6h0M1727.1 507.8h0M1727.1 488.8h0M1727.1 474.0h0M1727.1 461.9h0M1727.1 451.8h0M1727.1 442.9h0M1727.1 435.1h0M1727.1 428.2h0M1727.1 421.9h0M1727.1 416.1h0M1727.1 410.8h0M1727.1 401.4h0M1727.1 393.1h0M1727.1 389.3h0M1727.1 382.4h0M1727.1 379.1h0M1727.1 373.1h0M1727.1 370.3h0M1727.1 367.6h0M1727.1 362.5h0M1727.1 357.8h0M1727.1 331.8h0M1727.1 324.5h0M1727.1 323.1h0M1729.1 534.6h0M1729.1 507.8h0M1729.1 488.8h0M1729.1 474.0h0M1729.1 461.9h0M1729.1 451.8h0M1729.1 442.9h0M1729.1 435.1h0M1729.1 428.2h0M1729.1 421.9h0M1729.1 416.1h0M1729.1 410.8h0M1729.1 401.4h0M1729.1 389.3h0M1729.1 385.8h0M1729.1 382.4h0M1729.1 379.1h0M1729.1 376.1h0M1729.1 373.1h0M1729.1 370.3h0M1729.1 362.5h0M1729.1 351.3h0M1729.1 331.8h0M1729.1 327.3h0M1729.1 310.9h0M1731.0 534.6h0M1731.0 507.8h0M1731.0 488.8h0M1731.0 474.0h0M1731.0 451.8h0M1731.0 442.9h0M1731.0 435.1h0M1731.0 428.2h0M1731.0 421.9h0M1731.0 416.1h0M1731.0 410.8h0M1731.0 405.9h0M1731.0 401.4h0M1731.0 397.1h0M1731.0 393.1h0M1731.0 389.3h0M1731.0 385.8h0M1731.0 382.4h0M1731.0 376.1h0M1731.0 367.6h0M1731.0 365.0h0M1731.0 349.3h0M1731.0 345.4h0M1731.0 270.9h0M1732.9 534.6h0M1732.9 507.8h0M1732.9 488.8h0M1732.9 474.0h0M1732.9 461.9h0M1732.9 451.8h0M1732.9 442.9h0M1732.9 435.1h0M1732.9 428.2h0M1732.9 421.9h0M1732.9 416.1h0M1732.9 410.8h0M1732.9 401.4h0M1732.9 397.1h0M1732.9 389.3h0M1732.9 385.8h0M1732.9 376.1h0M1732.9 373.1h0M1732.9 370.3h0M1732.9 353.4h0M1732.9 351.3h0M1732.9 347.3h0M1732.9 333.3h0M1732.9 277.3h0M1734.6 534.6h0M1734.6 507.8h0M1734.6 488.8h0M1734.6 474.0h0M1734.6 461.9h0M1734.6 451.8h0M1734.6 442.9h0M1734.6 435.1h0M1734.6 428.2h0M1734.6 421.9h0M1734.6 410.8h0M1734.6 405.9h0M1734.6 401.4h0M1734.6 397.1h0M1734.6 385.8h0M1734.6 382.4h0M1734.6 376.1h0M1734.6 373.1h0M1734.6 370.3h0M1734.6 362.5h0M1734.6 360.1h0M1734.6 339.9h0M1734.6 336.6h0M1736.3 534.6h0M1736.3 507.8h0M1736.3 488.8h0M1736.3 461.9h0M1736.3 451.8h0M1736.3 442.9h0M1736.3 435.1h0M1736.3 428.2h0M1736.3 421.9h0M1736.3 416.1h0M1736.3 410.8h0M1736.3 397.1h0M1736.3 389.3h0M1736.3 385.8h0M1736.3 382.4h0M1736.3 376.1h0M1736.3 353.4h0M1736.3 339.9h0M1736.3 338.2h0M1738.0 534.6h0M1738.0 507.8h0M1738.0 488.8h0M1738.0 474.0h0M1738.0 461.9h0M1738.0 451.8h0M1738.0 442.9h0M1738.0 435.1h0M1738.0 421.9h0M1738.0 416.1h0M1738.0 410.8h0M1738.0 401.4h0M1738.0 393.1h0M1738.0 385.8h0M1738.0 382.4h0M1738.0 370.3h0M1738.0 367.6h0M1738.0 365.0h0M1738.0 334.9h0M1738.0 301.5h0M1739.6 534.6h0M1739.6 507.8h0M1739.6 488.8h0M1739.6 474.0h0M1739.6 461.9h0M1739.6 451.8h0M1739.6 442.9h0M1739.6 435.1h0M1739.6 428.2h0M1739.6 421.9h0M1739.6 416.1h0M1739.6 410.8h0M1739.6 405.9h0M1739.6 401.4h0M1739.6 393.1h0M1739.6 382.4h0M1739.6 336.6h0M1739.6 330.3h0M1741.1 534.6h0M1741.1 507.8h0M1741.1 488.8h0M1741.1 474.0h0M1741.1 461.9h0M1741.1 451.8h0M1741.1 442.9h0M1741.1 435.1h0M1741.1 421.9h0M1741.1 416.1h0M1741.1 410.8h0M1741.1 401.4h0M1741.1 397.1h0M1741.1 393.1h0M1741.1 389.3h0M1741.1 382.4h0M1741.1 367.6h0M1742.6 534.6h0M1742.6 507.8h0M1742.6 488.8h0M1742.6 474.0h0M1742.6 461.9h0M1742.6 451.8h0M1742.6 442.9h0M1742.6 435.1h0M1742.6 428.2h0M1742.6 421.9h0M1742.6 410.8h0M1742.6 393.1h0M1742.6 385.8h0M1742.6 379.1h0M1742.6 370.3h0M1742.6 347.3h0M1742.6 323.1h0M1744.1 534.6h0M1744.1 507.8h0M1744.1 488.8h0M1744.1 474.0h0M1744.1 461.9h0M1744.1 451.8h0M1744.1 442.9h0M1744.1 435.1h0M1744.1 428.2h0M1744.1 416.1h0M1744.1 410.8h0M1744.1 393.1h0M1744.1 330.3h0M1745.5 534.6h0M1745.5 507.8h0M1745.5 488.8h0M1745.5 474.0h0M1745.5 461.9h0M1745.5 442.9h0M1745.5 435.1h0M1745.5 428.2h0M1745.5 421.9h0M1745.5 410.8h0M1745.5 393.1h0M1745.5 389.3h0M1745.5 382.4h0M1745.5 373.1h0M1745.5 367.6h0M1746.8 534.6h0M1746.8 507.8h0M1746.8 488.8h0M1746.8 461.9h0M1746.8 451.8h0M1746.8 442.9h0M1746.8 435.1h0M1746.8 428.2h0M1746.8 416.1h0M1746.8 410.8h0M1746.8 401.4h0M1746.8 393.1h0M1748.2 534.6h0M1748.2 507.8h0M1748.2 488.8h0M1748.2 474.0h0M1748.2 461.9h0M1748.2 451.8h0M1748.2 442.9h0M1748.2 435.1h0M1748.2 428.2h0M1748.2 421.9h0M1748.2 416.1h0M1748.2 405.9h0M1748.2 382.4h0M1748.2 360.1h0M1748.2 357.8h0M1748.2 321.8h0M1749.5 534.6h0M1749.5 507.8h0M1749.5 488.8h0M1749.5 474.0h0M1749.5 451.8h0M1749.5 442.9h0M1749.5 435.1h0M1749.5 428.2h0M1749.5 421.9h0M1749.5 416.1h0M1749.5 410.8h0M1750.7 534.6h0M1750.7 507.8h0M1750.7 488.8h0M1750.7 461.9h0M1750.7 442.9h0M1750.7 421.9h0M1750.7 416.1h0M1750.7 401.4h0M1750.7 349.3h0M1752.0 534.6h0M1752.0 507.8h0M1752.0 488.8h0M1752.0 474.0h0M1752.0 435.1h0M1752.0 428.2h0M1752.0 421.9h0M1752.0 416.1h0M1752.0 405.9h0M1753.2 534.6h0M1753.2 507.8h0M1753.2 474.0h0M1753.2 461.9h0M1753.2 442.9h0M1753.2 435.1h0M1753.2 428.2h0M1753.2 421.9h0M1753.2 410.8h0M1753.2 405.9h0M1753.2 393.1h0M1753.2 370.3h0M1754.3 534.6h0M1754.3 474.0h0M1754.3 451.8h0M1754.3 435.1h0M1754.3 428.2h0M1754.3 421.9h0M1754.3 410.8h0M1754.3 370.3h0M1754.3 347.3h0M1754.3 345.4h0M1754.3 312.0h0M1755.5 534.6h0M1755.5 507.8h0M1755.5 488.8h0M1755.5 442.9h0M1755.5 435.1h0M1755.5 428.2h0M1755.5 416.1h0M1756.6 534.6h0M1756.6 507.8h0M1756.6 474.0h0M1756.6 451.8h0M1756.6 435.1h0M1756.6 428.2h0M1756.6 393.1h0M1757.7 534.6h0M1757.7 507.8h0M1757.7 474.0h0M1757.7 451.8h0M1757.7 442.9h0M1757.7 428.2h0M1757.7 365.0h0M1758.8 534.6h0M1758.8 507.8h0M1758.8 488.8h0M1758.8 474.0h0M1758.8 435.1h0M1758.8 421.9h0M1759.8 534.6h0M1759.8 507.8h0M1759.8 461.9h0M1759.8 451.8h0M1759.8 428.2h0M1760.8 534.6h0M1760.8 507.8h0M1760.8 474.0h0M1760.8 461.9h0M1761.8 534.6h0M1761.8 507.8h0M1761.8 451.8h0M1761.8 421.9h0M1761.8 362.5h0M1762.8 534.6h0M1762.8 507.8h0M1762.8 461.9h0M1762.8 451.8h0M1762.8 442.9h0M1762.8 370.3h0M1763.8 534.6h0M1763.8 488.8h0M1763.8 474.0h0M1763.8 421.9h0M1763.8 367.6h0M1764.7 534.6h0M1764.7 507.8h0M1764.7 442.9h0M1764.7 435.1h0M1764.7 428.2h0M1765.6 534.6h0M1765.6 435.1h0M1766.5 534.6h0M1766.5 488.8h0M1766.5 474.0h0M1766.5 442.9h0M1767.4 534.6h0M1767.4 461.9h0M1768.3 534.6h0M1768.3 474.0h0M1768.3 416.1h0M1769.2 534.6h0M1769.2 474.0h0M1769.2 461.9h0M1769.2 416.1h0M1770.0 534.6h0M1770.8 534.6h0M1770.8 474.0h0M1770.8 451.8h0M1771.7 534.6h0M1771.7 488.8h0M1771.7 379.1h0M1772.5 534.6h0M1772.5 416.1h0M1773.3 534.6h0M1773.3 347.3h0M1774.0 534.6h0M1774.0 428.2h0M1774.0 405.9h0M1774.8 534.6h0M1775.6 534.6h0M1775.6 376.1h0M1776.3 534.6h0M1776.3 461.9h0M1777.0 534.6h0M1777.0 507.8h0M1777.0 461.9h0M1777.7 534.6h0M1778.5 534.6h0M1778.5 405.9h0M1779.2 534.6h0M1779.8 534.6h0M1780.5 534.6h0M1780.5 451.8h0M1780.5 405.9h0M1781.2 534.6h0M1781.2 410.8h0M1781.9 534.6h0M1783.2 534.6h0M1783.8 534.6h0M1784.4 534.6h0M1784.4 382.4h0M1785.0 534.6h0M1785.0 507.8h0M1785.0 416.1h0M1785.6 534.6h0M1786.3 534.6h0M1786.8 534.6h0M1788.0 534.6h0M1788.0 416.1h0M1788.6 534.6h0M1789.2 534.6h0M1789.2 401.4h0M1789.7 534.6h0M1789.7 397.1h0M1790.3 534.6h0M1791.4 534.6h0M1791.9 534.6h0M1792.4 534.6h0M1793.5 534.6h0M1793.5 488.8h0M1794.0 534.6h0M1794.5 534.6h0M1794.5 382.4h0M1795.0 435.1h0M1795.5 534.6h0M1796.0 534.6h0M1796.0 461.9h0M1796.0 442.9h0M1796.0 416.1h0M1796.5 488.8h0M1797.0 534.6h0M1797.5 534.6h0M1797.5 410.8h0M1797.9 355.6h0M1798.4 534.6h0M1798.9 534.6h0M1799.3 461.9h0M1799.8 534.6h0M1800.2 534.6h0M1801.1 534.6h0M1801.1 442.9h0M1801.6 534.6h0M1802.0 389.3h0M1802.4 534.6h0M1802.4 507.8h0M1802.9 534.6h0M1803.7 534.6h0M1804.5 534.6h0M1805.4 534.6h0M1805.8 534.6h0M1806.6 534.6h0M1807.3 534.6h0M1808.1 534.6h0M1808.5 534.6h0M1808.9 428.2h0M1809.2 534.6h0M1810.0 534.6h0M1810.4 451.8h0M1810.7 534.6h0M1810.7 360.1h0M1811.4 534.6h0M1812.1 534.6h0M1812.8 534.6h0M1813.5 534.6h0M1814.2 534.6h0M1814.9 534.6h0M1815.5 534.6h0M1816.2 534.6h0M1817.2 534.6h0M1817.8 534.6h0M1818.4 534.6h0M1819.0 534.6h0M1819.6 379.1h0M1819.9 534.6h0M1820.5 534.6h0M1821.1 534.6h0M1822.0 534.6h0M1822.6 534.6h0M1823.4 534.6h0M1824.0 534.6h0M1824.8 534.6h0M1825.1 451.8h0M1825.3 534.6h0M1826.1 534.6h0M1826.7 534.6h0M1826.9 410.8h0M1827.4 534.6h0M1828.2 534.6h0M1828.9 534.6h0M1829.7 534.6h0M1830.2 534.6h0M1830.9 534.6h0M1831.4 488.8h0M1831.6 534.6h0M1832.3 534.6h0M1833.0 534.6h0M1833.7 534.6h0M1833.9 304.5h0M1834.4 534.6h0M1835.3 534.6h0M1835.9 534.6h0M1836.5 534.6h0M1837.2 534.6h0M1838.0 534.6h0M1838.6 534.6h0M1839.4 534.6h0M1840.0 534.6h0M1840.8 534.6h0M1841.4 534.6h0M1842.2 534.6h0M1842.9 534.6h0M1843.5 534.6h0M1844.2 534.6h0M1844.9 534.6h0M1845.7 534.6h0M1845.7 421.9h0M1846.4 534.6h0M1847.1 534.6h0M1847.7 534.6h0M1861.4 507.8h0M1862.6 534.6h0M1866.2 507.8h0M1868.5 534.6h0M1863.2 443.5h0M1935.6 474.4h0M1864.6 508.6h0M1867.4 534.8h0M1989.6 360.5h0M1862.0 535.0h0M1847.0 382.0h0M1837.0 330.0h0M1843.6 268.0h0" stroke="#0a0a0a" stroke-width="4.1" stroke-linecap="round" fill="none"/>
<line x1="1997.1" y1="186" x2="1997.1" y2="212" stroke="#c9c9c9" stroke-width="4" stroke-linecap="round"/>
<circle cx="1997.1" cy="226.6" r="1.9" fill="#c9c9c9"/>
<circle cx="1997.1" cy="243.6" r="1.9" fill="#c9c9c9"/>
<circle cx="1995.4" cy="324.2" r="1.9" fill="#c9c9c9"/>
<circle cx="1995.4" cy="330.0" r="1.9" fill="#c9c9c9"/>
<circle cx="1995.4" cy="334.5" r="1.9" fill="#c9c9c9"/>
<circle cx="1993.8" cy="351.1" r="1.9" fill="#c9c9c9"/>
<circle cx="1989.1" cy="355.3" r="1.9" fill="#c9c9c9"/>
<circle cx="1988.1" cy="365.4" r="1.9" fill="#c9c9c9"/>
<circle cx="1989.6" cy="360.5" r="1.9" fill="#0a0a0a"/>
</g>
<g id="pe">
<text x="29.8" y="645.5" font-size="30.50" font-weight="bold">e</text>
<line x1="153.1" y1="713.5" x2="582.7" y2="713.5" stroke="#ebebeb" stroke-width="1.5"/>
<line x1="153.1" y1="736.3" x2="582.7" y2="736.3" stroke="#ebebeb" stroke-width="1.5"/>
<line x1="153.1" y1="759.1" x2="582.7" y2="759.1" stroke="#ebebeb" stroke-width="1.5"/>
<line x1="153.1" y1="781.9" x2="582.7" y2="781.9" stroke="#ebebeb" stroke-width="1.5"/>
<line x1="153.1" y1="804.7" x2="582.7" y2="804.7" stroke="#ebebeb" stroke-width="1.5"/>
<line x1="153.1" y1="827.5" x2="582.7" y2="827.5" stroke="#ebebeb" stroke-width="1.5"/>
<line x1="153.1" y1="850.3" x2="582.7" y2="850.3" stroke="#ebebeb" stroke-width="1.5"/>
<line x1="153.1" y1="873.1" x2="582.7" y2="873.1" stroke="#ebebeb" stroke-width="1.5"/>
<line x1="153.1" y1="895.9" x2="582.7" y2="895.9" stroke="#ebebeb" stroke-width="1.5"/>
<line x1="153.1" y1="918.7" x2="582.7" y2="918.7" stroke="#ebebeb" stroke-width="1.5"/>
<line x1="153.1" y1="941.5" x2="582.7" y2="941.5" stroke="#ebebeb" stroke-width="1.5"/>
<line x1="153.1" y1="964.3" x2="582.7" y2="964.3" stroke="#ebebeb" stroke-width="1.5"/>
<line x1="153.1" y1="987.1" x2="582.7" y2="987.1" stroke="#ebebeb" stroke-width="1.5"/>
<line x1="153.1" y1="1009.9" x2="582.7" y2="1009.9" stroke="#ebebeb" stroke-width="1.5"/>
<line x1="153.1" y1="1032.7" x2="582.7" y2="1032.7" stroke="#ebebeb" stroke-width="1.5"/>
<line x1="153.1" y1="1055.5" x2="582.7" y2="1055.5" stroke="#ebebeb" stroke-width="1.5"/>
<line x1="153.1" y1="1078.3" x2="582.7" y2="1078.3" stroke="#ebebeb" stroke-width="1.5"/>
<line x1="153.1" y1="1101.1" x2="582.7" y2="1101.1" stroke="#ebebeb" stroke-width="1.5"/>
<line x1="153.1" y1="1123.9" x2="582.7" y2="1123.9" stroke="#ebebeb" stroke-width="1.5"/>
<line x1="153.1" y1="1146.7" x2="582.7" y2="1146.7" stroke="#ebebeb" stroke-width="1.5"/>
<line x1="153.1" y1="1169.5" x2="582.7" y2="1169.5" stroke="#ebebeb" stroke-width="1.5"/>
<line x1="153.1" y1="1192.3" x2="582.7" y2="1192.3" stroke="#ebebeb" stroke-width="1.5"/>
<line x1="153.1" y1="1215.1" x2="582.7" y2="1215.1" stroke="#ebebeb" stroke-width="1.5"/>
<line x1="153.1" y1="1237.9" x2="582.7" y2="1237.9" stroke="#ebebeb" stroke-width="1.5"/>
<line x1="153.1" y1="1260.7" x2="582.7" y2="1260.7" stroke="#ebebeb" stroke-width="1.5"/>
<line x1="172.7" y1="699.9" x2="172.7" y2="1273.6" stroke="#ebebeb" stroke-width="1.5"/>
<line x1="275.2" y1="699.9" x2="275.2" y2="1273.6" stroke="#ebebeb" stroke-width="1.5"/>
<line x1="377.7" y1="699.9" x2="377.7" y2="1273.6" stroke="#ebebeb" stroke-width="1.5"/>
<line x1="480.2" y1="699.9" x2="480.2" y2="1273.6" stroke="#ebebeb" stroke-width="1.5"/>
<line x1="223.9" y1="699.9" x2="223.9" y2="1273.6" stroke="#f3f3f3" stroke-width="1.1"/>
<line x1="326.4" y1="699.9" x2="326.4" y2="1273.6" stroke="#f3f3f3" stroke-width="1.1"/>
<line x1="428.9" y1="699.9" x2="428.9" y2="1273.6" stroke="#f3f3f3" stroke-width="1.1"/>
<line x1="531.5" y1="699.9" x2="531.5" y2="1273.6" stroke="#f3f3f3" stroke-width="1.1"/>
<line x1="531.5" y1="699.9" x2="531.5" y2="1273.6" stroke="#f3f3f3" stroke-width="1.1"/>
<line x1="172.8" y1="713.5" x2="232.6" y2="713.5" stroke="#2b2b2b" stroke-width="1.8"/>
<line x1="308.0" y1="713.5" x2="377.5" y2="713.5" stroke="#2b2b2b" stroke-width="1.8"/>
<rect x="232.6" y="707.8" width="75.3" height="11.4" fill="#fff" stroke="#2b2b2b" stroke-width="1.8"/>
<line x1="172.8" y1="736.3" x2="232.6" y2="736.3" stroke="#2b2b2b" stroke-width="1.8"/>
<line x1="358.1" y1="736.3" x2="520.4" y2="736.3" stroke="#2b2b2b" stroke-width="1.8"/>
<rect x="232.6" y="730.6" width="125.4" height="11.4" fill="#fff" stroke="#2b2b2b" stroke-width="1.8"/>
<line x1="308.0" y1="730.6" x2="308.0" y2="742.0" stroke="#2b2b2b" stroke-width="2.0"/>
<line x1="172.8" y1="759.1" x2="172.8" y2="759.1" stroke="#2b2b2b" stroke-width="1.8"/>
<line x1="308.0" y1="759.1" x2="424.5" y2="759.1" stroke="#2b2b2b" stroke-width="1.8"/>
<rect x="172.8" y="753.4" width="135.1" height="11.4" fill="#fff" stroke="#2b2b2b" stroke-width="1.8"/>
<line x1="275.3" y1="753.4" x2="275.3" y2="764.8" stroke="#2b2b2b" stroke-width="2.0"/>
<line x1="172.8" y1="781.9" x2="232.6" y2="781.9" stroke="#2b2b2b" stroke-width="1.8"/>
<line x1="335.1" y1="781.9" x2="470.7" y2="781.9" stroke="#2b2b2b" stroke-width="1.8"/>
<rect x="232.6" y="776.2" width="102.5" height="11.4" fill="#fff" stroke="#2b2b2b" stroke-width="1.8"/>
<line x1="308.0" y1="776.2" x2="308.0" y2="787.6" stroke="#2b2b2b" stroke-width="2.0"/>
<circle cx="497.5" cy="781.9" r="4.4" fill="#333"/>
<line x1="172.8" y1="804.7" x2="232.6" y2="804.7" stroke="#2b2b2b" stroke-width="1.8"/>
<line x1="335.1" y1="804.7" x2="480.4" y2="804.7" stroke="#2b2b2b" stroke-width="1.8"/>
<rect x="232.6" y="799.0" width="102.5" height="11.4" fill="#fff" stroke="#2b2b2b" stroke-width="1.8"/>
<line x1="275.3" y1="799.0" x2="275.3" y2="810.4" stroke="#2b2b2b" stroke-width="2.0"/>
<line x1="172.8" y1="827.5" x2="232.6" y2="827.5" stroke="#2b2b2b" stroke-width="1.8"/>
<line x1="315.0" y1="827.5" x2="424.5" y2="827.5" stroke="#2b2b2b" stroke-width="1.8"/>
<rect x="232.6" y="821.8" width="82.3" height="11.4" fill="#fff" stroke="#2b2b2b" stroke-width="1.8"/>
<line x1="275.3" y1="821.8" x2="275.3" y2="833.2" stroke="#2b2b2b" stroke-width="2.0"/>
<circle cx="488.9" cy="827.5" r="4.4" fill="#333"/>
<line x1="172.8" y1="850.3" x2="232.6" y2="850.3" stroke="#2b2b2b" stroke-width="1.8"/>
<line x1="346.8" y1="850.3" x2="488.9" y2="850.3" stroke="#2b2b2b" stroke-width="1.8"/>
<rect x="232.6" y="844.6" width="114.2" height="11.4" fill="#fff" stroke="#2b2b2b" stroke-width="1.8"/>
<line x1="308.0" y1="844.6" x2="308.0" y2="856.0" stroke="#2b2b2b" stroke-width="2.0"/>
<circle cx="527.0" cy="850.3" r="4.4" fill="#333"/>
<line x1="172.8" y1="873.1" x2="172.8" y2="873.1" stroke="#2b2b2b" stroke-width="1.8"/>
<line x1="275.3" y1="873.1" x2="410.5" y2="873.1" stroke="#2b2b2b" stroke-width="1.8"/>
<rect x="172.8" y="867.4" width="102.5" height="11.4" fill="#fff" stroke="#2b2b2b" stroke-width="1.8"/>
<line x1="172.8" y1="895.9" x2="232.6" y2="895.9" stroke="#2b2b2b" stroke-width="1.8"/>
<line x1="308.0" y1="895.9" x2="410.5" y2="895.9" stroke="#2b2b2b" stroke-width="1.8"/>
<rect x="232.6" y="890.2" width="75.3" height="11.4" fill="#fff" stroke="#2b2b2b" stroke-width="1.8"/>
<line x1="275.3" y1="890.2" x2="275.3" y2="901.6" stroke="#2b2b2b" stroke-width="2.0"/>
<line x1="172.8" y1="918.7" x2="232.6" y2="918.7" stroke="#2b2b2b" stroke-width="1.8"/>
<line x1="335.1" y1="918.7" x2="480.4" y2="918.7" stroke="#2b2b2b" stroke-width="1.8"/>
<rect x="232.6" y="913.0" width="102.5" height="11.4" fill="#fff" stroke="#2b2b2b" stroke-width="1.8"/>
<line x1="275.3" y1="913.0" x2="275.3" y2="924.4" stroke="#2b2b2b" stroke-width="2.0"/>
<line x1="172.8" y1="941.5" x2="232.6" y2="941.5" stroke="#2b2b2b" stroke-width="1.8"/>
<line x1="358.1" y1="941.5" x2="520.4" y2="941.5" stroke="#2b2b2b" stroke-width="1.8"/>
<rect x="232.6" y="935.8" width="125.4" height="11.4" fill="#fff" stroke="#2b2b2b" stroke-width="1.8"/>
<line x1="275.3" y1="935.8" x2="275.3" y2="947.2" stroke="#2b2b2b" stroke-width="2.0"/>
<line x1="172.8" y1="964.3" x2="232.6" y2="964.3" stroke="#2b2b2b" stroke-width="1.8"/>
<line x1="395.3" y1="964.3" x2="424.5" y2="964.3" stroke="#2b2b2b" stroke-width="1.8"/>
<rect x="232.6" y="958.6" width="162.7" height="11.4" fill="#fff" stroke="#2b2b2b" stroke-width="1.8"/>
<line x1="308.0" y1="958.6" x2="308.0" y2="970.0" stroke="#2b2b2b" stroke-width="2.0"/>
<line x1="172.8" y1="987.1" x2="172.8" y2="987.1" stroke="#2b2b2b" stroke-width="1.8"/>
<line x1="308.0" y1="987.1" x2="424.5" y2="987.1" stroke="#2b2b2b" stroke-width="1.8"/>
<rect x="172.8" y="981.4" width="135.1" height="11.4" fill="#fff" stroke="#2b2b2b" stroke-width="1.8"/>
<line x1="275.3" y1="981.4" x2="275.3" y2="992.8" stroke="#2b2b2b" stroke-width="2.0"/>
<line x1="172.8" y1="1009.9" x2="232.6" y2="1009.9" stroke="#2b2b2b" stroke-width="1.8"/>
<line x1="377.9" y1="1009.9" x2="488.9" y2="1009.9" stroke="#2b2b2b" stroke-width="1.8"/>
<rect x="232.6" y="1004.2" width="145.2" height="11.4" fill="#fff" stroke="#2b2b2b" stroke-width="1.8"/>
<line x1="321.6" y1="1004.2" x2="321.6" y2="1015.6" stroke="#2b2b2b" stroke-width="2.0"/>
<line x1="172.8" y1="1032.7" x2="172.8" y2="1032.7" stroke="#2b2b2b" stroke-width="1.8"/>
<line x1="308.0" y1="1032.7" x2="449.3" y2="1032.7" stroke="#2b2b2b" stroke-width="1.8"/>
<rect x="172.8" y="1027.0" width="135.1" height="11.4" fill="#fff" stroke="#2b2b2b" stroke-width="1.8"/>
<line x1="275.3" y1="1027.0" x2="275.3" y2="1038.4" stroke="#2b2b2b" stroke-width="2.0"/>
<line x1="172.8" y1="1055.5" x2="172.8" y2="1055.5" stroke="#2b2b2b" stroke-width="1.8"/>
<line x1="321.6" y1="1055.5" x2="488.9" y2="1055.5" stroke="#2b2b2b" stroke-width="1.8"/>
<rect x="172.8" y="1049.8" width="148.7" height="11.4" fill="#fff" stroke="#2b2b2b" stroke-width="1.8"/>
<line x1="275.3" y1="1049.8" x2="275.3" y2="1061.2" stroke="#2b2b2b" stroke-width="2.0"/>
<line x1="172.8" y1="1078.3" x2="232.6" y2="1078.3" stroke="#2b2b2b" stroke-width="1.8"/>
<line x1="377.9" y1="1078.3" x2="562.7" y2="1078.3" stroke="#2b2b2b" stroke-width="1.8"/>
<rect x="232.6" y="1072.6" width="145.2" height="11.4" fill="#fff" stroke="#2b2b2b" stroke-width="1.8"/>
<line x1="308.0" y1="1072.6" x2="308.0" y2="1084.0" stroke="#2b2b2b" stroke-width="2.0"/>
<line x1="172.8" y1="1101.1" x2="202.7" y2="1101.1" stroke="#2b2b2b" stroke-width="1.8"/>
<line x1="335.1" y1="1101.1" x2="460.6" y2="1101.1" stroke="#2b2b2b" stroke-width="1.8"/>
<rect x="202.7" y="1095.4" width="132.4" height="11.4" fill="#fff" stroke="#2b2b2b" stroke-width="1.8"/>
<line x1="275.3" y1="1095.4" x2="275.3" y2="1106.8" stroke="#2b2b2b" stroke-width="2.0"/>
<line x1="172.8" y1="1123.9" x2="232.6" y2="1123.9" stroke="#2b2b2b" stroke-width="1.8"/>
<line x1="377.9" y1="1123.9" x2="546.0" y2="1123.9" stroke="#2b2b2b" stroke-width="1.8"/>
<rect x="232.6" y="1118.2" width="145.2" height="11.4" fill="#fff" stroke="#2b2b2b" stroke-width="1.8"/>
<line x1="308.0" y1="1118.2" x2="308.0" y2="1129.6" stroke="#2b2b2b" stroke-width="2.0"/>
<line x1="172.8" y1="1146.7" x2="232.6" y2="1146.7" stroke="#2b2b2b" stroke-width="1.8"/>
<line x1="308.0" y1="1146.7" x2="410.5" y2="1146.7" stroke="#2b2b2b" stroke-width="1.8"/>
<rect x="232.6" y="1141.0" width="75.3" height="11.4" fill="#fff" stroke="#2b2b2b" stroke-width="1.8"/>
<line x1="275.3" y1="1141.0" x2="275.3" y2="1152.4" stroke="#2b2b2b" stroke-width="2.0"/>
<line x1="172.8" y1="1169.5" x2="232.6" y2="1169.5" stroke="#2b2b2b" stroke-width="1.8"/>
<line x1="308.0" y1="1169.5" x2="395.0" y2="1169.5" stroke="#2b2b2b" stroke-width="1.8"/>
<rect x="232.6" y="1163.8" width="75.3" height="11.4" fill="#fff" stroke="#2b2b2b" stroke-width="1.8"/>
<line x1="253.6" y1="1163.8" x2="253.6" y2="1175.2" stroke="#2b2b2b" stroke-width="2.0"/>
<circle cx="424.5" cy="1169.5" r="4.4" fill="#333"/>
<circle cx="437.7" cy="1169.5" r="4.4" fill="#333"/>
<line x1="172.8" y1="1192.3" x2="232.6" y2="1192.3" stroke="#2b2b2b" stroke-width="1.8"/>
<line x1="308.0" y1="1192.3" x2="410.5" y2="1192.3" stroke="#2b2b2b" stroke-width="1.8"/>
<rect x="232.6" y="1186.6" width="75.3" height="11.4" fill="#fff" stroke="#2b2b2b" stroke-width="1.8"/>
<line x1="275.3" y1="1186.6" x2="275.3" y2="1198.0" stroke="#2b2b2b" stroke-width="2.0"/>
<line x1="172.8" y1="1215.1" x2="232.6" y2="1215.1" stroke="#2b2b2b" stroke-width="1.8"/>
<line x1="315.0" y1="1215.1" x2="424.5" y2="1215.1" stroke="#2b2b2b" stroke-width="1.8"/>
<rect x="232.6" y="1209.4" width="82.3" height="11.4" fill="#fff" stroke="#2b2b2b" stroke-width="1.8"/>
<line x1="275.3" y1="1209.4" x2="275.3" y2="1220.8" stroke="#2b2b2b" stroke-width="2.0"/>
<circle cx="449.3" cy="1215.1" r="4.4" fill="#333"/>
<circle cx="460.6" cy="1215.1" r="4.4" fill="#333"/>
<line x1="172.8" y1="1237.9" x2="275.3" y2="1237.9" stroke="#2b2b2b" stroke-width="1.8"/>
<line x1="395.3" y1="1237.9" x2="470.7" y2="1237.9" stroke="#2b2b2b" stroke-width="1.8"/>
<rect x="275.3" y="1232.2" width="120.0" height="11.4" fill="#fff" stroke="#2b2b2b" stroke-width="1.8"/>
<line x1="308.0" y1="1232.2" x2="308.0" y2="1243.6" stroke="#2b2b2b" stroke-width="2.0"/>
<line x1="172.8" y1="1260.7" x2="232.6" y2="1260.7" stroke="#2b2b2b" stroke-width="1.8"/>
<line x1="358.1" y1="1260.7" x2="497.5" y2="1260.7" stroke="#2b2b2b" stroke-width="1.8"/>
<rect x="232.6" y="1255.0" width="125.4" height="11.4" fill="#fff" stroke="#2b2b2b" stroke-width="1.8"/>
<line x1="308.0" y1="1255.0" x2="308.0" y2="1266.4" stroke="#2b2b2b" stroke-width="2.0"/>
<rect x="153.1" y="699.9" width="429.6" height="573.7" fill="none" stroke="#333" stroke-width="1.8"/>
<line x1="148.5" y1="713.5" x2="153.1" y2="713.5" stroke="#333" stroke-width="1.5"/>
<text transform="translate(144.0 716.3) scale(1.125 1)" font-size="17.40" text-anchor="end">9918_G_A</text>
<line x1="148.5" y1="736.3" x2="153.1" y2="736.3" stroke="#333" stroke-width="1.5"/>
<text transform="translate(144.0 739.1) scale(1.125 1)" font-size="17.40" text-anchor="end">9616_T_C</text>
<line x1="148.5" y1="759.1" x2="153.1" y2="759.1" stroke="#333" stroke-width="1.5"/>
<text transform="translate(144.0 761.9) scale(1.125 1)" font-size="17.40" text-anchor="end">9498_T_A</text>
<line x1="148.5" y1="781.9" x2="153.1" y2="781.9" stroke="#333" stroke-width="1.5"/>
<text transform="translate(144.0 784.7) scale(1.125 1)" font-size="17.40" text-anchor="end">9144_C_A</text>
<line x1="148.5" y1="804.7" x2="153.1" y2="804.7" stroke="#333" stroke-width="1.5"/>
<text transform="translate(144.0 807.5) scale(1.125 1)" font-size="17.40" text-anchor="end">8323_T_C</text>
<line x1="148.5" y1="827.5" x2="153.1" y2="827.5" stroke="#333" stroke-width="1.5"/>
<text transform="translate(144.0 830.3) scale(1.125 1)" font-size="17.40" text-anchor="end">7102_T_G</text>
<line x1="148.5" y1="850.3" x2="153.1" y2="850.3" stroke="#333" stroke-width="1.5"/>
<text transform="translate(144.0 853.1) scale(1.125 1)" font-size="17.40" text-anchor="end">6137_T_G</text>
<line x1="148.5" y1="873.1" x2="153.1" y2="873.1" stroke="#333" stroke-width="1.5"/>
<text transform="translate(144.0 875.9) scale(1.125 1)" font-size="17.40" text-anchor="end">526_G_C</text>
<line x1="148.5" y1="895.9" x2="153.1" y2="895.9" stroke="#333" stroke-width="1.5"/>
<text transform="translate(144.0 898.7) scale(1.125 1)" font-size="17.40" text-anchor="end">4770_G_A</text>
<line x1="148.5" y1="918.7" x2="153.1" y2="918.7" stroke="#333" stroke-width="1.5"/>
<text transform="translate(144.0 921.5) scale(1.125 1)" font-size="17.40" text-anchor="end">3526_G_A</text>
<line x1="148.5" y1="941.5" x2="153.1" y2="941.5" stroke="#333" stroke-width="1.5"/>
<text transform="translate(144.0 944.3) scale(1.125 1)" font-size="17.40" text-anchor="end">3242_G_A</text>
<line x1="148.5" y1="964.3" x2="153.1" y2="964.3" stroke="#333" stroke-width="1.5"/>
<text transform="translate(144.0 967.1) scale(1.125 1)" font-size="17.40" text-anchor="end">16465_C_G</text>
<line x1="148.5" y1="987.1" x2="153.1" y2="987.1" stroke="#333" stroke-width="1.5"/>
<text transform="translate(144.0 989.9) scale(1.125 1)" font-size="17.40" text-anchor="end">15123_C_G</text>
<line x1="148.5" y1="1009.9" x2="153.1" y2="1009.9" stroke="#333" stroke-width="1.5"/>
<text transform="translate(144.0 1012.7) scale(1.125 1)" font-size="17.40" text-anchor="end">15086_A_G</text>
<line x1="148.5" y1="1032.7" x2="153.1" y2="1032.7" stroke="#333" stroke-width="1.5"/>
<text transform="translate(144.0 1035.5) scale(1.125 1)" font-size="17.40" text-anchor="end">14459_G_A</text>
<line x1="148.5" y1="1055.5" x2="153.1" y2="1055.5" stroke="#333" stroke-width="1.5"/>
<text transform="translate(144.0 1058.3) scale(1.125 1)" font-size="17.40" text-anchor="end">1368_T_C</text>
<line x1="148.5" y1="1078.3" x2="153.1" y2="1078.3" stroke="#333" stroke-width="1.5"/>
<text transform="translate(144.0 1081.1) scale(1.125 1)" font-size="17.40" text-anchor="end">1348_G_A</text>
<line x1="148.5" y1="1101.1" x2="153.1" y2="1101.1" stroke="#333" stroke-width="1.5"/>
<text transform="translate(144.0 1103.9) scale(1.125 1)" font-size="17.40" text-anchor="end">13450_T_C</text>
<line x1="148.5" y1="1123.9" x2="153.1" y2="1123.9" stroke="#333" stroke-width="1.5"/>
<text transform="translate(144.0 1126.7) scale(1.125 1)" font-size="17.40" text-anchor="end">12772_G_A</text>
<line x1="148.5" y1="1146.7" x2="153.1" y2="1146.7" stroke="#333" stroke-width="1.5"/>
<text transform="translate(144.0 1149.5) scale(1.125 1)" font-size="17.40" text-anchor="end">12266_A_G</text>
<line x1="148.5" y1="1169.5" x2="153.1" y2="1169.5" stroke="#333" stroke-width="1.5"/>
<text transform="translate(144.0 1172.3) scale(1.125 1)" font-size="17.40" text-anchor="end">11415_C_A</text>
<line x1="148.5" y1="1192.3" x2="153.1" y2="1192.3" stroke="#333" stroke-width="1.5"/>
<text transform="translate(144.0 1195.1) scale(1.125 1)" font-size="17.40" text-anchor="end">10656_A_T</text>
<line x1="148.5" y1="1215.1" x2="153.1" y2="1215.1" stroke="#333" stroke-width="1.5"/>
<text transform="translate(144.0 1217.9) scale(1.125 1)" font-size="17.40" text-anchor="end">10654_C_G</text>
<line x1="148.5" y1="1237.9" x2="153.1" y2="1237.9" stroke="#333" stroke-width="1.5"/>
<text transform="translate(144.0 1240.7) scale(1.125 1)" font-size="17.40" text-anchor="end">103_G_A</text>
<line x1="148.5" y1="1260.7" x2="153.1" y2="1260.7" stroke="#333" stroke-width="1.5"/>
<text transform="translate(144.0 1263.5) scale(1.125 1)" font-size="17.40" text-anchor="end">10197_G_A</text>
<line x1="172.6" y1="1273.6" x2="172.6" y2="1278.2" stroke="#333" stroke-width="1.5"/>
<text x="168.0" y="1299.5" font-size="23.50">1</text>
<line x1="275.0" y1="1273.6" x2="275.0" y2="1278.2" stroke="#333" stroke-width="1.5"/>
<text x="270.4" y="1299.5" font-size="23.50">4</text>
<line x1="377.6" y1="1273.6" x2="377.6" y2="1278.2" stroke="#333" stroke-width="1.5"/>
<text x="373.0" y="1299.5" font-size="23.50">8</text>
<line x1="480.5" y1="1273.6" x2="480.5" y2="1278.2" stroke="#333" stroke-width="1.5"/>
<text x="475.9" y="1299.5" font-size="23.50">32</text>
<text x="254.6" y="1328.6" font-size="27.30">UMI group size</text>
</g>
<g id="pf">
<text x="597.5" y="645.5" font-size="30.50" font-weight="bold">f</text>
<rect x="706.7" y="702.1" width="288.6" height="576.9" fill="#fff"/>
<rect x="720.0" y="705.9" width="272.4" height="20.1" fill="#66c2a5"/>
<rect x="720.0" y="705.9" width="18.8" height="20.1" fill="#fc8d62"/>
<rect x="720.0" y="728.8" width="272.4" height="20.1" fill="#66c2a5"/>
<rect x="720.0" y="728.8" width="56.9" height="20.1" fill="#fc8d62"/>
<rect x="720.0" y="728.8" width="13.4" height="20.1" fill="#8da0cb"/>
<rect x="720.0" y="751.8" width="272.4" height="20.1" fill="#66c2a5"/>
<rect x="720.0" y="774.7" width="272.4" height="20.1" fill="#66c2a5"/>
<rect x="720.0" y="774.7" width="37.5" height="20.1" fill="#fc8d62"/>
<rect x="720.0" y="774.7" width="11.1" height="20.1" fill="#8da0cb"/>
<rect x="720.0" y="797.6" width="272.4" height="20.1" fill="#66c2a5"/>
<rect x="720.0" y="797.6" width="27.0" height="20.1" fill="#fc8d62"/>
<rect x="720.0" y="797.6" width="4.5" height="20.1" fill="#8da0cb"/>
<rect x="720.0" y="820.5" width="272.4" height="20.1" fill="#66c2a5"/>
<rect x="720.0" y="843.5" width="272.4" height="20.1" fill="#66c2a5"/>
<rect x="720.0" y="843.5" width="44.1" height="20.1" fill="#fc8d62"/>
<rect x="720.0" y="843.5" width="8.0" height="20.1" fill="#8da0cb"/>
<rect x="720.0" y="866.4" width="272.4" height="20.1" fill="#66c2a5"/>
<rect x="720.0" y="889.3" width="272.4" height="20.1" fill="#66c2a5"/>
<rect x="720.0" y="889.3" width="28.5" height="20.1" fill="#fc8d62"/>
<rect x="720.0" y="912.3" width="272.4" height="20.1" fill="#66c2a5"/>
<rect x="720.0" y="912.3" width="4.5" height="20.1" fill="#fc8d62"/>
<rect x="720.0" y="935.2" width="272.4" height="20.1" fill="#66c2a5"/>
<rect x="720.0" y="935.2" width="6.0" height="20.1" fill="#fc8d62"/>
<rect x="720.0" y="958.1" width="272.4" height="20.1" fill="#66c2a5"/>
<rect x="720.0" y="958.1" width="52.6" height="20.1" fill="#fc8d62"/>
<rect x="720.0" y="958.1" width="8.3" height="20.1" fill="#8da0cb"/>
<rect x="720.0" y="981.1" width="272.4" height="20.1" fill="#66c2a5"/>
<rect x="720.0" y="981.1" width="20.8" height="20.1" fill="#fc8d62"/>
<rect x="720.0" y="981.1" width="10.3" height="20.1" fill="#8da0cb"/>
<rect x="720.0" y="1004.0" width="272.4" height="20.1" fill="#66c2a5"/>
<rect x="720.0" y="1004.0" width="19.2" height="20.1" fill="#fc8d62"/>
<rect x="720.0" y="1026.9" width="272.4" height="20.1" fill="#66c2a5"/>
<rect x="720.0" y="1049.8" width="272.4" height="20.1" fill="#66c2a5"/>
<rect x="720.0" y="1072.8" width="272.4" height="20.1" fill="#66c2a5"/>
<rect x="720.0" y="1072.8" width="37.9" height="20.1" fill="#fc8d62"/>
<rect x="720.0" y="1072.8" width="11.1" height="20.1" fill="#8da0cb"/>
<rect x="720.0" y="1095.7" width="272.4" height="20.1" fill="#66c2a5"/>
<rect x="720.0" y="1095.7" width="18.1" height="20.1" fill="#fc8d62"/>
<rect x="720.0" y="1095.7" width="7.6" height="20.1" fill="#8da0cb"/>
<rect x="720.0" y="1118.6" width="272.4" height="20.1" fill="#66c2a5"/>
<rect x="720.0" y="1118.6" width="7.6" height="20.1" fill="#fc8d62"/>
<rect x="720.0" y="1141.6" width="272.4" height="20.1" fill="#66c2a5"/>
<rect x="720.0" y="1141.6" width="9.9" height="20.1" fill="#fc8d62"/>
<rect x="720.0" y="1164.5" width="272.4" height="20.1" fill="#66c2a5"/>
<rect x="720.0" y="1164.5" width="6.0" height="20.1" fill="#fc8d62"/>
<rect x="720.0" y="1164.5" width="6.0" height="20.1" fill="#8da0cb"/>
<rect x="720.0" y="1187.4" width="272.4" height="20.1" fill="#66c2a5"/>
<rect x="720.0" y="1210.4" width="272.4" height="20.1" fill="#66c2a5"/>
<rect x="720.0" y="1210.4" width="9.5" height="20.1" fill="#fc8d62"/>
<rect x="720.0" y="1233.3" width="272.4" height="20.1" fill="#66c2a5"/>
<rect x="720.0" y="1233.3" width="6.0" height="20.1" fill="#fc8d62"/>
<rect x="720.0" y="1256.2" width="272.4" height="20.1" fill="#66c2a5"/>
<rect x="706.7" y="702.1" width="288.6" height="576.9" fill="none" stroke="#222" stroke-width="1.9"/>
<line x1="702.1" y1="715.9" x2="706.7" y2="715.9" stroke="#333" stroke-width="1.5"/>
<text transform="translate(696.2 722.7) scale(1.075 1)" font-size="18.10" text-anchor="end">9918_G_A</text>
<line x1="702.1" y1="738.9" x2="706.7" y2="738.9" stroke="#333" stroke-width="1.5"/>
<text transform="translate(696.2 745.7) scale(1.075 1)" font-size="18.10" text-anchor="end">9616_T_C</text>
<line x1="702.1" y1="761.8" x2="706.7" y2="761.8" stroke="#333" stroke-width="1.5"/>
<text transform="translate(696.2 768.6) scale(1.075 1)" font-size="18.10" text-anchor="end">9498_T_A</text>
<line x1="702.1" y1="784.7" x2="706.7" y2="784.7" stroke="#333" stroke-width="1.5"/>
<text transform="translate(696.2 791.5) scale(1.075 1)" font-size="18.10" text-anchor="end">9144_C_A</text>
<line x1="702.1" y1="807.7" x2="706.7" y2="807.7" stroke="#333" stroke-width="1.5"/>
<text transform="translate(696.2 814.5) scale(1.075 1)" font-size="18.10" text-anchor="end">8323_T_C</text>
<line x1="702.1" y1="830.6" x2="706.7" y2="830.6" stroke="#333" stroke-width="1.5"/>
<text transform="translate(696.2 837.4) scale(1.075 1)" font-size="18.10" text-anchor="end">7102_T_G</text>
<line x1="702.1" y1="853.5" x2="706.7" y2="853.5" stroke="#333" stroke-width="1.5"/>
<text transform="translate(696.2 860.3) scale(1.075 1)" font-size="18.10" text-anchor="end">6137_T_G</text>
<line x1="702.1" y1="876.5" x2="706.7" y2="876.5" stroke="#333" stroke-width="1.5"/>
<text transform="translate(696.2 883.3) scale(1.075 1)" font-size="18.10" text-anchor="end">526_G_C</text>
<line x1="702.1" y1="899.4" x2="706.7" y2="899.4" stroke="#333" stroke-width="1.5"/>
<text transform="translate(696.2 906.2) scale(1.075 1)" font-size="18.10" text-anchor="end">4770_G_A</text>
<line x1="702.1" y1="922.3" x2="706.7" y2="922.3" stroke="#333" stroke-width="1.5"/>
<text transform="translate(696.2 929.1) scale(1.075 1)" font-size="18.10" text-anchor="end">3526_G_A</text>
<line x1="702.1" y1="945.2" x2="706.7" y2="945.2" stroke="#333" stroke-width="1.5"/>
<text transform="translate(696.2 952.0) scale(1.075 1)" font-size="18.10" text-anchor="end">3242_G_A</text>
<line x1="702.1" y1="968.2" x2="706.7" y2="968.2" stroke="#333" stroke-width="1.5"/>
<text transform="translate(696.2 975.0) scale(1.075 1)" font-size="18.10" text-anchor="end">16465_C_G</text>
<line x1="702.1" y1="991.1" x2="706.7" y2="991.1" stroke="#333" stroke-width="1.5"/>
<text transform="translate(696.2 997.9) scale(1.075 1)" font-size="18.10" text-anchor="end">15123_C_G</text>
<line x1="702.1" y1="1014.0" x2="706.7" y2="1014.0" stroke="#333" stroke-width="1.5"/>
<text transform="translate(696.2 1020.8) scale(1.075 1)" font-size="18.10" text-anchor="end">15086_A_G</text>
<line x1="702.1" y1="1037.0" x2="706.7" y2="1037.0" stroke="#333" stroke-width="1.5"/>
<text transform="translate(696.2 1043.8) scale(1.075 1)" font-size="18.10" text-anchor="end">14459_G_A</text>
<line x1="702.1" y1="1059.9" x2="706.7" y2="1059.9" stroke="#333" stroke-width="1.5"/>
<text transform="translate(696.2 1066.7) scale(1.075 1)" font-size="18.10" text-anchor="end">1368_T_C</text>
<line x1="702.1" y1="1082.8" x2="706.7" y2="1082.8" stroke="#333" stroke-width="1.5"/>
<text transform="translate(696.2 1089.6) scale(1.075 1)" font-size="18.10" text-anchor="end">1348_G_A</text>
<line x1="702.1" y1="1105.8" x2="706.7" y2="1105.8" stroke="#333" stroke-width="1.5"/>
<text transform="translate(696.2 1112.6) scale(1.075 1)" font-size="18.10" text-anchor="end">13450_T_C</text>
<line x1="702.1" y1="1128.7" x2="706.7" y2="1128.7" stroke="#333" stroke-width="1.5"/>
<text transform="translate(696.2 1135.5) scale(1.075 1)" font-size="18.10" text-anchor="end">12772_G_A</text>
<line x1="702.1" y1="1151.6" x2="706.7" y2="1151.6" stroke="#333" stroke-width="1.5"/>
<text transform="translate(696.2 1158.4) scale(1.075 1)" font-size="18.10" text-anchor="end">12266_A_G</text>
<line x1="702.1" y1="1174.5" x2="706.7" y2="1174.5" stroke="#333" stroke-width="1.5"/>
<text transform="translate(696.2 1181.3) scale(1.075 1)" font-size="18.10" text-anchor="end">11415_C_A</text>
<line x1="702.1" y1="1197.5" x2="706.7" y2="1197.5" stroke="#333" stroke-width="1.5"/>
<text transform="translate(696.2 1204.3) scale(1.075 1)" font-size="18.10" text-anchor="end">10656_A_T</text>
<line x1="702.1" y1="1220.4" x2="706.7" y2="1220.4" stroke="#333" stroke-width="1.5"/>
<text transform="translate(696.2 1227.2) scale(1.075 1)" font-size="18.10" text-anchor="end">10654_C_G</text>
<line x1="702.1" y1="1243.3" x2="706.7" y2="1243.3" stroke="#333" stroke-width="1.5"/>
<text transform="translate(696.2 1250.1) scale(1.075 1)" font-size="18.10" text-anchor="end">103_G_A</text>
<line x1="702.1" y1="1266.3" x2="706.7" y2="1266.3" stroke="#333" stroke-width="1.5"/>
<text transform="translate(696.2 1273.1) scale(1.075 1)" font-size="18.10" text-anchor="end">10197_G_A</text>
<line x1="720.2" y1="1279.0" x2="720.2" y2="1283.6" stroke="#333" stroke-width="1.5"/>
<text x="722.6" y="1305.2" font-size="23.50" text-anchor="middle">0</text>
<line x1="788.1" y1="1279.0" x2="788.1" y2="1283.6" stroke="#333" stroke-width="1.5"/>
<text x="794.2" y="1305.2" font-size="23.50" text-anchor="middle">0.25</text>
<line x1="855.5" y1="1279.0" x2="855.5" y2="1283.6" stroke="#333" stroke-width="1.5"/>
<text x="853.6" y="1305.2" font-size="23.50" text-anchor="middle">0.5</text>
<line x1="923.3" y1="1279.0" x2="923.3" y2="1283.6" stroke="#333" stroke-width="1.5"/>
<text x="931.0" y="1305.2" font-size="23.50" text-anchor="middle">0.75</text>
<text x="668.6" y="1334.5" font-size="27.30">Consensus score distribution</text>
<text x="650.9" y="689.4" font-size="27.00">Score</text>
<rect x="747.2" y="670.5" width="17.8" height="21.3" fill="#66c2a5"/>
<rect x="854.6" y="670.5" width="17.8" height="21.3" fill="#fc8d62"/>
<rect x="950.1" y="670.5" width="17.8" height="21.3" fill="#8da0cb"/>
<text x="768.3" y="693.3" font-size="26.50">100%</text>
<text x="877.6" y="693.3" font-size="26.50">80%</text>
<text x="971.5" y="693.3" font-size="26.50">75%</text>
</g>
<g id="pg">
<text x="1060.8" y="645.5" font-size="30.50" font-weight="bold">g</text>
<rect x="1155.0" y="706.0" width="236.2" height="19.7" fill="#e41a1c"/>
<rect x="1155.0" y="706.0" width="69.8" height="19.7" fill="#377eb8"/>
<rect x="1155.0" y="728.9" width="236.2" height="19.7" fill="#e41a1c"/>
<rect x="1155.0" y="728.9" width="9.6" height="19.7" fill="#377eb8"/>
<rect x="1155.0" y="751.8" width="236.2" height="19.7" fill="#e41a1c"/>
<rect x="1155.0" y="751.8" width="42.0" height="19.7" fill="#377eb8"/>
<rect x="1155.0" y="774.8" width="236.2" height="19.7" fill="#e41a1c"/>
<rect x="1155.0" y="774.8" width="24.8" height="19.7" fill="#377eb8"/>
<rect x="1155.0" y="797.7" width="236.2" height="19.7" fill="#e41a1c"/>
<rect x="1155.0" y="797.7" width="21.5" height="19.7" fill="#377eb8"/>
<rect x="1155.0" y="820.6" width="236.2" height="19.7" fill="#e41a1c"/>
<rect x="1155.0" y="820.6" width="23.6" height="19.7" fill="#377eb8"/>
<rect x="1155.0" y="843.5" width="236.2" height="19.7" fill="#e41a1c"/>
<rect x="1155.0" y="843.5" width="44.9" height="19.7" fill="#377eb8"/>
<rect x="1155.0" y="866.4" width="236.2" height="19.7" fill="#e41a1c"/>
<rect x="1155.0" y="889.4" width="236.2" height="19.7" fill="#e41a1c"/>
<rect x="1155.0" y="889.4" width="28.1" height="19.7" fill="#377eb8"/>
<rect x="1155.0" y="912.3" width="236.2" height="19.7" fill="#e41a1c"/>
<rect x="1155.0" y="912.3" width="8.8" height="19.7" fill="#377eb8"/>
<rect x="1155.0" y="935.2" width="236.2" height="19.7" fill="#e41a1c"/>
<rect x="1155.0" y="935.2" width="14.1" height="19.7" fill="#377eb8"/>
<rect x="1155.0" y="958.1" width="236.2" height="19.7" fill="#e41a1c"/>
<rect x="1155.0" y="958.1" width="8.0" height="19.7" fill="#377eb8"/>
<rect x="1155.0" y="981.0" width="236.2" height="19.7" fill="#e41a1c"/>
<rect x="1155.0" y="981.0" width="35.9" height="19.7" fill="#377eb8"/>
<rect x="1155.0" y="1004.0" width="236.2" height="19.7" fill="#e41a1c"/>
<rect x="1155.0" y="1004.0" width="25.6" height="19.7" fill="#377eb8"/>
<rect x="1155.0" y="1026.9" width="236.2" height="19.7" fill="#e41a1c"/>
<rect x="1155.0" y="1026.9" width="12.9" height="19.7" fill="#377eb8"/>
<rect x="1155.0" y="1049.8" width="236.2" height="19.7" fill="#e41a1c"/>
<rect x="1155.0" y="1049.8" width="24.4" height="19.7" fill="#377eb8"/>
<rect x="1155.0" y="1072.7" width="236.2" height="19.7" fill="#e41a1c"/>
<rect x="1155.0" y="1072.7" width="12.9" height="19.7" fill="#377eb8"/>
<rect x="1155.0" y="1095.6" width="236.2" height="19.7" fill="#e41a1c"/>
<rect x="1155.0" y="1095.6" width="22.3" height="19.7" fill="#377eb8"/>
<rect x="1155.0" y="1118.6" width="236.2" height="19.7" fill="#e41a1c"/>
<rect x="1155.0" y="1118.6" width="23.6" height="19.7" fill="#377eb8"/>
<rect x="1155.0" y="1141.5" width="236.2" height="19.7" fill="#e41a1c"/>
<rect x="1155.0" y="1141.5" width="109.2" height="19.7" fill="#377eb8"/>
<rect x="1155.0" y="1164.4" width="236.2" height="19.7" fill="#e41a1c"/>
<rect x="1155.0" y="1164.4" width="14.1" height="19.7" fill="#377eb8"/>
<rect x="1155.0" y="1187.3" width="236.2" height="19.7" fill="#e41a1c"/>
<rect x="1155.0" y="1187.3" width="21.5" height="19.7" fill="#377eb8"/>
<rect x="1155.0" y="1210.2" width="236.2" height="19.7" fill="#e41a1c"/>
<rect x="1155.0" y="1210.2" width="15.8" height="19.7" fill="#377eb8"/>
<rect x="1155.0" y="1233.2" width="236.2" height="19.7" fill="#e41a1c"/>
<rect x="1155.0" y="1256.1" width="236.2" height="19.7" fill="#e41a1c"/>
<rect x="1155.0" y="1256.1" width="14.1" height="19.7" fill="#377eb8"/>
<rect x="1143.2" y="701.9" width="260.0" height="577.1" fill="none" stroke="#1a1a1a" stroke-width="2"/>
<line x1="1138.2" y1="715.9" x2="1143.2" y2="715.9" stroke="#333" stroke-width="3"/>
<text transform="translate(1132.8 722.6) scale(1.07 1)" font-size="18.40" text-anchor="end">9918_G_A</text>
<line x1="1138.2" y1="738.8" x2="1143.2" y2="738.8" stroke="#333" stroke-width="3"/>
<text transform="translate(1132.8 745.6) scale(1.07 1)" font-size="18.40" text-anchor="end">9616_T_C</text>
<line x1="1138.2" y1="761.7" x2="1143.2" y2="761.7" stroke="#333" stroke-width="3"/>
<text transform="translate(1132.8 768.5) scale(1.07 1)" font-size="18.40" text-anchor="end">9498_T_A</text>
<line x1="1138.2" y1="784.6" x2="1143.2" y2="784.6" stroke="#333" stroke-width="3"/>
<text transform="translate(1132.8 791.4) scale(1.07 1)" font-size="18.40" text-anchor="end">9144_C_A</text>
<line x1="1138.2" y1="807.5" x2="1143.2" y2="807.5" stroke="#333" stroke-width="3"/>
<text transform="translate(1132.8 814.3) scale(1.07 1)" font-size="18.40" text-anchor="end">8323_T_C</text>
<line x1="1138.2" y1="830.5" x2="1143.2" y2="830.5" stroke="#333" stroke-width="3"/>
<text transform="translate(1132.8 837.2) scale(1.07 1)" font-size="18.40" text-anchor="end">7102_T_G</text>
<line x1="1138.2" y1="853.4" x2="1143.2" y2="853.4" stroke="#333" stroke-width="3"/>
<text transform="translate(1132.8 860.2) scale(1.07 1)" font-size="18.40" text-anchor="end">6137_T_G</text>
<line x1="1138.2" y1="876.3" x2="1143.2" y2="876.3" stroke="#333" stroke-width="3"/>
<text transform="translate(1132.8 883.1) scale(1.07 1)" font-size="18.40" text-anchor="end">526_G_C</text>
<line x1="1138.2" y1="899.2" x2="1143.2" y2="899.2" stroke="#333" stroke-width="3"/>
<text transform="translate(1132.8 906.0) scale(1.07 1)" font-size="18.40" text-anchor="end">4770_G_A</text>
<line x1="1138.2" y1="922.1" x2="1143.2" y2="922.1" stroke="#333" stroke-width="3"/>
<text transform="translate(1132.8 928.9) scale(1.07 1)" font-size="18.40" text-anchor="end">3526_G_A</text>
<line x1="1138.2" y1="945.1" x2="1143.2" y2="945.1" stroke="#333" stroke-width="3"/>
<text transform="translate(1132.8 951.9) scale(1.07 1)" font-size="18.40" text-anchor="end">3242_G_A</text>
<line x1="1138.2" y1="968.0" x2="1143.2" y2="968.0" stroke="#333" stroke-width="3"/>
<text transform="translate(1132.8 974.8) scale(1.07 1)" font-size="18.40" text-anchor="end">16465_C_G</text>
<line x1="1138.2" y1="990.9" x2="1143.2" y2="990.9" stroke="#333" stroke-width="3"/>
<text transform="translate(1132.8 997.7) scale(1.07 1)" font-size="18.40" text-anchor="end">15123_C_G</text>
<line x1="1138.2" y1="1013.8" x2="1143.2" y2="1013.8" stroke="#333" stroke-width="3"/>
<text transform="translate(1132.8 1020.6) scale(1.07 1)" font-size="18.40" text-anchor="end">15086_A_G</text>
<line x1="1138.2" y1="1036.7" x2="1143.2" y2="1036.7" stroke="#333" stroke-width="3"/>
<text transform="translate(1132.8 1043.5) scale(1.07 1)" font-size="18.40" text-anchor="end">14459_G_A</text>
<line x1="1138.2" y1="1059.6" x2="1143.2" y2="1059.6" stroke="#333" stroke-width="3"/>
<text transform="translate(1132.8 1066.4) scale(1.07 1)" font-size="18.40" text-anchor="end">1368_T_C</text>
<line x1="1138.2" y1="1082.6" x2="1143.2" y2="1082.6" stroke="#333" stroke-width="3"/>
<text transform="translate(1132.8 1089.4) scale(1.07 1)" font-size="18.40" text-anchor="end">1348_G_A</text>
<line x1="1138.2" y1="1105.5" x2="1143.2" y2="1105.5" stroke="#333" stroke-width="3"/>
<text transform="translate(1132.8 1112.3) scale(1.07 1)" font-size="18.40" text-anchor="end">13450_T_C</text>
<line x1="1138.2" y1="1128.4" x2="1143.2" y2="1128.4" stroke="#333" stroke-width="3"/>
<text transform="translate(1132.8 1135.2) scale(1.07 1)" font-size="18.40" text-anchor="end">12772_G_A</text>
<line x1="1138.2" y1="1151.3" x2="1143.2" y2="1151.3" stroke="#333" stroke-width="3"/>
<text transform="translate(1132.8 1158.1) scale(1.07 1)" font-size="18.40" text-anchor="end">12266_A_G</text>
<line x1="1138.2" y1="1174.2" x2="1143.2" y2="1174.2" stroke="#333" stroke-width="3"/>
<text transform="translate(1132.8 1181.0) scale(1.07 1)" font-size="18.40" text-anchor="end">11415_C_A</text>
<line x1="1138.2" y1="1197.2" x2="1143.2" y2="1197.2" stroke="#333" stroke-width="3"/>
<text transform="translate(1132.8 1204.0) scale(1.07 1)" font-size="18.40" text-anchor="end">10656_A_T</text>
<line x1="1138.2" y1="1220.1" x2="1143.2" y2="1220.1" stroke="#333" stroke-width="3"/>
<text transform="translate(1132.8 1226.9) scale(1.07 1)" font-size="18.40" text-anchor="end">10654_C_G</text>
<line x1="1138.2" y1="1243.0" x2="1143.2" y2="1243.0" stroke="#333" stroke-width="3"/>
<text transform="translate(1132.8 1249.8) scale(1.07 1)" font-size="18.40" text-anchor="end">103_G_A</text>
<line x1="1138.2" y1="1265.9" x2="1143.2" y2="1265.9" stroke="#333" stroke-width="3"/>
<text transform="translate(1132.8 1272.7) scale(1.07 1)" font-size="18.40" text-anchor="end">10197_G_A</text>
<line x1="1155.0" y1="1279.0" x2="1155.0" y2="1284.5" stroke="#333" stroke-width="3.6"/>
<text x="1161.2" y="1305.2" font-size="23.50" text-anchor="middle">0.00</text>
<line x1="1214.0" y1="1279.0" x2="1214.0" y2="1284.5" stroke="#333" stroke-width="3.6"/>
<text x="1220.5" y="1305.2" font-size="23.50" text-anchor="middle">0.25</text>
<line x1="1272.9" y1="1279.0" x2="1272.9" y2="1284.5" stroke="#333" stroke-width="3.6"/>
<text x="1279.0" y="1305.2" font-size="23.50" text-anchor="middle">0.50</text>
<line x1="1332.4" y1="1279.0" x2="1332.4" y2="1284.5" stroke="#333" stroke-width="3.6"/>
<text x="1337.7" y="1305.2" font-size="23.50" text-anchor="middle">0.75</text>
<line x1="1390.2" y1="1279.0" x2="1390.2" y2="1284.5" stroke="#333" stroke-width="3.6"/>
<text x="1397.1" y="1305.2" font-size="23.50" text-anchor="middle">1.00</text>
<rect x="1151.8" y="639.7" width="21.7" height="21.7" fill="#e41a1c"/>
<rect x="1151.8" y="671.8" width="21.7" height="21.7" fill="#377eb8"/>
<text x="1183.4" y="661.4" font-size="27.30">Paired-end overlap</text>
<text x="1183.4" y="690.4" font-size="27.20">Single-strand</text>
<text x="1124.5" y="1334.5" font-size="27.30">Paired-end overlapping</text>
<text x="1202.6" y="1367.9" font-size="27.30">distribution</text>
</g>
<g id="ph">
<text x="1490.0" y="654.6" font-size="30.50" font-weight="bold">h</text>
<line x1="1584.1" y1="713.4" x2="2014.2" y2="713.4" stroke="#ebebeb" stroke-width="1.5"/>
<line x1="1584.1" y1="736.3" x2="2014.2" y2="736.3" stroke="#ebebeb" stroke-width="1.5"/>
<line x1="1584.1" y1="759.3" x2="2014.2" y2="759.3" stroke="#ebebeb" stroke-width="1.5"/>
<line x1="1584.1" y1="782.2" x2="2014.2" y2="782.2" stroke="#ebebeb" stroke-width="1.5"/>
<line x1="1584.1" y1="805.1" x2="2014.2" y2="805.1" stroke="#ebebeb" stroke-width="1.5"/>
<line x1="1584.1" y1="828.0" x2="2014.2" y2="828.0" stroke="#ebebeb" stroke-width="1.5"/>
<line x1="1584.1" y1="851.0" x2="2014.2" y2="851.0" stroke="#ebebeb" stroke-width="1.5"/>
<line x1="1584.1" y1="873.9" x2="2014.2" y2="873.9" stroke="#ebebeb" stroke-width="1.5"/>
<line x1="1584.1" y1="896.8" x2="2014.2" y2="896.8" stroke="#ebebeb" stroke-width="1.5"/>
<line x1="1584.1" y1="919.8" x2="2014.2" y2="919.8" stroke="#ebebeb" stroke-width="1.5"/>
<line x1="1584.1" y1="942.7" x2="2014.2" y2="942.7" stroke="#ebebeb" stroke-width="1.5"/>
<line x1="1584.1" y1="965.6" x2="2014.2" y2="965.6" stroke="#ebebeb" stroke-width="1.5"/>
<line x1="1584.1" y1="988.6" x2="2014.2" y2="988.6" stroke="#ebebeb" stroke-width="1.5"/>
<line x1="1584.1" y1="1011.5" x2="2014.2" y2="1011.5" stroke="#ebebeb" stroke-width="1.5"/>
<line x1="1584.1" y1="1034.4" x2="2014.2" y2="1034.4" stroke="#ebebeb" stroke-width="1.5"/>
<line x1="1584.1" y1="1057.3" x2="2014.2" y2="1057.3" stroke="#ebebeb" stroke-width="1.5"/>
<line x1="1584.1" y1="1080.3" x2="2014.2" y2="1080.3" stroke="#ebebeb" stroke-width="1.5"/>
<line x1="1584.1" y1="1103.2" x2="2014.2" y2="1103.2" stroke="#ebebeb" stroke-width="1.5"/>
<line x1="1584.1" y1="1126.1" x2="2014.2" y2="1126.1" stroke="#ebebeb" stroke-width="1.5"/>
<line x1="1584.1" y1="1149.1" x2="2014.2" y2="1149.1" stroke="#ebebeb" stroke-width="1.5"/>
<line x1="1584.1" y1="1172.0" x2="2014.2" y2="1172.0" stroke="#ebebeb" stroke-width="1.5"/>
<line x1="1584.1" y1="1194.9" x2="2014.2" y2="1194.9" stroke="#ebebeb" stroke-width="1.5"/>
<line x1="1584.1" y1="1217.9" x2="2014.2" y2="1217.9" stroke="#ebebeb" stroke-width="1.5"/>
<line x1="1584.1" y1="1240.8" x2="2014.2" y2="1240.8" stroke="#ebebeb" stroke-width="1.5"/>
<line x1="1584.1" y1="1263.7" x2="2014.2" y2="1263.7" stroke="#ebebeb" stroke-width="1.5"/>
<line x1="1604.0" y1="699.0" x2="1604.0" y2="1276.2" stroke="#ebebeb" stroke-width="1.5"/>
<line x1="1701.1" y1="699.0" x2="1701.1" y2="1276.2" stroke="#ebebeb" stroke-width="1.5"/>
<line x1="1798.5" y1="699.0" x2="1798.5" y2="1276.2" stroke="#ebebeb" stroke-width="1.5"/>
<line x1="1896.6" y1="699.0" x2="1896.6" y2="1276.2" stroke="#ebebeb" stroke-width="1.5"/>
<line x1="1994.0" y1="699.0" x2="1994.0" y2="1276.2" stroke="#ebebeb" stroke-width="1.5"/>
<line x1="1652.5" y1="699.0" x2="1652.5" y2="1276.2" stroke="#f3f3f3" stroke-width="1.1"/>
<line x1="1749.8" y1="699.0" x2="1749.8" y2="1276.2" stroke="#f3f3f3" stroke-width="1.1"/>
<line x1="1847.5" y1="699.0" x2="1847.5" y2="1276.2" stroke="#f3f3f3" stroke-width="1.1"/>
<line x1="1945.3" y1="699.0" x2="1945.3" y2="1276.2" stroke="#f3f3f3" stroke-width="1.1"/>
<ellipse cx="1750.0" cy="713.4" rx="5.1" ry="5.9" fill="#0a0a0a"/>
<ellipse cx="1792.9" cy="736.3" rx="5.1" ry="5.9" fill="#0a0a0a"/>
<ellipse cx="1798.7" cy="759.3" rx="5.1" ry="5.9" fill="#0a0a0a"/>
<ellipse cx="1783.5" cy="782.2" rx="5.1" ry="5.9" fill="#0a0a0a"/>
<ellipse cx="1815.9" cy="805.1" rx="5.1" ry="5.9" fill="#0a0a0a"/>
<ellipse cx="1794.2" cy="828.0" rx="5.1" ry="5.9" fill="#0a0a0a"/>
<ellipse cx="1821.2" cy="851.0" rx="5.1" ry="5.9" fill="#0a0a0a"/>
<ellipse cx="1798.7" cy="873.9" rx="5.1" ry="5.9" fill="#0a0a0a"/>
<ellipse cx="1792.1" cy="896.8" rx="5.1" ry="5.9" fill="#0a0a0a"/>
<ellipse cx="1795.8" cy="919.8" rx="5.1" ry="5.9" fill="#0a0a0a"/>
<ellipse cx="1802.8" cy="942.7" rx="5.1" ry="5.9" fill="#0a0a0a"/>
<ellipse cx="1787.2" cy="965.6" rx="5.1" ry="5.9" fill="#0a0a0a"/>
<ellipse cx="1770.0" cy="988.6" rx="5.1" ry="5.9" fill="#0a0a0a"/>
<ellipse cx="1787.6" cy="1011.5" rx="5.1" ry="5.9" fill="#0a0a0a"/>
<ellipse cx="1814.2" cy="1034.4" rx="5.1" ry="5.9" fill="#0a0a0a"/>
<ellipse cx="1783.1" cy="1057.3" rx="5.1" ry="5.9" fill="#0a0a0a"/>
<ellipse cx="1796.2" cy="1080.3" rx="5.1" ry="5.9" fill="#0a0a0a"/>
<ellipse cx="1802.4" cy="1103.2" rx="5.1" ry="5.9" fill="#0a0a0a"/>
<ellipse cx="1784.8" cy="1126.1" rx="5.1" ry="5.9" fill="#0a0a0a"/>
<ellipse cx="1720.9" cy="1149.1" rx="5.1" ry="5.9" fill="#0a0a0a"/>
<ellipse cx="1794.6" cy="1172.0" rx="5.1" ry="5.9" fill="#0a0a0a"/>
<ellipse cx="1793.8" cy="1194.9" rx="5.1" ry="5.9" fill="#0a0a0a"/>
<ellipse cx="1788.4" cy="1217.9" rx="5.1" ry="5.9" fill="#0a0a0a"/>
<ellipse cx="1798.7" cy="1240.8" rx="5.1" ry="5.9" fill="#0a0a0a"/>
<ellipse cx="1796.2" cy="1263.7" rx="5.1" ry="5.9" fill="#0a0a0a"/>
<rect x="1584.1" y="699.0" width="430.1" height="577.2" fill="none" stroke="#333" stroke-width="1.8"/>
<line x1="1578.8" y1="713.4" x2="1584.1" y2="713.4" stroke="#333" stroke-width="2.6"/>
<text x="1573.6" y="720.2" font-size="20.50" text-anchor="end">9918_G_A</text>
<line x1="1578.8" y1="736.3" x2="1584.1" y2="736.3" stroke="#333" stroke-width="2.6"/>
<text x="1573.6" y="743.1" font-size="20.50" text-anchor="end">9616_T_C</text>
<line x1="1578.8" y1="759.3" x2="1584.1" y2="759.3" stroke="#333" stroke-width="2.6"/>
<text x="1573.6" y="766.1" font-size="20.50" text-anchor="end">9498_T_A</text>
<line x1="1578.8" y1="782.2" x2="1584.1" y2="782.2" stroke="#333" stroke-width="2.6"/>
<text x="1573.6" y="789.0" font-size="20.50" text-anchor="end">9144_C_A</text>
<line x1="1578.8" y1="805.1" x2="1584.1" y2="805.1" stroke="#333" stroke-width="2.6"/>
<text x="1573.6" y="811.9" font-size="20.50" text-anchor="end">8323_T_C</text>
<line x1="1578.8" y1="828.0" x2="1584.1" y2="828.0" stroke="#333" stroke-width="2.6"/>
<text x="1573.6" y="834.8" font-size="20.50" text-anchor="end">7102_T_G</text>
<line x1="1578.8" y1="851.0" x2="1584.1" y2="851.0" stroke="#333" stroke-width="2.6"/>
<text x="1573.6" y="857.8" font-size="20.50" text-anchor="end">6137_T_G</text>
<line x1="1578.8" y1="873.9" x2="1584.1" y2="873.9" stroke="#333" stroke-width="2.6"/>
<text x="1573.6" y="880.7" font-size="20.50" text-anchor="end">526_G_C</text>
<line x1="1578.8" y1="896.8" x2="1584.1" y2="896.8" stroke="#333" stroke-width="2.6"/>
<text x="1573.6" y="903.6" font-size="20.50" text-anchor="end">4770_G_A</text>
<line x1="1578.8" y1="919.8" x2="1584.1" y2="919.8" stroke="#333" stroke-width="2.6"/>
<text x="1573.6" y="926.6" font-size="20.50" text-anchor="end">3526_G_A</text>
<line x1="1578.8" y1="942.7" x2="1584.1" y2="942.7" stroke="#333" stroke-width="2.6"/>
<text x="1573.6" y="949.5" font-size="20.50" text-anchor="end">3242_G_A</text>
<line x1="1578.8" y1="965.6" x2="1584.1" y2="965.6" stroke="#333" stroke-width="2.6"/>
<text x="1573.6" y="972.4" font-size="20.50" text-anchor="end">16465_C_G</text>
<line x1="1578.8" y1="988.6" x2="1584.1" y2="988.6" stroke="#333" stroke-width="2.6"/>
<text x="1573.6" y="995.4" font-size="20.50" text-anchor="end">15123_C_G</text>
<line x1="1578.8" y1="1011.5" x2="1584.1" y2="1011.5" stroke="#333" stroke-width="2.6"/>
<text x="1573.6" y="1018.3" font-size="20.50" text-anchor="end">15086_A_G</text>
<line x1="1578.8" y1="1034.4" x2="1584.1" y2="1034.4" stroke="#333" stroke-width="2.6"/>
<text x="1573.6" y="1041.2" font-size="20.50" text-anchor="end">14459_G_A</text>
<line x1="1578.8" y1="1057.3" x2="1584.1" y2="1057.3" stroke="#333" stroke-width="2.6"/>
<text x="1573.6" y="1064.1" font-size="20.50" text-anchor="end">1368_T_C</text>
<line x1="1578.8" y1="1080.3" x2="1584.1" y2="1080.3" stroke="#333" stroke-width="2.6"/>
<text x="1573.6" y="1087.1" font-size="20.50" text-anchor="end">1348_G_A</text>
<line x1="1578.8" y1="1103.2" x2="1584.1" y2="1103.2" stroke="#333" stroke-width="2.6"/>
<text x="1573.6" y="1110.0" font-size="20.50" text-anchor="end">13450_T_C</text>
<line x1="1578.8" y1="1126.1" x2="1584.1" y2="1126.1" stroke="#333" stroke-width="2.6"/>
<text x="1573.6" y="1132.9" font-size="20.50" text-anchor="end">12772_G_A</text>
<line x1="1578.8" y1="1149.1" x2="1584.1" y2="1149.1" stroke="#333" stroke-width="2.6"/>
<text x="1573.6" y="1155.9" font-size="20.50" text-anchor="end">12266_A_G</text>
<line x1="1578.8" y1="1172.0" x2="1584.1" y2="1172.0" stroke="#333" stroke-width="2.6"/>
<text x="1573.6" y="1178.8" font-size="20.50" text-anchor="end">11415_C_A</text>
<line x1="1578.8" y1="1194.9" x2="1584.1" y2="1194.9" stroke="#333" stroke-width="2.6"/>
<text x="1573.6" y="1201.7" font-size="20.50" text-anchor="end">10656_A_T</text>
<line x1="1578.8" y1="1217.9" x2="1584.1" y2="1217.9" stroke="#333" stroke-width="2.6"/>
<text x="1573.6" y="1224.7" font-size="20.50" text-anchor="end">10654_C_G</text>
<line x1="1578.8" y1="1240.8" x2="1584.1" y2="1240.8" stroke="#333" stroke-width="2.6"/>
<text x="1573.6" y="1247.6" font-size="20.50" text-anchor="end">103_G_A</text>
<line x1="1578.8" y1="1263.7" x2="1584.1" y2="1263.7" stroke="#333" stroke-width="2.6"/>
<text x="1573.6" y="1270.5" font-size="20.50" text-anchor="end">10197_G_A</text>
<line x1="1604.0" y1="1276.2" x2="1604.0" y2="1281.7" stroke="#333" stroke-width="3.6"/>
<text x="1608.1" y="1302.7" font-size="23.30" text-anchor="middle">0.0</text>
<line x1="1701.1" y1="1276.2" x2="1701.1" y2="1281.7" stroke="#333" stroke-width="3.6"/>
<text x="1706.0" y="1302.7" font-size="23.30" text-anchor="middle">0.5</text>
<line x1="1798.5" y1="1276.2" x2="1798.5" y2="1281.7" stroke="#333" stroke-width="3.6"/>
<text x="1805.0" y="1302.7" font-size="23.30" text-anchor="middle">1.0</text>
<line x1="1896.6" y1="1276.2" x2="1896.6" y2="1281.7" stroke="#333" stroke-width="3.6"/>
<text x="1902.9" y="1302.7" font-size="23.30" text-anchor="middle">1.5</text>
<line x1="1994.0" y1="1276.2" x2="1994.0" y2="1281.7" stroke="#333" stroke-width="3.6"/>
<text x="1998.6" y="1302.7" font-size="23.30" text-anchor="middle">2.0</text>
<text x="1697.9" y="1335.7" font-size="27.30">Strand bias ratio</text>
</g>
<g id="pi">
<text x="30.2" y="1412.8" font-size="30.50" font-weight="bold">i</text>
<rect x="44.0" y="1663.8" width="213.5" height="94.2" fill="#b4d4f0" stroke="#1c2733" stroke-width="1.7"/>
<text x="51.0" y="1686.3" font-size="23.40">Mutation candidate</text>
<text x="70.7" y="1714.8" font-size="23.40">Overlapped by</text>
<text x="88.0" y="1743.3" font-size="23.40">R1 and R2?</text>
<line x1="257.5" y1="1711.4" x2="295.1" y2="1674.6" stroke="#000" stroke-width="2.0"/>
<polygon points="306.2,1663.8 301.1,1682.2 287.7,1668.5" fill="#000"/>
<line x1="257.5" y1="1711.4" x2="295.0" y2="1747.3" stroke="#000" stroke-width="2.0"/>
<polygon points="306.2,1758.0 287.6,1753.5 300.9,1739.7" fill="#000"/>
<text x="276.4" y="1619.8" font-size="29.20">Yes</text>
<text x="281.5" y="1787.3" font-size="27.20">No</text>
<rect x="347.1" y="1551.5" width="212.9" height="93.6" fill="#b4d4f0" stroke="#1c2733" stroke-width="1.7"/>
<text x="351.9" y="1592.2" font-size="23.40">R1 and R2 both call</text>
<text x="387.8" y="1621.2" font-size="23.40">the mutation?</text>
<rect x="634.9" y="1551.5" width="212.9" height="93.6" fill="#b4d4f0" stroke="#1c2733" stroke-width="1.7"/>
<text x="666.5" y="1578.0" font-size="23.40">mutation base</text>
<text x="677.9" y="1606.4" font-size="23.40">Q(R1)&gt;30 or</text>
<text x="687.3" y="1634.9" font-size="23.40">Q(R2&gt;30)?</text>
<rect x="922.2" y="1551.3" width="213.0" height="93.9" fill="#b4d4f0" stroke="#1c2733" stroke-width="1.7"/>
<text x="938.1" y="1590.7" font-size="23.40" xml:space="preserve">Consensus % &gt;<tspan font-weight="bold" font-style="italic">c</tspan>?</text>
<text x="956.9" y="1618.6" font-size="23.40" xml:space="preserve">Default <tspan font-weight="bold" font-style="italic">c</tspan>=0.75</text>
<rect x="1208.2" y="1554.7" width="212.6" height="93.5" fill="#b4d4f0" stroke="#1c2733" stroke-width="1.7"/>
<text x="1212.3" y="1594.0" font-size="23.40" xml:space="preserve">UMI group size ≥<tspan font-weight="bold" font-style="italic">a</tspan>?</text>
<text x="1254.3" y="1622.6" font-size="23.40" xml:space="preserve">Default <tspan font-weight="bold" font-style="italic">a</tspan>=2</text>
<rect x="347.1" y="1775.3" width="212.9" height="93.7" fill="#b4d4f0" stroke="#1c2733" stroke-width="1.7"/>
<text x="377.5" y="1817.7" font-size="23.40">mutation base</text>
<text x="418.8" y="1846.8" font-size="23.40">Q&gt;30?</text>
<rect x="634.9" y="1774.2" width="212.9" height="93.6" fill="#b4d4f0" stroke="#1c2733" stroke-width="1.7"/>
<text x="650.8" y="1812.6" font-size="23.40" xml:space="preserve">Consensus % &gt;<tspan font-weight="bold" font-style="italic">c</tspan>?</text>
<text x="670.2" y="1841.1" font-size="23.40" xml:space="preserve">Default <tspan font-weight="bold" font-style="italic">c</tspan>=0.75</text>
<rect x="921.6" y="1774.6" width="212.6" height="93.5" fill="#b4d4f0" stroke="#1c2733" stroke-width="1.7"/>
<text x="926.3" y="1813.3" font-size="23.40" xml:space="preserve">UMI group size ≥<tspan font-weight="bold" font-style="italic">a</tspan>?</text>
<text x="967.7" y="1841.9" font-size="23.40" xml:space="preserve">Default <tspan font-weight="bold" font-style="italic">a</tspan>=3</text>
<rect x="1208.9" y="1774.6" width="211.9" height="93.5" fill="#b4d4f0" stroke="#1c2733" stroke-width="1.7"/>
<text x="1257.0" y="1827.4" font-size="23.40">Strand bias?</text>
<line x1="454.4" y1="1541.5" x2="454.4" y2="1489.9" stroke="#000" stroke-width="2.0"/>
<polygon points="454.4,1474.4 464.0,1490.9 444.8,1490.9" fill="#000"/>
<line x1="454.4" y1="1868.5" x2="454.4" y2="1920.5" stroke="#000" stroke-width="2.0"/>
<polygon points="454.4,1936.0 444.8,1919.5 464.0,1919.5" fill="#000"/>
<line x1="745.1" y1="1541.5" x2="745.1" y2="1489.9" stroke="#000" stroke-width="2.0"/>
<polygon points="745.1,1474.4 754.7,1490.9 735.5,1490.9" fill="#000"/>
<line x1="745.1" y1="1868.5" x2="745.1" y2="1920.5" stroke="#000" stroke-width="2.0"/>
<polygon points="745.1,1936.0 735.5,1919.5 754.7,1919.5" fill="#000"/>
<line x1="1032.6" y1="1541.5" x2="1032.6" y2="1489.9" stroke="#000" stroke-width="2.0"/>
<polygon points="1032.6,1474.4 1042.2,1490.9 1023.0,1490.9" fill="#000"/>
<line x1="1032.6" y1="1868.5" x2="1032.6" y2="1920.5" stroke="#000" stroke-width="2.0"/>
<polygon points="1032.6,1936.0 1023.0,1919.5 1042.2,1919.5" fill="#000"/>
<line x1="1319.9" y1="1541.5" x2="1319.9" y2="1489.9" stroke="#000" stroke-width="2.0"/>
<polygon points="1319.9,1474.4 1329.5,1490.9 1310.3,1490.9" fill="#000"/>
<line x1="1319.9" y1="1868.5" x2="1319.9" y2="1920.5" stroke="#000" stroke-width="2.0"/>
<polygon points="1319.9,1936.0 1310.3,1919.5 1329.5,1919.5" fill="#000"/>
<text x="419.0" y="1454.3" font-size="27.30" fill="#c1272d">Dump</text>
<text x="419.0" y="1969.4" font-size="27.30" fill="#c1272d">Dump</text>
<text x="709.6" y="1454.3" font-size="27.30" fill="#c1272d">Dump</text>
<text x="709.6" y="1969.4" font-size="27.30" fill="#c1272d">Dump</text>
<text x="996.9" y="1454.3" font-size="27.30" fill="#c1272d">Dump</text>
<text x="996.9" y="1969.4" font-size="27.30" fill="#c1272d">Dump</text>
<text x="1283.6" y="1454.3" font-size="27.30" fill="#c1272d">Dump</text>
<text x="1283.6" y="1969.4" font-size="27.30" fill="#c1272d">Dump</text>
<text x="479.7" y="1524.6" font-size="27.20">No</text>
<text x="770.7" y="1524.6" font-size="27.20">No</text>
<text x="1058.2" y="1524.6" font-size="27.20">No</text>
<text x="1345.2" y="1524.6" font-size="27.20">No</text>
<text x="478.9" y="1910.1" font-size="27.20">No</text>
<text x="771.3" y="1910.1" font-size="27.20">No</text>
<text x="1057.2" y="1910.1" font-size="27.20">No</text>
<text x="1333.2" y="1910.2" font-size="29.20">Yes</text>
<line x1="562.0" y1="1604.7" x2="614.0" y2="1604.7" stroke="#000" stroke-width="2.0"/>
<polygon points="629.5,1604.7 613.0,1614.3 613.0,1595.1" fill="#000"/>
<text x="569.5" y="1581.7" font-size="33.20">Yes</text>
<line x1="850.0" y1="1605.1" x2="901.0" y2="1605.1" stroke="#000" stroke-width="2.0"/>
<polygon points="916.5,1605.1 900.0,1614.7 900.0,1595.5" fill="#000"/>
<text x="861.2" y="1583.3" font-size="29.20">Yes</text>
<line x1="1137.0" y1="1601.8" x2="1187.0" y2="1601.8" stroke="#000" stroke-width="2.0"/>
<polygon points="1202.5,1601.8 1186.0,1611.4 1186.0,1592.2" fill="#000"/>
<text x="1146.5" y="1578.9" font-size="29.20">Yes</text>
<line x1="562.0" y1="1821.1" x2="614.0" y2="1821.1" stroke="#000" stroke-width="2.0"/>
<polygon points="629.5,1821.1 613.0,1830.7 613.0,1811.5" fill="#000"/>
<text x="569.5" y="1797.8" font-size="33.20">Yes</text>
<line x1="850.0" y1="1821.7" x2="900.0" y2="1821.7" stroke="#000" stroke-width="2.0"/>
<polygon points="915.5,1821.7 899.0,1831.3 899.0,1812.1" fill="#000"/>
<text x="859.5" y="1798.1" font-size="29.20">Yes</text>
<line x1="1136.0" y1="1821.7" x2="1186.0" y2="1821.7" stroke="#000" stroke-width="2.0"/>
<polygon points="1201.5,1821.7 1185.0,1831.3 1185.0,1812.1" fill="#000"/>
<text x="1146.5" y="1802.2" font-size="29.20">Yes</text>
<line x1="1420.9" y1="1602.2" x2="1489.4" y2="1685.4" stroke="#000" stroke-width="2.0"/>
<polygon points="1499.3,1697.4 1481.4,1690.8 1496.2,1678.6" fill="#000"/>
<line x1="1420.9" y1="1821.2" x2="1490.7" y2="1717.3" stroke="#000" stroke-width="2.0"/>
<polygon points="1499.3,1704.4 1498.1,1723.5 1482.1,1712.7" fill="#000"/>
<text x="1451.4" y="1615.2" font-size="29.20">Yes</text>
<text x="1455.6" y="1827.1" font-size="27.20">No</text>
<text x="1593.4" y="1456.5" font-size="27.30">Downstream filtering</text>
<rect x="1507.0" y="1470.8" width="410.8" height="457.8" fill="#b4d4f0" stroke="#1c2733" stroke-width="1.7"/>
<text x="1626.3" y="1514.2" font-size="23.60" font-weight="bold">Variant filtering</text>
<circle cx="1534.9" cy="1535.4" r="3.6" fill="#000"/>
<text x="1549.3" y="1545.9" font-size="23.40" xml:space="preserve">Mutations shown in &gt;=<tspan font-weight="bold" font-style="italic">N</tspan> cells</text>
<text x="1529.2" y="1574.4" font-size="23.40" xml:space="preserve">(Default <tspan font-weight="bold" font-style="italic">N</tspan>=2)</text>
<circle cx="1534.9" cy="1601.1" r="3.6" fill="#000"/>
<text x="1549.3" y="1611.6" font-size="23.40">Mutations with maxallele</text>
<text x="1529.2" y="1639.7" font-size="23.40" xml:space="preserve">count per cell &gt;= <tspan font-weight="bold" font-style="italic">M</tspan> (Default <tspan font-weight="bold" font-style="italic">M</tspan>=2)</text>
<circle cx="1534.9" cy="1667.5" r="3.6" fill="#000"/>
<text x="1549.3" y="1678.0" font-size="23.40">Remove Homoplasmy mutations</text>
<line x1="1507.0" y1="1699.9" x2="1917.8" y2="1699.9" stroke="#000" stroke-width="1.8" stroke-dasharray="8.8 5.9"/>
<line x1="1917.8" y1="1699.9" x2="1941.1" y2="1699.9" stroke="#000" stroke-width="1.8"/>
<polygon points="1956.1,1699.9 1940.1,1708.7 1940.1,1691.1" fill="#000"/>
<text x="1644.5" y="1738.6" font-size="23.60" font-weight="bold">Cell filtering</text>
<circle cx="1534.9" cy="1767.1" r="3.6" fill="#000"/>
<text x="1549.3" y="1777.6" font-size="23.40" xml:space="preserve">Cells with mito depth&gt;=<tspan font-weight="bold" font-style="italic">D</tspan></text>
<text x="1529.2" y="1805.0" font-size="23.40" xml:space="preserve">(Default <tspan font-weight="bold" font-style="italic">D</tspan>=10)</text>
<circle cx="1534.9" cy="1832.8" r="3.6" fill="#000"/>
<text x="1549.3" y="1843.3" font-size="23.40">Cells qualified in Cell-ranger</text>
<circle cx="1534.9" cy="1870.4" r="3.6" fill="#000"/>
<text x="1549.3" y="1880.9" font-size="23.40" xml:space="preserve">Cells with mtDNA mutation&gt;=<tspan font-weight="bold" font-style="italic">V</tspan></text>
<text x="1529.2" y="1909.0" font-size="23.40" xml:space="preserve">(Default <tspan font-weight="bold" font-style="italic">V</tspan>=2)</text>
<text x="1965.2" y="1711.2" font-size="23.30">Cell X mutation</text>
<text x="1984.5" y="1739.3" font-size="23.30">count matrix</text>
<line x1="59.2" y1="2003.6" x2="739.7" y2="2003.6" stroke="#000" stroke-width="3.4"/>
<line x1="824.5" y1="2003.6" x2="1457.3" y2="2003.6" stroke="#000" stroke-width="3.4"/>
<line x1="1483.6" y1="2003.6" x2="1933.5" y2="2003.6" stroke="#000" stroke-width="3.4"/>
<text x="253.0" y="2050.8" font-size="27.30">Data Preprocessing</text>
<text x="904.4" y="2050.0" font-size="27.30">Consensus filtering &amp; strand bias removal</text>
<text x="1540.2" y="2051.2" font-size="27.30">Remove potential NUMT and</text>
<text x="1542.0" y="2084.1" font-size="27.30">identify informative mutations</text>
</g>
</svg></body></html>
